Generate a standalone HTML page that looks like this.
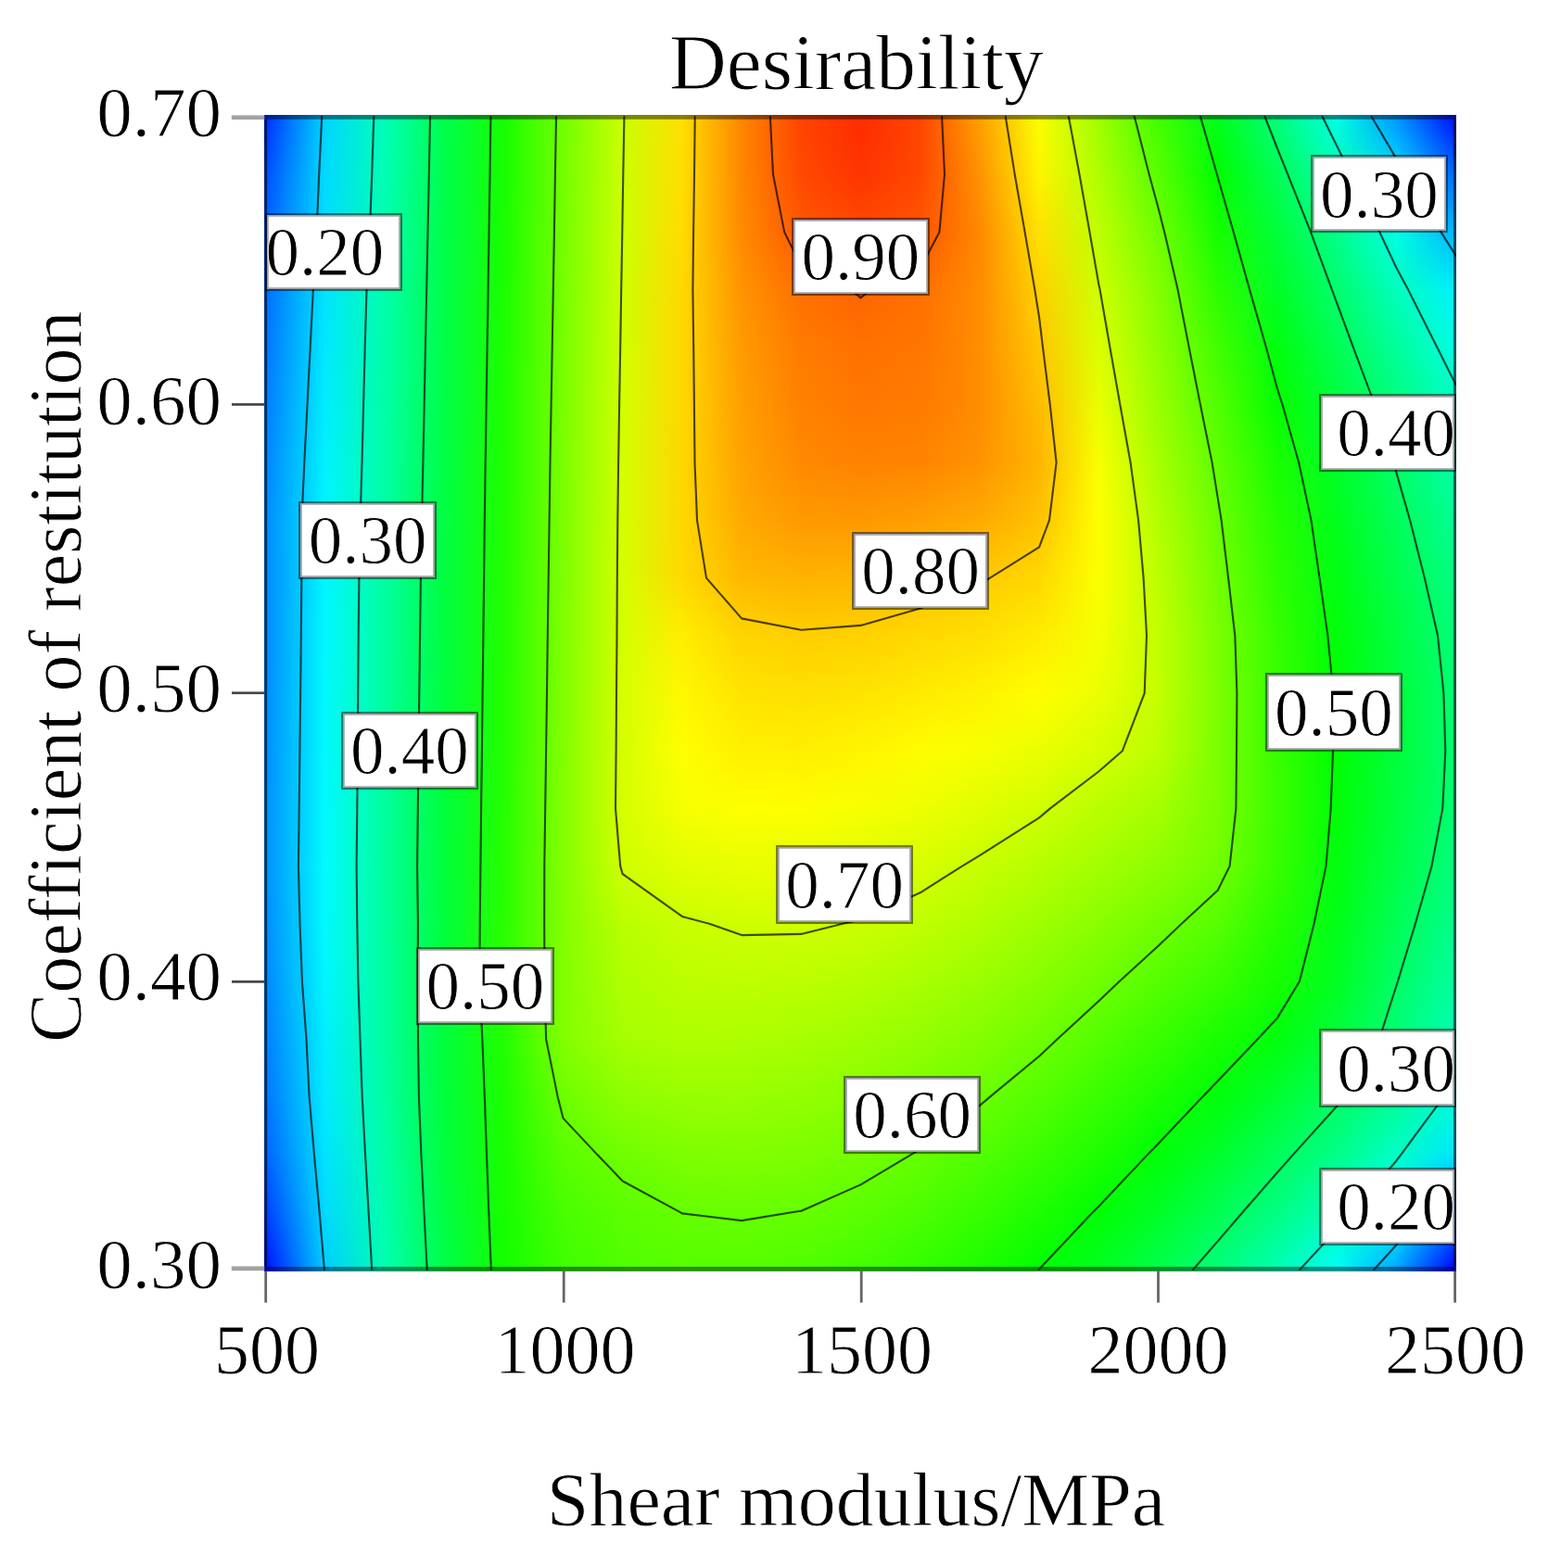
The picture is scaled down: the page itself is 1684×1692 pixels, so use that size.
<!DOCTYPE html><html><head><meta charset="utf-8"><style>
*{margin:0;padding:0}
html,body{width:1684px;height:1692px;background:#fff;overflow:hidden}
body{position:relative;font-family:"Liberation Serif","Times New Roman",serif;color:#000}
#f{position:absolute;left:285px;top:124px;width:1286px;height:1248px;overflow:hidden}
#f i{position:absolute;left:0;width:100%;display:block}
svg{position:absolute;left:0;top:0}
.lb{position:absolute;box-sizing:border-box;background:#fff;background-clip:padding-box;border:2.6px solid rgba(0,0,0,.5);box-shadow:inset 0 0 0 1.8px #a0a0a4}
.t{position:absolute;white-space:nowrap;line-height:1;-webkit-text-stroke:.85px #fff;paint-order:normal}
</style></head><body>
<div id="f"><i style="top:0px;height:2px;background:linear-gradient(90deg,#002fff 1.5px,#00d5ff,#00ffb7,#00ff4d,#15ff00,#71ff00,#caff00,#ffdf00,#ff8600,#ff4300,#ff2b00,#ff4500,#ffa000,#f9ff00,#9fff00,#40ff00,#00ff1a,#00ff7a,#00ffe6,#0096ff,#000cff 1285.5px)"></i><i style="top:2px;height:2px;background:linear-gradient(90deg,#002fff 1.5px,#00d5ff,#00ffb7,#00ff4d,#15ff00,#71ff00,#caff00,#ffdf00,#ff8600,#ff4300,#ff2b00,#ff4500,#ffa000,#f9ff00,#9fff00,#41ff00,#00ff1a,#00ff79,#00ffe5,#0097ff,#000eff 1285.5px)"></i><i style="top:4px;height:2px;background:linear-gradient(90deg,#0030ff 1.5px,#00d5ff,#00ffb7,#00ff4d,#15ff00,#71ff00,#caff00,#ffdf00,#ff8600,#ff4300,#ff2c00,#ff4500,#ff9f00,#f9fe00,#9fff00,#42ff00,#00ff19,#00ff78,#00ffe3,#009aff,#0011ff 1285.5px)"></i><i style="top:6px;height:2px;background:linear-gradient(90deg,#0031ff 1.5px,#00d5ff,#00ffb7,#00ff4d,#15ff00,#71ff00,#caff00,#ffdf00,#ff8600,#ff4400,#ff2c00,#ff4500,#ff9f00,#f9fe00,#a0ff00,#42ff00,#00ff18,#00ff77,#00ffe2,#009cff,#0014ff 1285.5px)"></i><i style="top:8px;height:2px;background:linear-gradient(90deg,#0032ff 1.5px,#00d6ff,#00ffb7,#00ff4d,#15ff00,#71ff00,#caff00,#ffdf00,#ff8600,#ff4400,#ff2c00,#ff4500,#ff9e00,#f9fe00,#a0ff00,#43ff00,#00ff17,#00ff76,#00ffe0,#009fff,#0017ff 1285.5px)"></i><i style="top:10px;height:2px;background:linear-gradient(90deg,#0033ff 1.5px,#00d6ff,#00ffb7,#00ff4d,#15ff00,#71ff00,#caff00,#ffdf00,#ff8600,#ff4400,#ff2d00,#ff4500,#ff9e00,#fafd00,#a1ff00,#44ff00,#00ff17,#00ff75,#00ffde,#00a1ff,#001aff 1285.5px)"></i><i style="top:12px;height:2px;background:linear-gradient(90deg,#0034ff 1.5px,#00d6ff,#00ffb7,#00ff4d,#15ff00,#71ff00,#caff00,#ffdf00,#ff8600,#ff4400,#ff2d00,#ff4500,#ff9d00,#fafd00,#a1ff00,#45ff00,#00ff16,#00ff73,#00ffdd,#00a3ff,#001cff 1285.5px)"></i><i style="top:14px;height:2px;background:linear-gradient(90deg,#0035ff 1.5px,#00d6ff,#00ffb7,#00ff4d,#16ff00,#71ff00,#caff00,#ffdf00,#ff8600,#ff4400,#ff2d00,#ff4500,#ff9d00,#fafd00,#a2ff00,#45ff00,#00ff15,#00ff72,#00ffdb,#00a6ff,#001fff 1285.5px)"></i><i style="top:16px;height:2px;background:linear-gradient(90deg,#0036ff 1.5px,#00d6ff,#00ffb7,#00ff4d,#16ff00,#71ff00,#caff00,#ffdf00,#ff8600,#ff4500,#ff2d00,#ff4500,#ff9d00,#fafc00,#a2ff00,#46ff00,#00ff14,#00ff71,#00ffd9,#00a8ff,#0022ff 1285.5px)"></i><i style="top:18px;height:2px;background:linear-gradient(90deg,#0037ff 1.5px,#00d6ff,#00ffb7,#00ff4d,#16ff00,#71ff00,#caff00,#ffdf00,#ff8600,#ff4500,#ff2e00,#ff4600,#ff9c00,#fafc00,#a3ff00,#47ff00,#00ff13,#00ff70,#00ffd8,#00aaff,#0025ff 1285.5px)"></i><i style="top:20px;height:2px;background:linear-gradient(90deg,#0038ff 1.5px,#00d7ff,#00ffb6,#00ff4c,#16ff00,#71ff00,#caff00,#ffdf00,#ff8600,#ff4500,#ff2e00,#ff4600,#ff9c00,#fbfc00,#a3ff00,#48ff00,#00ff13,#00ff6f,#00ffd6,#00adff,#0028ff 1285.5px)"></i><i style="top:22px;height:2px;background:linear-gradient(90deg,#003aff 1.5px,#00d7ff,#00ffb6,#00ff4c,#16ff00,#71ff00,#caff00,#ffdf00,#ff8600,#ff4500,#ff2e00,#ff4600,#ff9b00,#fbfb00,#a4ff00,#49ff00,#00ff12,#00ff6e,#00ffd4,#00afff,#002bff 1285.5px)"></i><i style="top:24px;height:2px;background:linear-gradient(90deg,#003bff 1.5px,#00d7ff,#00ffb6,#00ff4c,#16ff00,#71ff00,#caff00,#ffdf00,#ff8600,#ff4500,#ff2f00,#ff4600,#ff9b00,#fbfb00,#a5ff00,#49ff00,#00ff11,#00ff6c,#00ffd3,#00b2ff,#002eff 1285.5px)"></i><i style="top:26px;height:2px;background:linear-gradient(90deg,#003cff 1.5px,#00d7ff,#00ffb6,#00ff4c,#16ff00,#71ff00,#caff00,#ffdf00,#ff8600,#ff4500,#ff2f00,#ff4600,#ff9a00,#fbfb00,#a5ff00,#4aff00,#00ff10,#00ff6b,#00ffd1,#00b4ff,#0031ff 1285.5px)"></i><i style="top:28px;height:2px;background:linear-gradient(90deg,#003dff 1.5px,#00d7ff,#00ffb6,#00ff4c,#16ff00,#71ff00,#caff00,#ffdf00,#ff8600,#ff4600,#ff2f00,#ff4600,#ff9a00,#fbfa00,#a6ff00,#4bff00,#00ff0f,#00ff6a,#00ffd0,#00b6ff,#0034ff 1285.5px)"></i><i style="top:30px;height:2px;background:linear-gradient(90deg,#003eff 1.5px,#00d7ff,#00ffb6,#00ff4c,#16ff00,#71ff00,#caff00,#ffdf00,#ff8600,#ff4600,#ff3000,#ff4600,#ff9900,#fcfa00,#a6ff00,#4cff00,#00ff0f,#00ff69,#00ffce,#00b9ff,#0037ff 1285.5px)"></i><i style="top:32px;height:2px;background:linear-gradient(90deg,#003fff 1.5px,#00d7ff,#00ffb6,#00ff4c,#16ff00,#71ff00,#cbff00,#ffde00,#ff8600,#ff4600,#ff3000,#ff4600,#ff9900,#fcfa00,#a7ff00,#4dff00,#00ff0e,#00ff68,#00ffcc,#00bbff,#003aff 1285.5px)"></i><i style="top:34px;height:2px;background:linear-gradient(90deg,#0040ff 1.5px,#00d8ff,#00ffb6,#00ff4c,#16ff00,#72ff00,#cbff00,#ffde00,#ff8600,#ff4600,#ff3000,#ff4600,#ff9900,#fcf900,#a7ff00,#4dff00,#00ff0d,#00ff67,#00ffcb,#00beff,#003dff 1285.5px)"></i><i style="top:36px;height:2px;background:linear-gradient(90deg,#0041ff 1.5px,#00d8ff,#00ffb6,#00ff4c,#16ff00,#72ff00,#cbff00,#ffde00,#ff8600,#ff4600,#ff3000,#ff4600,#ff9800,#fcf900,#a8ff00,#4eff00,#00ff0c,#00ff65,#00ffc9,#00c0ff,#003fff 1285.5px)"></i><i style="top:38px;height:2px;background:linear-gradient(90deg,#0042ff 1.5px,#00d8ff,#00ffb6,#00ff4c,#16ff00,#72ff00,#cbff00,#ffde00,#ff8600,#ff4700,#ff3100,#ff4600,#ff9800,#fcf900,#a8ff00,#4fff00,#00ff0b,#00ff64,#00ffc7,#00c2ff,#0042ff 1285.5px)"></i><i style="top:40px;height:2px;background:linear-gradient(90deg,#0043ff 1.5px,#00d8ff,#00ffb5,#00ff4c,#16ff00,#72ff00,#cbff00,#ffde00,#ff8600,#ff4700,#ff3100,#ff4600,#ff9700,#fdf800,#a9ff00,#50ff00,#00ff0a,#00ff63,#00ffc6,#00c5ff,#0045ff 1285.5px)"></i><i style="top:42px;height:2px;background:linear-gradient(90deg,#0044ff 1.5px,#00d8ff,#00ffb5,#00ff4c,#16ff00,#72ff00,#cbff00,#ffde00,#ff8600,#ff4700,#ff3100,#ff4700,#ff9700,#fdf800,#a9ff00,#51ff00,#00ff0a,#00ff62,#00ffc4,#00c7ff,#0048ff 1285.5px)"></i><i style="top:44px;height:2px;background:linear-gradient(90deg,#0045ff 1.5px,#00d8ff,#00ffb5,#00ff4c,#16ff00,#72ff00,#cbff00,#ffde00,#ff8600,#ff4700,#ff3200,#ff4700,#ff9600,#fdf800,#aaff00,#51ff00,#00ff09,#00ff61,#00ffc2,#00c9ff,#004bff 1285.5px)"></i><i style="top:46px;height:2px;background:linear-gradient(90deg,#0046ff 1.5px,#00d9ff,#00ffb5,#00ff4c,#16ff00,#72ff00,#cbff00,#ffde00,#ff8600,#ff4700,#ff3200,#ff4700,#ff9600,#fdf700,#aaff00,#52ff00,#00ff08,#00ff60,#00ffc1,#00ccff,#004eff 1285.5px)"></i><i style="top:48px;height:2px;background:linear-gradient(90deg,#0047ff 1.5px,#00d9ff,#00ffb5,#00ff4c,#16ff00,#72ff00,#cbff00,#ffde00,#ff8600,#ff4800,#ff3200,#ff4700,#ff9500,#fdf700,#abff00,#53ff00,#00ff07,#00ff5e,#00ffbf,#00ceff,#0051ff 1285.5px)"></i><i style="top:50px;height:2px;background:linear-gradient(90deg,#0048ff 1.5px,#00d9ff,#00ffb5,#00ff4c,#16ff00,#72ff00,#cbff00,#ffde00,#ff8600,#ff4800,#ff3300,#ff4700,#ff9500,#fef700,#abff00,#54ff00,#00ff06,#00ff5d,#00ffbd,#00d1ff,#0054ff 1285.5px)"></i><i style="top:52px;height:2px;background:linear-gradient(90deg,#0049ff 1.5px,#00d9ff,#00ffb5,#00ff4c,#16ff00,#72ff00,#cbff00,#ffde00,#ff8600,#ff4800,#ff3300,#ff4700,#ff9500,#fef600,#acff00,#54ff00,#00ff06,#00ff5c,#00ffbc,#00d3ff,#0057ff 1285.5px)"></i><i style="top:54px;height:2px;background:linear-gradient(90deg,#004aff 1.5px,#00d9ff,#00ffb5,#00ff4c,#16ff00,#72ff00,#cbff00,#ffde00,#ff8600,#ff4800,#ff3300,#ff4700,#ff9400,#fef600,#acff00,#55ff00,#00ff05,#00ff5b,#00ffba,#00d5ff,#005aff 1285.5px)"></i><i style="top:56px;height:2px;background:linear-gradient(90deg,#004bff 1.5px,#00d9ff,#00ffb5,#00ff4b,#16ff00,#72ff00,#cbff00,#ffde00,#ff8600,#ff4800,#ff3300,#ff4700,#ff9400,#fef600,#adff00,#56ff00,#00ff04,#00ff5a,#00ffb8,#00d8ff,#005dff 1285.5px)"></i><i style="top:58px;height:2px;background:linear-gradient(90deg,#004cff 1.5px,#00daff,#00ffb4,#00ff4b,#17ff00,#72ff00,#cbff00,#ffde00,#ff8600,#ff4800,#ff3400,#ff4700,#ff9300,#fef500,#adff00,#57ff00,#00ff03,#00ff59,#00ffb7,#00daff,#0060ff 1285.5px)"></i><i style="top:60px;height:2px;background:linear-gradient(90deg,#004dff 1.5px,#00daff,#00ffb4,#00ff4b,#17ff00,#72ff00,#cbff00,#ffde00,#ff8600,#ff4900,#ff3400,#ff4700,#ff9300,#fff500,#aeff00,#58ff00,#00ff02,#00ff58,#00ffb5,#00ddff,#0063ff 1285.5px)"></i><i style="top:62px;height:2px;background:linear-gradient(90deg,#004eff 1.5px,#00daff,#00ffb4,#00ff4b,#17ff00,#72ff00,#cbff00,#ffde00,#ff8600,#ff4900,#ff3400,#ff4700,#ff9200,#fff500,#aeff00,#58ff00,#00ff02,#00ff56,#00ffb3,#00dfff,#0065ff 1285.5px)"></i><i style="top:64px;height:2px;background:linear-gradient(90deg,#004fff 1.5px,#00daff,#00ffb4,#00ff4b,#17ff00,#72ff00,#cbff00,#ffde00,#ff8600,#ff4900,#ff3500,#ff4800,#ff9200,#fff400,#afff00,#59ff00,#00ff01,#00ff55,#00ffb2,#00e1ff,#0068ff 1285.5px)"></i><i style="top:66px;height:2px;background:linear-gradient(90deg,#0050ff 1.5px,#00daff,#00ffb4,#00ff4b,#17ff00,#72ff00,#cbff00,#ffde00,#ff8700,#ff4a00,#ff3500,#ff4800,#ff9200,#fff400,#afff00,#5aff00,#01ff01,#00ff54,#00ffb1,#00e2fe,#006bff 1285.5px)"></i><i style="top:68px;height:2px;background:linear-gradient(90deg,#0050ff 1.5px,#00daff,#00ffb4,#00ff4b,#17ff00,#72ff00,#cbff00,#ffde00,#ff8700,#ff4a00,#ff3600,#ff4900,#ff9100,#fff300,#b0ff00,#5bff00,#02ff01,#00ff53,#00ffaf,#00e3fd,#006dff 1285.5px)"></i><i style="top:70px;height:2px;background:linear-gradient(90deg,#0051ff 1.5px,#00daff,#00ffb4,#00ff4b,#17ff00,#72ff00,#cbff00,#ffde00,#ff8700,#ff4b00,#ff3700,#ff4900,#ff9100,#fff200,#b0ff00,#5bff00,#02ff01,#00ff53,#00ffae,#00e4fc,#006fff 1285.5px)"></i><i style="top:72px;height:2px;background:linear-gradient(90deg,#0051ff 1.5px,#00dbff,#00ffb4,#00ff4b,#17ff00,#72ff00,#cbff00,#ffde00,#ff8700,#ff4b00,#ff3700,#ff4900,#ff9100,#fff200,#b1ff00,#5cff00,#03ff01,#00ff52,#00ffac,#00e5fb,#0072ff 1285.5px)"></i><i style="top:74px;height:2px;background:linear-gradient(90deg,#0052ff 1.5px,#00dbff,#00ffb4,#00ff4b,#17ff00,#72ff00,#cbff00,#ffdd00,#ff8700,#ff4c00,#ff3800,#ff4a00,#ff9000,#fff100,#b1ff00,#5dff00,#04ff01,#00ff51,#00ffab,#00e6fb,#0074ff 1285.5px)"></i><i style="top:76px;height:2px;background:linear-gradient(90deg,#0053ff 1.5px,#00dbff,#00ffb3,#00ff4b,#17ff00,#73ff00,#ccff00,#ffdd00,#ff8700,#ff4c00,#ff3900,#ff4a00,#ff9000,#fff100,#b2ff00,#5eff00,#04ff01,#00ff50,#00ffaa,#00e7fa,#0077ff 1285.5px)"></i><i style="top:78px;height:2px;background:linear-gradient(90deg,#0053ff 1.5px,#00dbff,#00ffb3,#00ff4b,#17ff00,#73ff00,#ccff00,#ffdd00,#ff8700,#ff4c00,#ff3900,#ff4b00,#ff9000,#fff000,#b2ff00,#5eff00,#05ff01,#00ff4f,#00ffa8,#00e8f9,#0079ff 1285.5px)"></i><i style="top:80px;height:2px;background:linear-gradient(90deg,#0054ff 1.5px,#00dbff,#00ffb3,#00ff4b,#17ff00,#73ff00,#ccff00,#ffdd00,#ff8700,#ff4d00,#ff3a00,#ff4b00,#ff9000,#ffef00,#b3ff00,#5fff00,#06ff01,#00ff4e,#00ffa7,#00e9f8,#007cff 1285.5px)"></i><i style="top:82px;height:2px;background:linear-gradient(90deg,#0055ff 1.5px,#00dbff,#00ffb3,#00ff4b,#17ff00,#73ff00,#ccff00,#ffdd00,#ff8800,#ff4d00,#ff3b00,#ff4c00,#ff8f00,#ffef00,#b3ff00,#60ff00,#06ff01,#00ff4d,#00ffa6,#00eaf8,#007eff 1285.5px)"></i><i style="top:84px;height:2px;background:linear-gradient(90deg,#0055ff 1.5px,#00dbff,#00ffb3,#00ff4b,#17ff00,#73ff00,#ccff00,#ffdd00,#ff8800,#ff4e00,#ff3b00,#ff4c00,#ff8f00,#ffee00,#b4ff00,#60ff00,#07ff01,#00ff4c,#00ffa4,#00ebf7,#0081ff 1285.5px)"></i><i style="top:86px;height:2px;background:linear-gradient(90deg,#0056ff 1.5px,#00dbff,#00ffb3,#00ff4b,#17ff00,#73ff00,#ccff00,#ffdd00,#ff8800,#ff4e00,#ff3c00,#ff4d00,#ff8f00,#ffed00,#b4ff00,#61ff00,#08ff01,#00ff4b,#00ffa3,#00ecf6,#0083ff 1285.5px)"></i><i style="top:88px;height:2px;background:linear-gradient(90deg,#0056ff 1.5px,#00dcff,#00ffb3,#00ff4b,#17ff00,#73ff00,#ccff00,#ffdd00,#ff8800,#ff4f00,#ff3d00,#ff4d00,#ff8e00,#ffed00,#b5ff00,#62ff00,#08ff01,#00ff4a,#00ffa2,#00edf5,#0085ff 1285.5px)"></i><i style="top:90px;height:2px;background:linear-gradient(90deg,#0057ff 1.5px,#00dcff,#00ffb2,#00ff4b,#17ff00,#73ff00,#ccff00,#ffdd00,#ff8800,#ff4f00,#ff3d00,#ff4e00,#ff8e00,#ffec00,#b5ff00,#63ff00,#09ff01,#00ff49,#00ffa0,#00eef4,#0088ff 1285.5px)"></i><i style="top:92px;height:2px;background:linear-gradient(90deg,#0058ff 1.5px,#00dcff,#00ffb2,#00ff4b,#17ff00,#73ff00,#ccff00,#ffdd00,#ff8800,#ff5000,#ff3e00,#ff4e00,#ff8e00,#ffec00,#b5ff00,#63ff00,#0aff01,#00ff49,#00ff9f,#00eff4,#008aff 1285.5px)"></i><i style="top:94px;height:2px;background:linear-gradient(90deg,#0058ff 1.5px,#00dcff,#00ffb2,#00ff4b,#17ff00,#73ff00,#ccff00,#ffdd00,#ff8800,#ff5000,#ff3f00,#ff4e00,#ff8d00,#ffeb00,#b6ff00,#64ff00,#0aff01,#00ff48,#00ff9e,#00f0f3,#008dff 1285.5px)"></i><i style="top:96px;height:2px;background:linear-gradient(90deg,#0059ff 1.5px,#00dcff,#00ffb2,#00ff4b,#17ff00,#73ff00,#ccff00,#ffdd00,#ff8800,#ff5100,#ff3f00,#ff4f00,#ff8d00,#ffea00,#b6ff00,#65ff00,#0bff01,#00ff47,#00ff9c,#00f1f2,#008fff 1285.5px)"></i><i style="top:98px;height:2px;background:linear-gradient(90deg,#005aff 1.5px,#00dcff,#00ffb2,#00ff4b,#17ff00,#73ff00,#ccff00,#ffdd00,#ff8800,#ff5100,#ff4000,#ff4f00,#ff8d00,#ffea00,#b7ff00,#66ff00,#0cff00,#00ff46,#00ff9b,#00f1f1,#0092ff 1285.5px)"></i><i style="top:100px;height:2px;background:linear-gradient(90deg,#005aff 1.5px,#00dcff,#00ffb2,#00ff4b,#18ff00,#73ff00,#ccff00,#ffdc00,#ff8900,#ff5200,#ff4100,#ff5000,#ff8d00,#ffe900,#b7ff00,#66ff00,#0cff00,#00ff45,#00ff9a,#00f2f0,#0094ff 1285.5px)"></i><i style="top:102px;height:2px;background:linear-gradient(90deg,#005bff 1.5px,#00dcff,#00ffb2,#00ff4a,#18ff00,#73ff00,#ccff00,#ffdc00,#ff8900,#ff5200,#ff4100,#ff5000,#ff8c00,#ffe900,#b8ff00,#67ff00,#0dff00,#00ff44,#00ff98,#00f3f0,#0096ff 1285.5px)"></i><i style="top:104px;height:2px;background:linear-gradient(90deg,#005bff 1.5px,#00dcff,#00ffb2,#00ff4a,#18ff00,#73ff00,#ccff00,#ffdc00,#ff8900,#ff5300,#ff4200,#ff5100,#ff8c00,#ffe800,#b8ff00,#68ff00,#0dff00,#00ff43,#00ff97,#00f4ef,#0099ff 1285.5px)"></i><i style="top:106px;height:2px;background:linear-gradient(90deg,#005cff 1.5px,#00ddff,#00ffb1,#00ff4a,#18ff00,#73ff00,#ccff00,#ffdc00,#ff8900,#ff5300,#ff4300,#ff5100,#ff8c00,#ffe700,#b9ff00,#68ff00,#0eff00,#00ff42,#00ff96,#00f5ee,#009bff 1285.5px)"></i><i style="top:108px;height:2px;background:linear-gradient(90deg,#005dff 1.5px,#00ddff,#00ffb1,#00ff4a,#18ff00,#73ff00,#ccff00,#ffdc00,#ff8900,#ff5400,#ff4300,#ff5200,#ff8b00,#ffe700,#b9ff00,#69ff00,#0fff00,#00ff41,#00ff94,#00f6ed,#009eff 1285.5px)"></i><i style="top:110px;height:2px;background:linear-gradient(90deg,#005dff 1.5px,#00ddff,#00ffb1,#00ff4a,#18ff00,#73ff00,#ccff00,#ffdc00,#ff8900,#ff5400,#ff4400,#ff5200,#ff8b00,#ffe600,#baff00,#6aff00,#0fff00,#00ff40,#00ff93,#00f7ec,#00a0ff 1285.5px)"></i><i style="top:112px;height:2px;background:linear-gradient(90deg,#005eff 1.5px,#00ddff,#00ffb1,#00ff4a,#18ff00,#73ff00,#ccff00,#ffdc00,#ff8900,#ff5500,#ff4500,#ff5200,#ff8b00,#ffe600,#baff00,#6bff00,#10ff00,#00ff3f,#00ff92,#00f8ec,#00a3ff 1285.5px)"></i><i style="top:114px;height:2px;background:linear-gradient(90deg,#005fff 1.5px,#00ddff,#00ffb1,#00ff4a,#18ff00,#73ff00,#ccff00,#ffdc00,#ff8900,#ff5500,#ff4500,#ff5300,#ff8a00,#ffe500,#bbff00,#6bff00,#11ff00,#00ff3f,#00ff90,#00f9eb,#00a5ff 1285.5px)"></i><i style="top:116px;height:2px;background:linear-gradient(90deg,#005fff 1.5px,#00ddff,#00ffb1,#00ff4a,#18ff00,#74ff00,#ccff00,#ffdc00,#ff8a00,#ff5600,#ff4600,#ff5300,#ff8a00,#ffe400,#bbff00,#6cff00,#11ff00,#00ff3e,#00ff8f,#00faea,#00a7ff 1285.5px)"></i><i style="top:118px;height:2px;background:linear-gradient(90deg,#0060ff 1.5px,#00ddff,#00ffb1,#00ff4a,#18ff00,#74ff00,#ccff00,#ffdc00,#ff8a00,#ff5600,#ff4700,#ff5400,#ff8a00,#ffe400,#bcff00,#6dff00,#12ff00,#00ff3d,#00ff8e,#00fbe9,#00aaff 1285.5px)"></i><i style="top:120px;height:2px;background:linear-gradient(90deg,#0060ff 1.5px,#00ddff,#00ffb0,#00ff4a,#18ff00,#74ff00,#ccff00,#ffdc00,#ff8a00,#ff5700,#ff4700,#ff5400,#ff8a00,#ffe300,#bcff00,#6eff00,#13ff00,#00ff3c,#00ff8c,#00fce8,#00acff 1285.5px)"></i><i style="top:122px;height:2px;background:linear-gradient(90deg,#0061ff 1.5px,#00deff,#00ffb0,#00ff4a,#18ff00,#74ff00,#cdff00,#ffdc00,#ff8a00,#ff5700,#ff4800,#ff5500,#ff8900,#ffe300,#bdff00,#6eff00,#13ff00,#00ff3b,#00ff8b,#00fde8,#00afff 1285.5px)"></i><i style="top:124px;height:2px;background:linear-gradient(90deg,#0062ff 1.5px,#00deff,#00ffb0,#00ff4a,#18ff00,#74ff00,#cdff00,#ffdc00,#ff8a00,#ff5800,#ff4900,#ff5500,#ff8900,#ffe200,#bdff00,#6fff00,#14ff00,#00ff3a,#00ff8a,#00fee7,#00b1ff 1285.5px)"></i><i style="top:126px;height:2px;background:linear-gradient(90deg,#0062ff 1.5px,#00deff,#00ffb0,#00ff4a,#18ff00,#74ff00,#cdff00,#ffdc00,#ff8a00,#ff5800,#ff4900,#ff5600,#ff8900,#ffe100,#beff00,#70ff00,#15ff00,#00ff39,#00ff89,#00ffe6,#00b3ff 1285.5px)"></i><i style="top:128px;height:2px;background:linear-gradient(90deg,#0063ff 1.5px,#00deff,#00ffb0,#00ff4a,#18ff00,#74ff00,#cdff00,#ffdb00,#ff8a00,#ff5900,#ff4a00,#ff5700,#ff8900,#ffe100,#beff00,#70ff00,#16ff00,#00ff38,#00ff88,#00ffe4,#00b5ff 1285.5px)"></i><i style="top:130px;height:2px;background:linear-gradient(90deg,#0063ff 1.5px,#00deff,#00ffb0,#00ff4a,#18ff00,#74ff00,#cdff00,#ffdb00,#ff8b00,#ff5a00,#ff4b00,#ff5700,#ff8900,#ffe000,#bfff00,#71ff00,#16ff00,#00ff38,#00ff87,#00ffe3,#00b7ff 1285.5px)"></i><i style="top:132px;height:2px;background:linear-gradient(90deg,#0063ff 1.5px,#00deff,#00ffb0,#00ff4a,#18ff00,#74ff00,#cdff00,#ffdb00,#ff8b00,#ff5a00,#ff4c00,#ff5800,#ff8900,#ffe000,#bfff00,#72ff00,#17ff00,#00ff37,#00ff86,#00ffe2,#00b9ff 1285.5px)"></i><i style="top:134px;height:2px;background:linear-gradient(90deg,#0064ff 1.5px,#00dfff,#00ffaf,#00ff4a,#18ff00,#74ff00,#cdff00,#ffdb00,#ff8b00,#ff5b00,#ff4d00,#ff5900,#ff8900,#ffdf00,#c0ff00,#72ff00,#18ff00,#00ff37,#00ff85,#00ffe0,#00bbff 1285.5px)"></i><i style="top:136px;height:2px;background:linear-gradient(90deg,#0064ff 1.5px,#00dfff,#00ffaf,#00ff4a,#18ff00,#74ff00,#cdff00,#ffdb00,#ff8c00,#ff5c00,#ff4e00,#ff5a00,#ff8900,#ffdf00,#c0ff00,#73ff00,#18ff00,#00ff36,#00ff84,#00ffdf,#00bdff 1285.5px)"></i><i style="top:138px;height:2px;background:linear-gradient(90deg,#0064ff 1.5px,#00dfff,#00ffaf,#00ff4a,#18ff00,#74ff00,#cdff00,#ffdb00,#ff8c00,#ff5d00,#ff4f00,#ff5b00,#ff8900,#ffde00,#c1ff00,#73ff00,#19ff00,#00ff35,#00ff83,#00ffde,#00bfff 1285.5px)"></i><i style="top:140px;height:2px;background:linear-gradient(90deg,#0065ff 1.5px,#00dfff,#00ffaf,#00ff4a,#19ff00,#74ff00,#cdff00,#ffdb00,#ff8c00,#ff5d00,#ff4f00,#ff5c00,#ff8a00,#ffde00,#c1ff00,#74ff00,#1aff00,#00ff35,#00ff82,#00ffdc,#00c1ff 1285.5px)"></i><i style="top:142px;height:2px;background:linear-gradient(90deg,#0065ff 1.5px,#00dfff,#00ffaf,#00ff4a,#19ff00,#74ff00,#cdff00,#ffdb00,#ff8c00,#ff5e00,#ff5000,#ff5c00,#ff8a00,#ffdd00,#c2ff00,#75ff00,#1bff00,#00ff34,#00ff81,#00ffdb,#00c3ff 1285.5px)"></i><i style="top:144px;height:2px;background:linear-gradient(90deg,#0065ff 1.5px,#00e0ff,#00ffae,#00ff4a,#19ff00,#74ff00,#cdff00,#ffdb00,#ff8d00,#ff5f00,#ff5100,#ff5d00,#ff8a00,#ffdd00,#c2ff00,#75ff00,#1bff00,#00ff33,#00ff80,#00ffda,#00c5ff 1285.5px)"></i><i style="top:146px;height:2px;background:linear-gradient(90deg,#0066ff 1.5px,#00e0ff,#00ffae,#00ff4a,#19ff00,#74ff00,#cdff00,#ffdb00,#ff8d00,#ff6000,#ff5200,#ff5e00,#ff8a00,#ffdc00,#c3ff00,#76ff00,#1cff00,#00ff33,#00ff7f,#00ffd8,#00c7ff 1285.5px)"></i><i style="top:148px;height:2px;background:linear-gradient(90deg,#0066ff 1.5px,#00e0ff,#00ffae,#00ff4a,#19ff00,#74ff00,#cdff00,#ffda00,#ff8d00,#ff6100,#ff5300,#ff5f00,#ff8a00,#ffdc00,#c3ff00,#77ff00,#1dff00,#00ff32,#00ff7e,#00ffd7,#00c9ff 1285.5px)"></i><i style="top:150px;height:2px;background:linear-gradient(90deg,#0067ff 1.5px,#00e0ff,#00ffae,#00ff4a,#19ff00,#74ff00,#cdff00,#ffda00,#ff8e00,#ff6100,#ff5400,#ff6000,#ff8a00,#ffdb00,#c4ff00,#77ff00,#1dff00,#00ff31,#00ff7d,#00ffd5,#00cbff 1285.5px)"></i><i style="top:152px;height:2px;background:linear-gradient(90deg,#0067ff 1.5px,#00e0ff,#00ffae,#00ff4a,#19ff00,#74ff00,#cdff00,#ffda00,#ff8e00,#ff6200,#ff5500,#ff6100,#ff8a00,#ffdb00,#c4ff00,#78ff00,#1eff00,#00ff31,#00ff7c,#00ffd4,#00cdff 1285.5px)"></i><i style="top:154px;height:2px;background:linear-gradient(90deg,#0067ff 1.5px,#00e1ff,#00ffad,#00ff4a,#19ff00,#74ff00,#cdff00,#ffda00,#ff8e00,#ff6300,#ff5500,#ff6100,#ff8a00,#ffda00,#c5ff00,#79ff00,#1fff00,#00ff30,#00ff7b,#00ffd3,#00cfff 1285.5px)"></i><i style="top:156px;height:2px;background:linear-gradient(90deg,#0068ff 1.5px,#00e1ff,#00ffad,#00ff4a,#19ff00,#75ff00,#cdff00,#ffda00,#ff8e00,#ff6400,#ff5600,#ff6200,#ff8a00,#ffd900,#c5ff00,#79ff00,#20ff00,#00ff2f,#00ff7a,#00ffd1,#00d1ff 1285.5px)"></i><i style="top:158px;height:2px;background:linear-gradient(90deg,#0068ff 1.5px,#00e1ff,#00ffad,#00ff4a,#19ff00,#75ff00,#cdff00,#ffda00,#ff8f00,#ff6400,#ff5700,#ff6300,#ff8b00,#ffd900,#c6ff00,#7aff00,#20ff00,#00ff2f,#00ff7a,#00ffd0,#00d3ff 1285.5px)"></i><i style="top:160px;height:2px;background:linear-gradient(90deg,#0068ff 1.5px,#00e1ff,#00ffad,#00ff4a,#19ff00,#75ff00,#cdff00,#ffda00,#ff8f00,#ff6500,#ff5800,#ff6400,#ff8b00,#ffd800,#c6ff00,#7aff00,#21ff00,#00ff2e,#00ff79,#00ffcf,#00d5ff 1285.5px)"></i><i style="top:162px;height:2px;background:linear-gradient(90deg,#0069ff 1.5px,#00e1ff,#00ffad,#00ff4a,#19ff00,#75ff00,#cdff00,#ffda00,#ff8f00,#ff6600,#ff5900,#ff6500,#ff8b00,#ffd800,#c7ff00,#7bff00,#22ff00,#00ff2d,#00ff78,#00ffcd,#00d7ff 1285.5px)"></i><i style="top:164px;height:2px;background:linear-gradient(90deg,#0069ff 1.5px,#00e2ff,#00ffad,#00ff4a,#19ff00,#75ff00,#ceff00,#ffda00,#ff8f00,#ff6700,#ff5a00,#ff6600,#ff8b00,#ffd700,#c7ff00,#7cff00,#22ff00,#00ff2d,#00ff77,#00ffcc,#00d9ff 1285.5px)"></i><i style="top:166px;height:2px;background:linear-gradient(90deg,#0069ff 1.5px,#00e2ff,#00ffac,#00ff4a,#19ff00,#75ff00,#ceff00,#ffda00,#ff9000,#ff6700,#ff5b00,#ff6600,#ff8b00,#ffd700,#c8ff00,#7cff00,#23ff00,#00ff2c,#00ff76,#00ffca,#00dbff 1285.5px)"></i><i style="top:168px;height:2px;background:linear-gradient(90deg,#006aff 1.5px,#00e2ff,#00ffac,#00ff4a,#19ff00,#75ff00,#ceff00,#ffd900,#ff9000,#ff6800,#ff5c00,#ff6700,#ff8b00,#ffd600,#c8ff00,#7dff00,#24ff00,#00ff2b,#00ff75,#00ffc9,#00ddff 1285.5px)"></i><i style="top:170px;height:2px;background:linear-gradient(90deg,#006aff 1.5px,#00e2ff,#00ffac,#00ff4a,#19ff00,#75ff00,#ceff00,#ffd900,#ff9000,#ff6900,#ff5c00,#ff6800,#ff8b00,#ffd600,#c9ff00,#7eff00,#25ff00,#00ff2b,#00ff74,#00ffc8,#00dfff 1285.5px)"></i><i style="top:172px;height:2px;background:linear-gradient(90deg,#006bff 1.5px,#00e2ff,#00ffac,#00ff4a,#19ff00,#75ff00,#ceff00,#ffd900,#ff9100,#ff6a00,#ff5d00,#ff6900,#ff8b00,#ffd500,#c9ff00,#7eff00,#25ff00,#00ff2a,#00ff73,#00ffc6,#00e1ff 1285.5px)"></i><i style="top:174px;height:2px;background:linear-gradient(90deg,#006bff 1.5px,#00e3ff,#00ffac,#00ff4a,#19ff00,#75ff00,#ceff00,#ffd900,#ff9100,#ff6a00,#ff5e00,#ff6a00,#ff8b00,#ffd500,#caff00,#7fff00,#26ff00,#00ff29,#00ff72,#00ffc5,#00e3ff 1285.5px)"></i><i style="top:176px;height:2px;background:linear-gradient(90deg,#006bff 1.5px,#00e3ff,#00ffab,#00ff4a,#1aff00,#75ff00,#ceff00,#ffd900,#ff9100,#ff6b00,#ff5f00,#ff6b00,#ff8c00,#ffd400,#cbff00,#7fff00,#27ff00,#00ff29,#00ff71,#00ffc4,#00e5ff 1285.5px)"></i><i style="top:178px;height:2px;background:linear-gradient(90deg,#006cff 1.5px,#00e3ff,#00ffab,#00ff4a,#1aff00,#75ff00,#ceff00,#ffd900,#ff9100,#ff6c00,#ff6000,#ff6b00,#ff8c00,#ffd400,#cbff00,#80ff00,#27ff00,#00ff28,#00ff70,#00ffc2,#00e7ff 1285.5px)"></i><i style="top:180px;height:2px;background:linear-gradient(90deg,#006cff 1.5px,#00e3ff,#00ffab,#00ff49,#1aff00,#75ff00,#ceff00,#ffd900,#ff9200,#ff6d00,#ff6100,#ff6c00,#ff8c00,#ffd300,#ccff00,#81ff00,#28ff00,#00ff28,#00ff6f,#00ffc1,#00e9ff 1285.5px)"></i><i style="top:182px;height:2px;background:linear-gradient(90deg,#006cff 1.5px,#00e3ff,#00ffab,#00ff49,#1aff00,#75ff00,#ceff00,#ffd900,#ff9200,#ff6e00,#ff6200,#ff6d00,#ff8c00,#ffd300,#ccff00,#81ff00,#29ff00,#00ff27,#00ff6e,#00ffc0,#00ebff 1285.5px)"></i><i style="top:184px;height:2px;background:linear-gradient(90deg,#006dff 1.5px,#00e4ff,#00ffab,#00ff49,#1aff00,#75ff00,#ceff00,#ffd900,#ff9200,#ff6e00,#ff6300,#ff6e00,#ff8c00,#ffd200,#cdff00,#82ff00,#2aff00,#00ff26,#00ff6d,#00ffbe,#00edff 1285.5px)"></i><i style="top:186px;height:2px;background:linear-gradient(90deg,#006dff 1.5px,#00e4ff,#00ffaa,#00ff49,#1aff00,#75ff00,#ceff00,#ffd900,#ff9300,#ff6f00,#ff6300,#ff6f00,#ff8c00,#ffd200,#cdff00,#83ff00,#2aff00,#00ff26,#00ff6c,#00ffbd,#00efff 1285.5px)"></i><i style="top:188px;height:2px;background:linear-gradient(90deg,#006dff 1.5px,#00e4ff,#00ffaa,#00ff49,#1aff00,#75ff00,#ceff00,#ffd900,#ff9300,#ff7000,#ff6400,#ff6f00,#ff8c00,#ffd100,#ceff00,#83ff00,#2bff00,#00ff25,#00ff6c,#00ffbb,#00f0ff 1285.5px)"></i><i style="top:190px;height:2px;background:linear-gradient(90deg,#006eff 1.5px,#00e4ff,#00ffaa,#00ff49,#1aff00,#75ff00,#ceff00,#ffd800,#ff9300,#ff7000,#ff6500,#ff7000,#ff8c00,#ffd100,#ceff00,#83ff00,#2cff00,#00ff24,#00ff6b,#00ffba,#00f1fe 1285.5px)"></i><i style="top:192px;height:2px;background:linear-gradient(90deg,#006eff 1.5px,#00e4ff,#00ffaa,#00ff49,#1aff00,#75ff00,#ceff00,#ffd800,#ff9300,#ff7100,#ff6500,#ff7000,#ff8c00,#ffd000,#ceff00,#84ff00,#2cff00,#00ff23,#00ff6a,#00ffb9,#00f1fd 1285.5px)"></i><i style="top:194px;height:2px;background:linear-gradient(90deg,#006eff 1.5px,#00e4ff,#00ffaa,#00ff49,#1aff00,#75ff00,#ceff00,#ffd800,#ff9400,#ff7100,#ff6500,#ff7000,#ff8c00,#ffd000,#cfff00,#84ff00,#2dff00,#00ff23,#00ff69,#00ffb8,#00f2fc 1285.5px)"></i><i style="top:196px;height:2px;background:linear-gradient(90deg,#006fff 1.5px,#00e5ff,#00ffaa,#00ff49,#1aff00,#75ff00,#ceff00,#ffd800,#ff9400,#ff7100,#ff6600,#ff7000,#ff8c00,#ffd000,#cfff00,#85ff00,#2eff00,#00ff22,#00ff68,#00ffb7,#00f2fb 1285.5px)"></i><i style="top:198px;height:2px;background:linear-gradient(90deg,#006fff 1.5px,#00e5ff,#00ffaa,#00ff49,#1aff00,#76ff00,#ceff00,#ffd800,#ff9400,#ff7200,#ff6600,#ff7100,#ff8c00,#ffcf00,#d0ff00,#85ff00,#2eff00,#00ff21,#00ff68,#00ffb6,#00f3fa 1285.5px)"></i><i style="top:200px;height:2px;background:linear-gradient(90deg,#006fff 1.5px,#00e5ff,#00ffaa,#00ff49,#1aff00,#76ff00,#ceff00,#ffd800,#ff9400,#ff7200,#ff6700,#ff7100,#ff8c00,#ffcf00,#d0ff00,#85ff00,#2fff00,#00ff21,#00ff67,#00ffb5,#00f3f9 1285.5px)"></i><i style="top:202px;height:2px;background:linear-gradient(90deg,#006fff 1.5px,#00e5ff,#00ffaa,#00ff49,#1aff00,#76ff00,#ceff00,#ffd800,#ff9500,#ff7200,#ff6700,#ff7100,#ff8c00,#ffcf00,#d0ff00,#86ff00,#30ff00,#00ff20,#00ff66,#00ffb4,#00f4f9 1285.5px)"></i><i style="top:204px;height:2px;background:linear-gradient(90deg,#0070ff 1.5px,#00e5ff,#00ffaa,#00ff49,#1aff00,#76ff00,#ceff00,#ffd800,#ff9500,#ff7300,#ff6800,#ff7100,#ff8d00,#ffce00,#d1ff00,#86ff00,#30ff00,#00ff1f,#00ff65,#00ffb3,#00f4f8 1285.5px)"></i><i style="top:206px;height:2px;background:linear-gradient(90deg,#0070ff 1.5px,#00e5ff,#00ffaa,#00ff49,#1aff00,#76ff00,#cfff00,#ffd800,#ff9500,#ff7300,#ff6800,#ff7100,#ff8d00,#ffce00,#d1ff00,#86ff00,#31ff00,#00ff1e,#00ff64,#00ffb1,#00f5f7 1285.5px)"></i><i style="top:208px;height:2px;background:linear-gradient(90deg,#0070ff 1.5px,#00e5ff,#00ffa9,#00ff49,#1aff00,#76ff00,#cfff00,#ffd800,#ff9500,#ff7300,#ff6800,#ff7200,#ff8d00,#ffce00,#d2ff00,#87ff00,#32ff00,#00ff1e,#00ff63,#00ffb0,#00f5f6 1285.5px)"></i><i style="top:210px;height:2px;background:linear-gradient(90deg,#0070ff 1.5px,#00e6ff,#00ffa9,#00ff49,#1aff00,#76ff00,#cfff00,#ffd800,#ff9600,#ff7400,#ff6900,#ff7200,#ff8d00,#ffcd00,#d2ff00,#87ff00,#33ff00,#00ff1d,#00ff63,#00ffaf,#00f6f5 1285.5px)"></i><i style="top:212px;height:2px;background:linear-gradient(90deg,#0071ff 1.5px,#00e6ff,#00ffa9,#00ff49,#1aff00,#76ff00,#cfff00,#ffd800,#ff9600,#ff7400,#ff6900,#ff7200,#ff8d00,#ffcd00,#d3ff00,#88ff00,#33ff00,#00ff1c,#00ff62,#00ffae,#00f6f4 1285.5px)"></i><i style="top:214px;height:2px;background:linear-gradient(90deg,#0071ff 1.5px,#00e6ff,#00ffa9,#00ff49,#1aff00,#76ff00,#cfff00,#ffd800,#ff9600,#ff7400,#ff6a00,#ff7200,#ff8d00,#ffcd00,#d3ff00,#88ff00,#34ff00,#00ff1c,#00ff61,#00ffad,#00f7f3 1285.5px)"></i><i style="top:216px;height:2px;background:linear-gradient(90deg,#0071ff 1.5px,#00e6ff,#00ffa9,#00ff49,#1bff00,#76ff00,#cfff00,#ffd800,#ff9600,#ff7500,#ff6a00,#ff7200,#ff8d00,#ffcc00,#d3ff00,#88ff00,#35ff00,#00ff1b,#00ff60,#00ffac,#00f7f2 1285.5px)"></i><i style="top:218px;height:2px;background:linear-gradient(90deg,#0071ff 1.5px,#00e6ff,#00ffa9,#00ff49,#1bff00,#76ff00,#cfff00,#ffd800,#ff9600,#ff7500,#ff6b00,#ff7300,#ff8d00,#ffcc00,#d4ff00,#89ff00,#35ff00,#00ff1a,#00ff5f,#00ffab,#00f7f2 1285.5px)"></i><i style="top:220px;height:2px;background:linear-gradient(90deg,#0072ff 1.5px,#00e6ff,#00ffa9,#00ff49,#1bff00,#76ff00,#cfff00,#ffd800,#ff9700,#ff7600,#ff6b00,#ff7300,#ff8d00,#ffcc00,#d4ff00,#89ff00,#36ff00,#00ff19,#00ff5f,#00ffaa,#00f8f1 1285.5px)"></i><i style="top:222px;height:2px;background:linear-gradient(90deg,#0072ff 1.5px,#00e7ff,#00ffa9,#00ff49,#1bff00,#76ff00,#cfff00,#ffd800,#ff9700,#ff7600,#ff6b00,#ff7300,#ff8d00,#ffcb00,#d5ff00,#89ff00,#37ff00,#00ff19,#00ff5e,#00ffa9,#00f8f0 1285.5px)"></i><i style="top:224px;height:2px;background:linear-gradient(90deg,#0072ff 1.5px,#00e7ff,#00ffa9,#00ff49,#1bff00,#76ff00,#cfff00,#ffd800,#ff9700,#ff7600,#ff6c00,#ff7300,#ff8d00,#ffcb00,#d5ff00,#8aff00,#37ff00,#00ff18,#00ff5d,#00ffa7,#00f9ef 1285.5px)"></i><i style="top:226px;height:2px;background:linear-gradient(90deg,#0072ff 1.5px,#00e7ff,#00ffa9,#00ff48,#1bff00,#76ff00,#cfff00,#ffd800,#ff9700,#ff7700,#ff6c00,#ff7400,#ff8d00,#ffcb00,#d5ff00,#8aff00,#38ff00,#00ff17,#00ff5c,#00ffa6,#00f9ee 1285.5px)"></i><i style="top:228px;height:2px;background:linear-gradient(90deg,#0073ff 1.5px,#00e7ff,#00ffa9,#00ff48,#1bff00,#76ff00,#cfff00,#ffd800,#ff9800,#ff7700,#ff6d00,#ff7400,#ff8d00,#ffca00,#d6ff00,#8bff00,#39ff00,#00ff17,#00ff5b,#00ffa5,#00faed 1285.5px)"></i><i style="top:230px;height:2px;background:linear-gradient(90deg,#0073ff 1.5px,#00e7ff,#00ffa9,#00ff48,#1bff00,#76ff00,#cfff00,#ffd800,#ff9800,#ff7700,#ff6d00,#ff7400,#ff8d00,#ffca00,#d6ff00,#8bff00,#39ff00,#00ff16,#00ff5a,#00ffa4,#00faec 1285.5px)"></i><i style="top:232px;height:2px;background:linear-gradient(90deg,#0073ff 1.5px,#00e7ff,#00ffa8,#00ff48,#1bff00,#76ff00,#cfff00,#ffd800,#ff9800,#ff7800,#ff6e00,#ff7400,#ff8d00,#ffc900,#d7ff00,#8bff00,#3aff00,#00ff15,#00ff5a,#00ffa3,#00fbeb 1285.5px)"></i><i style="top:234px;height:2px;background:linear-gradient(90deg,#0074ff 1.5px,#00e7ff,#00ffa8,#00ff48,#1bff00,#76ff00,#cfff00,#ffd800,#ff9800,#ff7800,#ff6e00,#ff7400,#ff8d00,#ffc900,#d7ff00,#8cff00,#3bff00,#00ff14,#00ff59,#00ffa2,#00fbea 1285.5px)"></i><i style="top:236px;height:2px;background:linear-gradient(90deg,#0074ff 1.5px,#00e8ff,#00ffa8,#00ff48,#1bff00,#76ff00,#cfff00,#ffd800,#ff9900,#ff7800,#ff6e00,#ff7500,#ff8d00,#ffc900,#d7ff00,#8cff00,#3bff00,#00ff14,#00ff58,#00ffa1,#00fcea 1285.5px)"></i><i style="top:238px;height:2px;background:linear-gradient(90deg,#0074ff 1.5px,#00e8ff,#00ffa8,#00ff48,#1bff00,#77ff00,#cfff00,#ffd800,#ff9900,#ff7900,#ff6f00,#ff7500,#ff8d00,#ffc800,#d8ff00,#8cff00,#3cff00,#00ff13,#00ff57,#00ffa0,#00fce9 1285.5px)"></i><i style="top:240px;height:2px;background:linear-gradient(90deg,#0074ff 1.5px,#00e8ff,#00ffa8,#00ff48,#1bff00,#77ff00,#cfff00,#ffd800,#ff9900,#ff7900,#ff6f00,#ff7500,#ff8d00,#ffc800,#d8ff00,#8dff00,#3dff00,#00ff12,#00ff56,#00ff9f,#00fde8 1285.5px)"></i><i style="top:242px;height:2px;background:linear-gradient(90deg,#0075ff 1.5px,#00e8ff,#00ffa8,#00ff48,#1bff00,#77ff00,#cfff00,#ffd800,#ff9900,#ff7a00,#ff7000,#ff7500,#ff8d00,#ffc800,#d9ff00,#8dff00,#3eff00,#00ff12,#00ff56,#00ff9d,#00fde7 1285.5px)"></i><i style="top:244px;height:2px;background:linear-gradient(90deg,#0075ff 1.5px,#00e8ff,#00ffa8,#00ff48,#1bff00,#77ff00,#cfff00,#ffd800,#ff9a00,#ff7a00,#ff7000,#ff7500,#ff8d00,#ffc700,#d9ff00,#8dff00,#3eff00,#00ff11,#00ff55,#00ff9c,#00fee6 1285.5px)"></i><i style="top:246px;height:2px;background:linear-gradient(90deg,#0075ff 1.5px,#00e8ff,#00ffa8,#00ff48,#1bff00,#77ff00,#cfff00,#ffd800,#ff9a00,#ff7a00,#ff7100,#ff7600,#ff8d00,#ffc700,#daff00,#8eff00,#3fff00,#00ff10,#00ff54,#00ff9b,#00fee5 1285.5px)"></i><i style="top:248px;height:2px;background:linear-gradient(90deg,#0075ff 1.5px,#00e9ff,#00ffa8,#00ff48,#1bff00,#77ff00,#cfff00,#ffd800,#ff9a00,#ff7b00,#ff7100,#ff7600,#ff8e00,#ffc700,#daff00,#8eff00,#40ff00,#00ff0f,#00ff53,#00ff9a,#00ffe4 1285.5px)"></i><i style="top:250px;height:2px;background:linear-gradient(90deg,#0076ff 1.5px,#00e9ff,#00ffa8,#00ff48,#1bff00,#77ff00,#d0ff00,#ffd800,#ff9a00,#ff7b00,#ff7100,#ff7600,#ff8e00,#ffc600,#daff00,#8fff00,#40ff00,#00ff0f,#00ff52,#00ff99,#00ffe3 1285.5px)"></i><i style="top:252px;height:2px;background:linear-gradient(90deg,#0076ff 1.5px,#00e9ff,#00ffa8,#00ff48,#1bff00,#77ff00,#d0ff00,#ffd800,#ff9a00,#ff7b00,#ff7200,#ff7600,#ff8e00,#ffc600,#dbff00,#8fff00,#41ff00,#00ff0e,#00ff52,#00ff98,#00ffe2 1285.5px)"></i><i style="top:254px;height:2px;background:linear-gradient(90deg,#0076ff 1.5px,#00e9ff,#00ffa8,#00ff48,#1bff00,#77ff00,#d0ff00,#ffd800,#ff9b00,#ff7b00,#ff7200,#ff7600,#ff8e00,#ffc600,#dbff00,#8fff00,#41ff00,#00ff0e,#00ff51,#00ff97,#00ffe1 1285.5px)"></i><i style="top:256px;height:2px;background:linear-gradient(90deg,#0076ff 1.5px,#00e9ff,#00ffa8,#00ff48,#1bff00,#77ff00,#d0ff00,#ffd800,#ff9b00,#ff7c00,#ff7200,#ff7600,#ff8d00,#ffc500,#dcff00,#90ff00,#42ff00,#01ff0d,#00ff50,#00ff96,#00ffe0 1285.5px)"></i><i style="top:258px;height:2px;background:linear-gradient(90deg,#0077ff 1.5px,#00e9ff,#00ffa8,#00ff48,#1bff00,#77ff00,#d0ff00,#ffd800,#ff9b00,#ff7c00,#ff7200,#ff7700,#ff8d00,#ffc500,#dcff00,#90ff00,#42ff00,#01ff0d,#00ff50,#00ff95,#00ffdf 1285.5px)"></i><i style="top:260px;height:2px;background:linear-gradient(90deg,#0077ff 1.5px,#00e9ff,#00ffa7,#00ff48,#1cff00,#77ff00,#d0ff00,#ffd800,#ff9b00,#ff7c00,#ff7200,#ff7700,#ff8d00,#ffc500,#ddff00,#90ff00,#43ff00,#01ff0c,#00ff4f,#00ff95,#00ffdd 1285.5px)"></i><i style="top:262px;height:2px;background:linear-gradient(90deg,#0077ff 1.5px,#00eaff,#00ffa7,#00ff47,#1cff00,#77ff00,#d0ff00,#ffd800,#ff9b00,#ff7c00,#ff7300,#ff7700,#ff8d00,#ffc400,#ddff00,#90ff00,#44ff00,#01ff0c,#00ff4e,#00ff94,#00ffdc 1285.5px)"></i><i style="top:264px;height:2px;background:linear-gradient(90deg,#0077ff 1.5px,#00eaff,#00ffa7,#00ff47,#1cff00,#77ff00,#d0ff00,#ffd800,#ff9b00,#ff7c00,#ff7300,#ff7700,#ff8d00,#ffc400,#deff00,#91ff00,#44ff00,#01ff0b,#00ff4d,#00ff93,#00ffdb 1285.5px)"></i><i style="top:266px;height:2px;background:linear-gradient(90deg,#0078ff 1.5px,#00eaff,#00ffa7,#00ff47,#1cff00,#77ff00,#d0ff00,#ffd800,#ff9b00,#ff7d00,#ff7300,#ff7700,#ff8d00,#ffc400,#deff00,#91ff00,#45ff00,#02ff0b,#00ff4d,#00ff92,#00ffda 1285.5px)"></i><i style="top:268px;height:2px;background:linear-gradient(90deg,#0078ff 1.5px,#00eaff,#00ffa7,#00ff47,#1cff00,#77ff00,#d0ff00,#ffd800,#ff9b00,#ff7d00,#ff7300,#ff7700,#ff8d00,#ffc300,#dfff00,#91ff00,#45ff00,#02ff0a,#00ff4c,#00ff91,#00ffd9 1285.5px)"></i><i style="top:270px;height:2px;background:linear-gradient(90deg,#0078ff 1.5px,#00eaff,#00ffa7,#00ff47,#1cff00,#77ff00,#d0ff00,#ffd800,#ff9c00,#ff7d00,#ff7300,#ff7700,#ff8d00,#ffc300,#dfff00,#92ff00,#46ff00,#02ff0a,#00ff4b,#00ff90,#00ffd8 1285.5px)"></i><i style="top:272px;height:2px;background:linear-gradient(90deg,#0079ff 1.5px,#00eaff,#00ffa7,#00ff47,#1cff00,#77ff00,#d0ff00,#ffd800,#ff9c00,#ff7d00,#ff7300,#ff7700,#ff8d00,#ffc300,#e0ff00,#92ff00,#46ff00,#02ff0a,#00ff4b,#00ff8f,#00ffd6 1285.5px)"></i><i style="top:274px;height:2px;background:linear-gradient(90deg,#0079ff 1.5px,#00eaff,#00ffa7,#00ff47,#1cff00,#77ff00,#d0ff00,#ffd800,#ff9c00,#ff7d00,#ff7400,#ff7800,#ff8d00,#ffc200,#e0ff00,#92ff00,#47ff00,#02ff09,#00ff4a,#00ff8e,#00ffd5 1285.5px)"></i><i style="top:276px;height:2px;background:linear-gradient(90deg,#0079ff 1.5px,#00ebff,#00ffa7,#00ff47,#1cff00,#78ff00,#d0ff00,#ffd800,#ff9c00,#ff7e00,#ff7400,#ff7800,#ff8d00,#ffc200,#e1ff00,#93ff00,#47ff00,#02ff09,#00ff49,#00ff8d,#00ffd4 1285.5px)"></i><i style="top:278px;height:2px;background:linear-gradient(90deg,#0079ff 1.5px,#00ebff,#00ffa7,#00ff47,#1cff00,#78ff00,#d0ff00,#ffd800,#ff9c00,#ff7e00,#ff7400,#ff7800,#ff8d00,#ffc200,#e1ff00,#93ff00,#48ff00,#03ff08,#00ff49,#00ff8c,#00ffd3 1285.5px)"></i><i style="top:280px;height:2px;background:linear-gradient(90deg,#007aff 1.5px,#00ebff,#00ffa7,#00ff47,#1cff00,#78ff00,#d0ff00,#ffd800,#ff9c00,#ff7e00,#ff7400,#ff7800,#ff8d00,#ffc100,#e1ff00,#93ff00,#48ff00,#03ff08,#00ff48,#00ff8c,#00ffd2 1285.5px)"></i><i style="top:282px;height:2px;background:linear-gradient(90deg,#007aff 1.5px,#00ebff,#00ffa7,#00ff47,#1cff00,#78ff00,#d0ff00,#ffd800,#ff9c00,#ff7e00,#ff7400,#ff7800,#ff8d00,#ffc100,#e2ff00,#94ff00,#49ff00,#03ff07,#00ff47,#00ff8b,#00ffd1 1285.5px)"></i><i style="top:284px;height:2px;background:linear-gradient(90deg,#007aff 1.5px,#00ebff,#00ffa7,#00ff47,#1cff00,#78ff00,#d0ff00,#ffd800,#ff9d00,#ff7e00,#ff7500,#ff7800,#ff8d00,#ffc100,#e2ff00,#94ff00,#4aff00,#03ff07,#00ff46,#00ff8a,#00ffd0 1285.5px)"></i><i style="top:286px;height:2px;background:linear-gradient(90deg,#007aff 1.5px,#00ebff,#00ffa7,#00ff47,#1cff00,#78ff00,#d0ff00,#ffd800,#ff9d00,#ff7f00,#ff7500,#ff7800,#ff8d00,#ffc000,#e3ff00,#94ff00,#4aff00,#03ff06,#00ff46,#00ff89,#00ffce 1285.5px)"></i><i style="top:288px;height:2px;background:linear-gradient(90deg,#007bff 1.5px,#00ecff,#00ffa7,#00ff47,#1cff00,#78ff00,#d0ff00,#ffd800,#ff9d00,#ff7f00,#ff7500,#ff7800,#ff8d00,#ffc000,#e3ff00,#95ff00,#4bff00,#04ff06,#00ff45,#00ff88,#00ffcd 1285.5px)"></i><i style="top:290px;height:2px;background:linear-gradient(90deg,#007bff 1.5px,#00ecff,#00ffa7,#00ff47,#1cff00,#78ff00,#d0ff00,#ffd800,#ff9d00,#ff7f00,#ff7500,#ff7900,#ff8d00,#ffbf00,#e4ff00,#95ff00,#4bff00,#04ff05,#00ff44,#00ff87,#00ffcc 1285.5px)"></i><i style="top:292px;height:2px;background:linear-gradient(90deg,#007bff 1.5px,#00ecff,#00ffa7,#00ff46,#1cff00,#78ff00,#d0ff00,#ffd800,#ff9d00,#ff7f00,#ff7500,#ff7900,#ff8d00,#ffbf00,#e4ff00,#95ff00,#4cff00,#04ff05,#00ff44,#00ff86,#00ffcb 1285.5px)"></i><i style="top:294px;height:2px;background:linear-gradient(90deg,#007bff 1.5px,#00ecff,#00ffa7,#00ff46,#1cff00,#78ff00,#d1ff00,#ffd800,#ff9d00,#ff7f00,#ff7500,#ff7900,#ff8d00,#ffbf00,#e5ff00,#96ff00,#4cff00,#04ff04,#00ff43,#00ff85,#00ffca 1285.5px)"></i><i style="top:296px;height:2px;background:linear-gradient(90deg,#007cff 1.5px,#00ecff,#00ffa7,#00ff46,#1cff00,#78ff00,#d1ff00,#ffd800,#ff9d00,#ff8000,#ff7600,#ff7900,#ff8d00,#ffbe00,#e5ff00,#96ff00,#4dff00,#04ff04,#00ff42,#00ff84,#00ffc9 1285.5px)"></i><i style="top:298px;height:2px;background:linear-gradient(90deg,#007cff 1.5px,#00ecff,#00ffa7,#00ff46,#1cff00,#78ff00,#d1ff00,#ffd800,#ff9d00,#ff8000,#ff7600,#ff7900,#ff8d00,#ffbe00,#e6ff00,#96ff00,#4dff00,#05ff03,#00ff42,#00ff84,#00ffc7 1285.5px)"></i><i style="top:300px;height:2px;background:linear-gradient(90deg,#007cff 1.5px,#00ecff,#00ffa6,#00ff46,#1cff00,#78ff00,#d1ff00,#ffd800,#ff9e00,#ff8000,#ff7600,#ff7900,#ff8d00,#ffbe00,#e6ff00,#96ff00,#4eff00,#05ff03,#00ff41,#00ff83,#00ffc6 1285.5px)"></i><i style="top:302px;height:2px;background:linear-gradient(90deg,#007cff 1.5px,#00edff,#00ffa6,#00ff46,#1cff00,#78ff00,#d1ff00,#ffd800,#ff9e00,#ff8000,#ff7600,#ff7900,#ff8d00,#ffbd00,#e7ff00,#97ff00,#4fff00,#05ff02,#00ff40,#00ff82,#00ffc5 1285.5px)"></i><i style="top:304px;height:2px;background:linear-gradient(90deg,#007dff 1.5px,#00edff,#00ffa6,#00ff46,#1cff00,#78ff00,#d1ff00,#ffd800,#ff9e00,#ff8000,#ff7600,#ff7900,#ff8d00,#ffbd00,#e7ff00,#97ff00,#4fff00,#05ff02,#00ff3f,#00ff81,#00ffc4 1285.5px)"></i><i style="top:306px;height:2px;background:linear-gradient(90deg,#007dff 1.5px,#00edff,#00ffa6,#00ff46,#1cff00,#78ff00,#d1ff00,#ffd800,#ff9e00,#ff8100,#ff7700,#ff7a00,#ff8d00,#ffbd00,#e8ff00,#97ff00,#50ff00,#05ff01,#00ff3f,#00ff80,#00ffc3 1285.5px)"></i><i style="top:308px;height:2px;background:linear-gradient(90deg,#007dff 1.5px,#00edff,#00ffa6,#00ff46,#1dff00,#78ff00,#d1ff00,#ffd800,#ff9e00,#ff8100,#ff7700,#ff7a00,#ff8d00,#ffbc00,#e8ff00,#98ff00,#50ff00,#06ff01,#00ff3e,#00ff7f,#00ffc2 1285.5px)"></i><i style="top:310px;height:2px;background:linear-gradient(90deg,#007dff 1.5px,#00edff,#00ffa6,#00ff46,#1dff00,#78ff00,#d1ff00,#ffd800,#ff9e00,#ff8100,#ff7700,#ff7a00,#ff8d00,#ffbc00,#e9ff00,#98ff00,#51ff00,#06ff00,#00ff3d,#00ff7e,#00ffc0 1285.5px)"></i><i style="top:312px;height:2px;background:linear-gradient(90deg,#007eff 1.5px,#00edff,#00ffa6,#00ff46,#1dff00,#78ff00,#d1ff00,#ffd800,#ff9e00,#ff8100,#ff7700,#ff7a00,#ff8d00,#ffbc00,#e9ff00,#98ff00,#51ff00,#06ff00,#00ff3d,#00ff7d,#00ffbf 1285.5px)"></i><i style="top:314px;height:2px;background:linear-gradient(90deg,#007eff 1.5px,#00edff,#00ffa6,#00ff46,#1dff00,#78ff00,#d1ff00,#ffd800,#ff9e00,#ff8100,#ff7800,#ff7a00,#ff8d00,#ffbb00,#eaff00,#99ff00,#52ff00,#06ff00,#00ff3c,#00ff7d,#00ffbe 1285.5px)"></i><i style="top:316px;height:2px;background:linear-gradient(90deg,#007eff 1.5px,#00eeff,#00ffa6,#00ff46,#1dff00,#79ff00,#d1ff00,#ffd800,#ff9f00,#ff8200,#ff7800,#ff7b00,#ff8d00,#ffbb00,#eaff00,#99ff00,#52ff00,#07ff00,#00ff3b,#00ff7c,#00ffbe 1285.5px)"></i><i style="top:318px;height:2px;background:linear-gradient(90deg,#007eff 1.5px,#00eeff,#00ffa6,#00ff46,#1dff00,#79ff00,#d1ff00,#ffd800,#ff9f00,#ff8200,#ff7800,#ff7b00,#ff8d00,#ffbb00,#ebff00,#9aff00,#53ff00,#08ff00,#00ff3b,#00ff7b,#00ffbd 1285.5px)"></i><i style="top:320px;height:2px;background:linear-gradient(90deg,#007fff 1.5px,#00eeff,#00ffa6,#00ff46,#1dff00,#79ff00,#d1ff00,#ffd800,#ff9f00,#ff8200,#ff7900,#ff7b00,#ff8e00,#ffbb00,#ebff00,#9aff00,#53ff00,#08ff00,#00ff3a,#00ff7b,#00ffbc 1285.5px)"></i><i style="top:322px;height:2px;background:linear-gradient(90deg,#007fff 1.5px,#00eeff,#00ffa6,#00ff45,#1dff00,#79ff00,#d1ff00,#ffd800,#ff9f00,#ff8300,#ff7900,#ff7c00,#ff8e00,#ffbb00,#ecff00,#9aff00,#54ff00,#09ff00,#00ff39,#00ff7a,#00ffbb 1285.5px)"></i><i style="top:324px;height:2px;background:linear-gradient(90deg,#007fff 1.5px,#00eeff,#00ffa6,#00ff45,#1dff00,#79ff00,#d1ff00,#ffd800,#ff9f00,#ff8300,#ff7900,#ff7c00,#ff8e00,#ffba00,#ecff00,#9bff00,#54ff00,#09ff00,#00ff39,#00ff79,#00ffba 1285.5px)"></i><i style="top:326px;height:2px;background:linear-gradient(90deg,#007fff 1.5px,#00eeff,#00ffa6,#00ff45,#1dff00,#79ff00,#d1ff00,#ffd800,#ff9f00,#ff8300,#ff7a00,#ff7d00,#ff8e00,#ffba00,#edff00,#9bff00,#54ff00,#0aff00,#00ff38,#00ff79,#00ffba 1285.5px)"></i><i style="top:328px;height:2px;background:linear-gradient(90deg,#0080ff 1.5px,#00eeff,#00ffa6,#00ff45,#1dff00,#79ff00,#d1ff00,#ffd700,#ff9f00,#ff8300,#ff7a00,#ff7d00,#ff8e00,#ffba00,#edff00,#9cff00,#55ff00,#0aff00,#00ff37,#00ff78,#00ffb9 1285.5px)"></i><i style="top:330px;height:2px;background:linear-gradient(90deg,#0080ff 1.5px,#00efff,#00ffa6,#00ff45,#1dff00,#79ff00,#d1ff00,#ffd700,#ff9f00,#ff8400,#ff7a00,#ff7d00,#ff8f00,#ffba00,#eeff00,#9cff00,#55ff00,#0bff00,#00ff37,#00ff77,#00ffb8 1285.5px)"></i><i style="top:332px;height:2px;background:linear-gradient(90deg,#0080ff 1.5px,#00efff,#00ffa6,#00ff45,#1dff00,#79ff00,#d1ff00,#ffd700,#ffa000,#ff8400,#ff7b00,#ff7e00,#ff8f00,#ffb900,#eeff00,#9cff00,#56ff00,#0bff00,#00ff36,#00ff77,#00ffb7 1285.5px)"></i><i style="top:334px;height:2px;background:linear-gradient(90deg,#0080ff 1.5px,#00efff,#00ffa6,#00ff45,#1dff00,#79ff00,#d1ff00,#ffd700,#ffa000,#ff8400,#ff7b00,#ff7e00,#ff8f00,#ffb900,#efff00,#9dff00,#56ff00,#0cff00,#00ff36,#00ff76,#00ffb6 1285.5px)"></i><i style="top:336px;height:2px;background:linear-gradient(90deg,#0081ff 1.5px,#00efff,#00ffa6,#00ff45,#1dff00,#79ff00,#d1ff00,#ffd700,#ffa000,#ff8400,#ff7c00,#ff7e00,#ff8f00,#ffb900,#efff00,#9dff00,#57ff00,#0dff00,#00ff35,#00ff75,#00ffb5 1285.5px)"></i><i style="top:338px;height:2px;background:linear-gradient(90deg,#0081ff 1.5px,#00efff,#00ffa6,#00ff45,#1dff00,#79ff00,#d2ff00,#ffd700,#ffa000,#ff8500,#ff7c00,#ff7f00,#ff8f00,#ffb900,#f0ff00,#9eff00,#57ff00,#0dff00,#00ff34,#00ff75,#00ffb5 1285.5px)"></i><i style="top:340px;height:2px;background:linear-gradient(90deg,#0081ff 1.5px,#00efff,#00ffa5,#00ff45,#1dff00,#79ff00,#d2ff00,#ffd700,#ffa000,#ff8500,#ff7c00,#ff7f00,#ff9000,#ffb900,#f0ff00,#9eff00,#58ff00,#0eff00,#00ff34,#00ff74,#00ffb4 1285.5px)"></i><i style="top:342px;height:2px;background:linear-gradient(90deg,#0081ff 1.5px,#00efff,#00ffa5,#00ff45,#1dff00,#79ff00,#d2ff00,#ffd700,#ffa000,#ff8500,#ff7d00,#ff8000,#ff9000,#ffb800,#f1ff00,#9eff00,#58ff00,#0eff00,#00ff33,#00ff73,#00ffb3 1285.5px)"></i><i style="top:344px;height:2px;background:linear-gradient(90deg,#0082ff 1.5px,#00f0ff,#00ffa5,#00ff45,#1dff00,#79ff00,#d2ff00,#ffd700,#ffa000,#ff8600,#ff7d00,#ff8000,#ff9000,#ffb800,#f1ff00,#9fff00,#58ff00,#0fff00,#00ff32,#00ff73,#00ffb2 1285.5px)"></i><i style="top:346px;height:2px;background:linear-gradient(90deg,#0082ff 1.5px,#00f0ff,#00ffa5,#00ff45,#1dff00,#79ff00,#d2ff00,#ffd700,#ffa000,#ff8600,#ff7d00,#ff8000,#ff9000,#ffb800,#f2ff00,#9fff00,#59ff00,#0fff00,#00ff32,#00ff72,#00ffb1 1285.5px)"></i><i style="top:348px;height:2px;background:linear-gradient(90deg,#0082ff 1.5px,#00f0ff,#00ffa5,#00ff45,#1dff00,#79ff00,#d2ff00,#ffd700,#ffa100,#ff8600,#ff7e00,#ff8100,#ff9000,#ffb800,#f2ff00,#a0ff00,#59ff00,#10ff00,#00ff31,#00ff71,#00ffb1 1285.5px)"></i><i style="top:350px;height:2px;background:linear-gradient(90deg,#0082ff 1.5px,#00f0ff,#00ffa5,#00ff45,#1dff00,#79ff00,#d2ff00,#ffd700,#ffa100,#ff8600,#ff7e00,#ff8100,#ff9100,#ffb700,#f3ff00,#a0ff00,#5aff00,#10ff00,#00ff30,#00ff71,#00ffb0 1285.5px)"></i><i style="top:352px;height:2px;background:linear-gradient(90deg,#0083ff 1.5px,#00f0ff,#00ffa5,#00ff44,#1dff00,#79ff00,#d2ff00,#ffd700,#ffa100,#ff8700,#ff7f00,#ff8100,#ff9100,#ffb700,#f3ff00,#a0ff00,#5aff00,#11ff00,#00ff30,#00ff70,#00ffaf 1285.5px)"></i><i style="top:354px;height:2px;background:linear-gradient(90deg,#0083ff 1.5px,#00f0ff,#00ffa5,#00ff44,#1dff00,#7aff00,#d2ff00,#ffd700,#ffa100,#ff8700,#ff7f00,#ff8200,#ff9100,#ffb700,#f4ff00,#a1ff00,#5bff00,#12ff00,#00ff2f,#00ff6f,#00ffae 1285.5px)"></i><i style="top:356px;height:2px;background:linear-gradient(90deg,#0083ff 1.5px,#00f0ff,#00ffa5,#00ff44,#1dff00,#7aff00,#d2ff00,#ffd700,#ffa100,#ff8700,#ff7f00,#ff8200,#ff9100,#ffb700,#f4ff00,#a1ff00,#5bff00,#12ff00,#00ff2f,#00ff6f,#00ffad 1285.5px)"></i><i style="top:358px;height:2px;background:linear-gradient(90deg,#0083ff 1.5px,#00f1ff,#00ffa5,#00ff44,#1eff00,#7aff00,#d2ff00,#ffd700,#ffa100,#ff8800,#ff8000,#ff8300,#ff9100,#ffb700,#f5ff00,#a2ff00,#5cff00,#13ff00,#00ff2e,#00ff6e,#00ffac 1285.5px)"></i><i style="top:360px;height:2px;background:linear-gradient(90deg,#0084ff 1.5px,#00f1ff,#00ffa5,#00ff44,#1eff00,#7aff00,#d2ff00,#ffd700,#ffa100,#ff8800,#ff8000,#ff8300,#ff9200,#ffb600,#f5ff00,#a2ff00,#5cff00,#13ff00,#00ff2d,#00ff6d,#00ffac 1285.5px)"></i><i style="top:362px;height:2px;background:linear-gradient(90deg,#0084ff 1.5px,#00f1ff,#00ffa5,#00ff44,#1eff00,#7aff00,#d2ff00,#ffd700,#ffa100,#ff8800,#ff8000,#ff8300,#ff9200,#ffb600,#f6ff00,#a2ff00,#5dff00,#14ff00,#00ff2d,#00ff6d,#00ffab 1285.5px)"></i><i style="top:364px;height:2px;background:linear-gradient(90deg,#0084ff 1.5px,#00f1ff,#00ffa5,#00ff44,#1eff00,#7aff00,#d2ff00,#ffd700,#ffa200,#ff8800,#ff8100,#ff8400,#ff9200,#ffb600,#f6ff00,#a3ff00,#5dff00,#14ff00,#00ff2c,#00ff6c,#00ffaa 1285.5px)"></i><i style="top:366px;height:2px;background:linear-gradient(90deg,#0084ff 1.5px,#00f1ff,#00ffa5,#00ff44,#1eff00,#7aff00,#d2ff00,#ffd700,#ffa200,#ff8900,#ff8100,#ff8400,#ff9200,#ffb600,#f7ff00,#a3ff00,#5dff00,#15ff00,#00ff2b,#00ff6b,#00ffa9 1285.5px)"></i><i style="top:368px;height:2px;background:linear-gradient(90deg,#0085ff 1.5px,#00f1ff,#00ffa5,#00ff44,#1eff00,#7aff00,#d2ff00,#ffd700,#ffa200,#ff8900,#ff8100,#ff8400,#ff9200,#ffb500,#f7ff00,#a4ff00,#5eff00,#15ff00,#00ff2b,#00ff6b,#00ffa8 1285.5px)"></i><i style="top:370px;height:2px;background:linear-gradient(90deg,#0085ff 1.5px,#00f1ff,#00ffa5,#00ff44,#1eff00,#7aff00,#d2ff00,#ffd700,#ffa200,#ff8900,#ff8200,#ff8500,#ff9300,#ffb500,#f8ff00,#a4ff00,#5eff00,#16ff00,#00ff2a,#00ff6a,#00ffa8 1285.5px)"></i><i style="top:372px;height:2px;background:linear-gradient(90deg,#0085ff 1.5px,#00f2ff,#00ffa5,#00ff44,#1eff00,#7aff00,#d2ff00,#ffd700,#ffa200,#ff8900,#ff8200,#ff8500,#ff9300,#ffb500,#f8ff00,#a5ff00,#5fff00,#17ff00,#00ff29,#00ff69,#00ffa7 1285.5px)"></i><i style="top:374px;height:2px;background:linear-gradient(90deg,#0085ff 1.5px,#00f2ff,#00ffa5,#00ff44,#1eff00,#7aff00,#d2ff00,#ffd700,#ffa200,#ff8a00,#ff8300,#ff8600,#ff9300,#ffb500,#f9ff00,#a5ff00,#5fff00,#17ff00,#00ff29,#00ff69,#00ffa6 1285.5px)"></i><i style="top:376px;height:2px;background:linear-gradient(90deg,#0086ff 1.5px,#00f2ff,#00ffa5,#00ff44,#1eff00,#7aff00,#d2ff00,#ffd700,#ffa200,#ff8a00,#ff8300,#ff8600,#ff9400,#ffb500,#f9ff00,#a5ff00,#60ff00,#18ff00,#00ff28,#00ff68,#00ffa5 1285.5px)"></i><i style="top:378px;height:2px;background:linear-gradient(90deg,#0086ff 1.5px,#00f2ff,#00ffa5,#00ff44,#1eff00,#7aff00,#d2ff00,#ffd700,#ffa300,#ff8b00,#ff8400,#ff8700,#ff9500,#ffb600,#f9ff00,#a6ff00,#60ff00,#18ff00,#00ff28,#00ff68,#00ffa5 1285.5px)"></i><i style="top:380px;height:2px;background:linear-gradient(90deg,#0086ff 1.5px,#00f2ff,#00ffa4,#00ff44,#1eff00,#7aff00,#d2ff00,#ffd700,#ffa300,#ff8b00,#ff8500,#ff8800,#ff9500,#ffb600,#f9ff00,#a6ff00,#60ff00,#18ff00,#00ff28,#00ff67,#00ffa4 1285.5px)"></i><i style="top:382px;height:2px;background:linear-gradient(90deg,#0086ff 1.5px,#00f2ff,#00ffa4,#00ff44,#1eff00,#7aff00,#d3ff00,#ffd700,#ffa300,#ff8c00,#ff8500,#ff8900,#ff9600,#ffb600,#f9ff00,#a7ff00,#61ff00,#19ff00,#00ff27,#00ff67,#00ffa3 1285.5px)"></i><i style="top:384px;height:2px;background:linear-gradient(90deg,#0086ff 1.5px,#00f2ff,#00ffa4,#00ff43,#1eff00,#7aff00,#d3ff00,#ffd700,#ffa300,#ff8c00,#ff8600,#ff8900,#ff9700,#ffb700,#faff00,#a7ff00,#61ff00,#19ff00,#00ff27,#00ff66,#00ffa3 1285.5px)"></i><i style="top:386px;height:2px;background:linear-gradient(90deg,#0086ff 1.5px,#00f3ff,#00ffa4,#00ff43,#1eff00,#7aff00,#d3ff00,#ffd700,#ffa400,#ff8d00,#ff8700,#ff8a00,#ff9700,#ffb700,#faff00,#a8ff00,#61ff00,#1aff00,#00ff26,#00ff66,#00ffa2 1285.5px)"></i><i style="top:388px;height:2px;background:linear-gradient(90deg,#0087ff 1.5px,#00f3ff,#00ffa4,#00ff43,#1eff00,#7aff00,#d3ff00,#ffd700,#ffa400,#ff8d00,#ff8700,#ff8b00,#ff9800,#ffb800,#faff00,#a8ff00,#62ff00,#1aff00,#00ff26,#00ff65,#00ffa2 1285.5px)"></i><i style="top:390px;height:2px;background:linear-gradient(90deg,#0087ff 1.5px,#00f3ff,#00ffa4,#00ff43,#1eff00,#7aff00,#d3ff00,#ffd700,#ffa400,#ff8e00,#ff8800,#ff8c00,#ff9900,#ffb800,#faff00,#a8ff00,#62ff00,#1bff00,#00ff25,#00ff65,#00ffa1 1285.5px)"></i><i style="top:392px;height:2px;background:linear-gradient(90deg,#0087ff 1.5px,#00f3ff,#00ffa4,#00ff43,#1eff00,#7bff00,#d3ff00,#ffd700,#ffa400,#ff8e00,#ff8900,#ff8d00,#ff9a00,#ffb800,#faff00,#a9ff00,#62ff00,#1bff00,#00ff25,#00ff64,#00ffa0 1285.5px)"></i><i style="top:394px;height:2px;background:linear-gradient(90deg,#0087ff 1.5px,#00f3ff,#00ffa4,#00ff43,#1eff00,#7bff00,#d3ff00,#ffd700,#ffa500,#ff8f00,#ff8a00,#ff8d00,#ff9a00,#ffb900,#fbff00,#a9ff00,#63ff00,#1cff00,#00ff25,#00ff64,#00ffa0 1285.5px)"></i><i style="top:396px;height:2px;background:linear-gradient(90deg,#0087ff 1.5px,#00f3ff,#00ffa4,#00ff43,#1eff00,#7bff00,#d3ff00,#ffd700,#ffa500,#ff8f00,#ff8a00,#ff8e00,#ff9b00,#ffb900,#fbff00,#aaff00,#63ff00,#1cff00,#00ff24,#00ff63,#00ff9f 1285.5px)"></i><i style="top:398px;height:2px;background:linear-gradient(90deg,#0087ff 1.5px,#00f3ff,#00ffa4,#00ff43,#1eff00,#7bff00,#d3ff00,#ffd700,#ffa500,#ff9000,#ff8b00,#ff8f00,#ff9c00,#ffba00,#fbff00,#aaff00,#64ff00,#1cff00,#00ff24,#00ff62,#00ff9f 1285.5px)"></i><i style="top:400px;height:2px;background:linear-gradient(90deg,#0088ff 1.5px,#00f4ff,#00ffa4,#00ff43,#1eff00,#7bff00,#d3ff00,#ffd700,#ffa500,#ff9000,#ff8c00,#ff9000,#ff9d00,#ffba00,#fbff00,#abff00,#64ff00,#1dff00,#00ff23,#00ff62,#00ff9e 1285.5px)"></i><i style="top:402px;height:2px;background:linear-gradient(90deg,#0088ff 1.5px,#00f4ff,#00ffa4,#00ff43,#1eff00,#7bff00,#d3ff00,#ffd700,#ffa600,#ff9100,#ff8c00,#ff9100,#ff9d00,#ffba00,#fbff00,#abff00,#64ff00,#1dff00,#00ff23,#00ff61,#00ff9d 1285.5px)"></i><i style="top:404px;height:2px;background:linear-gradient(90deg,#0088ff 1.5px,#00f4ff,#00ffa4,#00ff43,#1eff00,#7bff00,#d3ff00,#ffd700,#ffa600,#ff9100,#ff8d00,#ff9100,#ff9e00,#ffbb00,#fbff00,#acff00,#65ff00,#1eff00,#00ff22,#00ff61,#00ff9d 1285.5px)"></i><i style="top:406px;height:2px;background:linear-gradient(90deg,#0088ff 1.5px,#00f4ff,#00ffa4,#00ff43,#1eff00,#7bff00,#d3ff00,#ffd700,#ffa600,#ff9200,#ff8e00,#ff9200,#ff9f00,#ffbb00,#fcff00,#acff00,#65ff00,#1eff00,#00ff22,#00ff60,#00ff9c 1285.5px)"></i><i style="top:408px;height:2px;background:linear-gradient(90deg,#0088ff 1.5px,#00f4ff,#00ffa3,#00ff43,#1eff00,#7bff00,#d3ff00,#ffd700,#ffa600,#ff9200,#ff8e00,#ff9300,#ff9f00,#ffbc00,#fcff00,#acff00,#65ff00,#1fff00,#00ff22,#00ff60,#00ff9c 1285.5px)"></i><i style="top:410px;height:2px;background:linear-gradient(90deg,#0088ff 1.5px,#00f4ff,#00ffa3,#00ff43,#1eff00,#7bff00,#d3ff00,#ffd700,#ffa700,#ff9300,#ff8f00,#ff9400,#ffa000,#ffbc00,#fcff00,#adff00,#66ff00,#1fff00,#00ff21,#00ff5f,#00ff9b 1285.5px)"></i><i style="top:412px;height:2px;background:linear-gradient(90deg,#0089ff 1.5px,#00f4ff,#00ffa3,#00ff43,#1eff00,#7bff00,#d3ff00,#ffd700,#ffa700,#ff9300,#ff9000,#ff9500,#ffa100,#ffbd00,#fcff00,#adff00,#66ff00,#1fff00,#00ff21,#00ff5f,#00ff9a 1285.5px)"></i><i style="top:414px;height:2px;background:linear-gradient(90deg,#0089ff 1.5px,#00f5ff,#00ffa3,#00ff42,#1eff00,#7bff00,#d3ff00,#ffd700,#ffa700,#ff9400,#ff9000,#ff9500,#ffa200,#ffbd00,#fcff00,#aeff00,#66ff00,#20ff00,#00ff20,#00ff5e,#00ff9a 1285.5px)"></i><i style="top:416px;height:2px;background:linear-gradient(90deg,#0089ff 1.5px,#00f5ff,#00ffa3,#00ff42,#1eff00,#7bff00,#d3ff00,#ffd700,#ffa700,#ff9400,#ff9100,#ff9600,#ffa200,#ffbd00,#fdff00,#aeff00,#67ff00,#20ff00,#00ff20,#00ff5e,#00ff99 1285.5px)"></i><i style="top:418px;height:2px;background:linear-gradient(90deg,#0089ff 1.5px,#00f5ff,#00ffa3,#00ff42,#1fff00,#7bff00,#d3ff00,#ffd700,#ffa800,#ff9500,#ff9200,#ff9700,#ffa300,#ffbe00,#fdff00,#afff00,#67ff00,#21ff00,#00ff20,#00ff5d,#00ff99 1285.5px)"></i><i style="top:420px;height:2px;background:linear-gradient(90deg,#0089ff 1.5px,#00f5ff,#00ffa3,#00ff42,#1fff00,#7bff00,#d3ff00,#ffd700,#ffa800,#ff9600,#ff9300,#ff9800,#ffa400,#ffbe00,#fdff00,#afff00,#67ff00,#21ff00,#00ff1f,#00ff5d,#00ff98 1285.5px)"></i><i style="top:422px;height:2px;background:linear-gradient(90deg,#008aff 1.5px,#00f5ff,#00ffa3,#00ff42,#1fff00,#7bff00,#d3ff00,#ffd700,#ffa800,#ff9600,#ff9300,#ff9800,#ffa500,#ffbf00,#fdff00,#b0ff00,#68ff00,#22ff00,#00ff1f,#00ff5c,#00ff98 1285.5px)"></i><i style="top:424px;height:2px;background:linear-gradient(90deg,#008aff 1.5px,#00f5ff,#00ffa3,#00ff42,#1fff00,#7bff00,#d3ff00,#ffd700,#ffa800,#ff9700,#ff9400,#ff9900,#ffa500,#ffbf00,#fdff00,#b0ff00,#68ff00,#22ff00,#00ff1e,#00ff5c,#00ff97 1285.5px)"></i><i style="top:426px;height:2px;background:linear-gradient(90deg,#008aff 1.5px,#00f5ff,#00ffa3,#00ff42,#1fff00,#7bff00,#d3ff00,#ffd700,#ffa900,#ff9700,#ff9500,#ff9a00,#ffa600,#ffbf00,#feff00,#b0ff00,#68ff00,#22ff00,#00ff1e,#00ff5b,#00ff96 1285.5px)"></i><i style="top:428px;height:2px;background:linear-gradient(90deg,#008aff 1.5px,#00f5ff,#00ffa3,#00ff42,#1fff00,#7bff00,#d3ff00,#ffd700,#ffa900,#ff9800,#ff9500,#ff9b00,#ffa700,#ffc000,#feff00,#b1ff00,#69ff00,#23ff00,#00ff1d,#00ff5b,#00ff96 1285.5px)"></i><i style="top:430px;height:2px;background:linear-gradient(90deg,#008aff 1.5px,#00f6ff,#00ffa3,#00ff42,#1fff00,#7bff00,#d3ff00,#ffd700,#ffa900,#ff9800,#ff9600,#ff9c00,#ffa800,#ffc000,#feff00,#b1ff00,#69ff00,#23ff00,#00ff1d,#00ff5a,#00ff95 1285.5px)"></i><i style="top:432px;height:2px;background:linear-gradient(90deg,#008aff 1.5px,#00f6ff,#00ffa3,#00ff42,#1fff00,#7bff00,#d3ff00,#ffd700,#ffa900,#ff9900,#ff9700,#ff9c00,#ffa800,#ffc100,#feff00,#b2ff00,#69ff00,#24ff00,#00ff1d,#00ff5a,#00ff95 1285.5px)"></i><i style="top:434px;height:2px;background:linear-gradient(90deg,#008bff 1.5px,#00f6ff,#00ffa3,#00ff42,#1fff00,#7cff00,#d3ff00,#ffd700,#ffa900,#ff9900,#ff9700,#ff9d00,#ffa900,#ffc100,#feff00,#b2ff00,#6aff00,#24ff00,#00ff1c,#00ff59,#00ff94 1285.5px)"></i><i style="top:436px;height:2px;background:linear-gradient(90deg,#008bff 1.5px,#00f6ff,#00ffa2,#00ff42,#1fff00,#7cff00,#d3ff00,#ffd700,#ffaa00,#ff9a00,#ff9800,#ff9e00,#ffaa00,#ffc100,#feff00,#b3ff00,#6aff00,#25ff00,#00ff1c,#00ff59,#00ff93 1285.5px)"></i><i style="top:438px;height:2px;background:linear-gradient(90deg,#008bff 1.5px,#00f6ff,#00ffa2,#00ff42,#1fff00,#7cff00,#d3ff00,#ffd800,#ffaa00,#ff9a00,#ff9900,#ff9f00,#ffab00,#ffc200,#feff00,#b3ff00,#6aff00,#25ff00,#00ff1b,#00ff58,#00ff93 1285.5px)"></i><i style="top:440px;height:2px;background:linear-gradient(90deg,#008bff 1.5px,#00f6ff,#00ffa2,#00ff42,#1fff00,#7cff00,#d3ff00,#ffd800,#ffab00,#ff9b00,#ff9a00,#ffa000,#ffac00,#ffc300,#feff00,#b3ff00,#6bff00,#25ff00,#00ff1b,#00ff58,#00ff92 1285.5px)"></i><i style="top:442px;height:2px;background:linear-gradient(90deg,#008bff 1.5px,#00f6ff,#00ffa2,#00ff42,#1fff00,#7cff00,#d3ff00,#ffd800,#ffab00,#ff9c00,#ff9b00,#ffa100,#ffad00,#ffc400,#feff00,#b4ff00,#6bff00,#25ff00,#00ff1b,#00ff57,#00ff92 1285.5px)"></i><i style="top:444px;height:2px;background:linear-gradient(90deg,#008bff 1.5px,#00f6ff,#00ffa2,#00ff42,#1fff00,#7cff00,#d3ff00,#ffd800,#ffac00,#ff9d00,#ff9c00,#ffa200,#ffae00,#ffc400,#feff00,#b4ff00,#6bff00,#26ff00,#00ff1b,#00ff57,#00ff91 1285.5px)"></i><i style="top:446px;height:2px;background:linear-gradient(90deg,#008bff 1.5px,#00f6ff,#00ffa2,#00ff42,#1fff00,#7cff00,#d3ff00,#ffd800,#ffac00,#ff9d00,#ff9d00,#ffa300,#ffaf00,#ffc500,#feff00,#b4ff00,#6bff00,#26ff00,#00ff1a,#00ff56,#00ff91 1285.5px)"></i><i style="top:448px;height:2px;background:linear-gradient(90deg,#008bff 1.5px,#00f6ff,#00ffa2,#00ff42,#1fff00,#7cff00,#d3ff00,#ffd800,#ffac00,#ff9e00,#ff9e00,#ffa400,#ffb000,#ffc600,#feff00,#b5ff00,#6cff00,#26ff00,#00ff1a,#00ff56,#00ff90 1285.5px)"></i><i style="top:450px;height:2px;background:linear-gradient(90deg,#008bff 1.5px,#00f6ff,#00ffa2,#00ff42,#1fff00,#7cff00,#d4ff00,#ffd800,#ffad00,#ff9f00,#ff9f00,#ffa500,#ffb100,#ffc600,#feff00,#b5ff00,#6cff00,#27ff00,#00ff1a,#00ff56,#00ff90 1285.5px)"></i><i style="top:452px;height:2px;background:linear-gradient(90deg,#008bff 1.5px,#00f6ff,#00ffa2,#00ff41,#1fff00,#7cff00,#d4ff00,#ffd800,#ffad00,#ffa000,#ffa000,#ffa600,#ffb200,#ffc700,#feff00,#b5ff00,#6cff00,#27ff00,#00ff19,#00ff55,#00ff8f 1285.5px)"></i><i style="top:454px;height:2px;background:linear-gradient(90deg,#008bff 1.5px,#00f6ff,#00ffa2,#00ff41,#1fff00,#7cff00,#d4ff00,#ffd800,#ffae00,#ffa100,#ffa100,#ffa700,#ffb300,#ffc800,#feff00,#b6ff00,#6dff00,#27ff00,#00ff19,#00ff55,#00ff8f 1285.5px)"></i><i style="top:456px;height:2px;background:linear-gradient(90deg,#008bff 1.5px,#00f6ff,#00ffa2,#00ff41,#1fff00,#7cff00,#d4ff00,#ffd800,#ffae00,#ffa100,#ffa100,#ffa800,#ffb400,#ffc900,#feff00,#b6ff00,#6dff00,#27ff00,#00ff19,#00ff54,#00ff8e 1285.5px)"></i><i style="top:458px;height:2px;background:linear-gradient(90deg,#008bff 1.5px,#00f6ff,#00ffa2,#00ff41,#1fff00,#7cff00,#d4ff00,#ffd800,#ffaf00,#ffa200,#ffa200,#ffa900,#ffb500,#ffc900,#fdff00,#b6ff00,#6dff00,#28ff00,#00ff18,#00ff54,#00ff8e 1285.5px)"></i><i style="top:460px;height:2px;background:linear-gradient(90deg,#008bff 1.5px,#00f6ff,#00ffa1,#00ff41,#1fff00,#7cff00,#d4ff00,#ffd800,#ffaf00,#ffa300,#ffa300,#ffaa00,#ffb600,#ffca00,#fdff00,#b6ff00,#6dff00,#28ff00,#00ff18,#00ff54,#00ff8d 1285.5px)"></i><i style="top:462px;height:2px;background:linear-gradient(90deg,#008bff 1.5px,#00f6ff,#00ffa1,#00ff41,#1fff00,#7cff00,#d4ff00,#ffd800,#ffb000,#ffa400,#ffa400,#ffab00,#ffb700,#ffcb00,#fdff00,#b7ff00,#6eff00,#28ff00,#00ff18,#00ff53,#00ff8d 1285.5px)"></i><i style="top:464px;height:2px;background:linear-gradient(90deg,#008bff 1.5px,#00f6ff,#00ffa1,#00ff41,#1fff00,#7cff00,#d4ff00,#ffd800,#ffb000,#ffa400,#ffa500,#ffac00,#ffb800,#ffcc00,#fdff00,#b7ff00,#6eff00,#28ff00,#00ff18,#00ff53,#00ff8c 1285.5px)"></i><i style="top:466px;height:2px;background:linear-gradient(90deg,#008aff 1.5px,#00f6ff,#00ffa1,#00ff41,#1fff00,#7cff00,#d4ff00,#ffd800,#ffb100,#ffa500,#ffa600,#ffad00,#ffb900,#ffcc00,#fdff00,#b7ff00,#6eff00,#29ff00,#00ff17,#00ff52,#00ff8c 1285.5px)"></i><i style="top:468px;height:2px;background:linear-gradient(90deg,#008aff 1.5px,#00f7ff,#00ffa1,#00ff41,#1fff00,#7cff00,#d4ff00,#ffd900,#ffb100,#ffa600,#ffa700,#ffaf00,#ffba00,#ffcd00,#fdff00,#b8ff00,#6eff00,#29ff00,#00ff17,#00ff52,#00ff8b 1285.5px)"></i><i style="top:470px;height:2px;background:linear-gradient(90deg,#008aff 1.5px,#00f7ff,#00ffa1,#00ff41,#1fff00,#7cff00,#d4ff00,#ffd900,#ffb200,#ffa700,#ffa800,#ffb000,#ffbb00,#ffce00,#fdff00,#b8ff00,#6fff00,#29ff00,#00ff17,#00ff52,#00ff8b 1285.5px)"></i><i style="top:472px;height:2px;background:linear-gradient(90deg,#008aff 1.5px,#00f7ff,#00ffa1,#00ff41,#1fff00,#7cff00,#d4ff00,#ffd900,#ffb200,#ffa800,#ffa900,#ffb100,#ffbc00,#ffce00,#fdff00,#b8ff00,#6fff00,#29ff00,#00ff16,#00ff51,#00ff8a 1285.5px)"></i><i style="top:474px;height:2px;background:linear-gradient(90deg,#008aff 1.5px,#00f7ff,#00ffa1,#00ff41,#1fff00,#7cff00,#d4ff00,#ffd900,#ffb200,#ffa800,#ffaa00,#ffb200,#ffbd00,#ffcf00,#fdff00,#b9ff00,#6fff00,#2aff00,#00ff16,#00ff51,#00ff89 1285.5px)"></i><i style="top:476px;height:2px;background:linear-gradient(90deg,#008aff 1.5px,#00f7ff,#00ffa1,#00ff41,#1fff00,#7cff00,#d4ff00,#ffd900,#ffb300,#ffa900,#ffab00,#ffb300,#ffbe00,#ffd000,#fdff00,#b9ff00,#6fff00,#2aff00,#00ff16,#00ff50,#00ff89 1285.5px)"></i><i style="top:478px;height:2px;background:linear-gradient(90deg,#008aff 1.5px,#00f7ff,#00ffa1,#00ff41,#20ff00,#7cff00,#d4ff00,#ffd900,#ffb300,#ffaa00,#ffac00,#ffb400,#ffbf00,#ffd100,#fcff00,#b9ff00,#70ff00,#2aff00,#00ff15,#00ff50,#00ff88 1285.5px)"></i><i style="top:480px;height:2px;background:linear-gradient(90deg,#008aff 1.5px,#00f7ff,#00ffa1,#00ff41,#20ff00,#7cff00,#d4ff00,#ffd900,#ffb400,#ffab00,#ffad00,#ffb500,#ffc000,#ffd100,#fcff00,#b9ff00,#70ff00,#2aff00,#00ff15,#00ff4f,#00ff88 1285.5px)"></i><i style="top:482px;height:2px;background:linear-gradient(90deg,#008aff 1.5px,#00f7ff,#00ffa1,#00ff41,#20ff00,#7dff00,#d4ff00,#ffd900,#ffb400,#ffac00,#ffae00,#ffb600,#ffc100,#ffd200,#fcff00,#baff00,#70ff00,#2bff00,#00ff15,#00ff4f,#00ff87 1285.5px)"></i><i style="top:484px;height:2px;background:linear-gradient(90deg,#008aff 1.5px,#00f7ff,#00ffa0,#00ff41,#20ff00,#7dff00,#d4ff00,#ffd900,#ffb500,#ffac00,#ffaf00,#ffb700,#ffc200,#ffd300,#fcff00,#baff00,#70ff00,#2bff00,#00ff15,#00ff4f,#00ff87 1285.5px)"></i><i style="top:486px;height:2px;background:linear-gradient(90deg,#008aff 1.5px,#00f7ff,#00ffa0,#00ff41,#20ff00,#7dff00,#d4ff00,#ffd900,#ffb500,#ffad00,#ffb000,#ffb800,#ffc300,#ffd300,#fcff00,#baff00,#71ff00,#2bff00,#00ff14,#00ff4e,#00ff86 1285.5px)"></i><i style="top:488px;height:2px;background:linear-gradient(90deg,#008aff 1.5px,#00f7ff,#00ffa0,#00ff41,#20ff00,#7dff00,#d4ff00,#ffd900,#ffb600,#ffae00,#ffb100,#ffb900,#ffc400,#ffd400,#fcff00,#bbff00,#71ff00,#2bff00,#00ff14,#00ff4e,#00ff86 1285.5px)"></i><i style="top:490px;height:2px;background:linear-gradient(90deg,#008aff 1.5px,#00f7ff,#00ffa0,#00ff41,#20ff00,#7dff00,#d4ff00,#ffd900,#ffb600,#ffaf00,#ffb100,#ffba00,#ffc500,#ffd500,#fcff00,#bbff00,#71ff00,#2cff00,#00ff14,#00ff4d,#00ff85 1285.5px)"></i><i style="top:492px;height:2px;background:linear-gradient(90deg,#008aff 1.5px,#00f7ff,#00ffa0,#00ff41,#20ff00,#7dff00,#d4ff00,#ffd900,#ffb700,#ffaf00,#ffb200,#ffbb00,#ffc600,#ffd600,#fcff00,#bbff00,#71ff00,#2cff00,#00ff13,#00ff4d,#00ff85 1285.5px)"></i><i style="top:494px;height:2px;background:linear-gradient(90deg,#008aff 1.5px,#00f7ff,#00ffa0,#00ff41,#20ff00,#7dff00,#d4ff00,#ffd900,#ffb700,#ffb000,#ffb300,#ffbc00,#ffc700,#ffd600,#fcff00,#bcff00,#72ff00,#2cff00,#00ff13,#00ff4d,#00ff84 1285.5px)"></i><i style="top:496px;height:2px;background:linear-gradient(90deg,#008aff 1.5px,#00f7ff,#00ffa0,#00ff41,#20ff00,#7dff00,#d4ff00,#ffd900,#ffb800,#ffb100,#ffb400,#ffbd00,#ffc800,#ffd700,#fcff00,#bcff00,#72ff00,#2dff00,#00ff13,#00ff4c,#00ff84 1285.5px)"></i><i style="top:498px;height:2px;background:linear-gradient(90deg,#008aff 1.5px,#00f7ff,#00ffa0,#00ff41,#20ff00,#7dff00,#d4ff00,#ffd900,#ffb800,#ffb200,#ffb500,#ffbe00,#ffc900,#ffd800,#fbff00,#bcff00,#72ff00,#2dff00,#00ff12,#00ff4c,#00ff83 1285.5px)"></i><i style="top:500px;height:2px;background:linear-gradient(90deg,#008aff 1.5px,#00f7ff,#00ffa0,#00ff41,#20ff00,#7dff00,#d4ff00,#ffda00,#ffb900,#ffb300,#ffb600,#ffbf00,#ffca00,#ffd900,#fbff00,#bcff00,#72ff00,#2dff00,#00ff12,#00ff4b,#00ff83 1285.5px)"></i><i style="top:502px;height:2px;background:linear-gradient(90deg,#008aff 1.5px,#00f7ff,#00ffa0,#00ff41,#20ff00,#7dff00,#d4ff00,#ffdb00,#ffba00,#ffb400,#ffb700,#ffc000,#ffcb00,#ffd900,#fbff00,#bdff00,#73ff00,#2dff00,#00ff12,#00ff4b,#00ff82 1285.5px)"></i><i style="top:504px;height:2px;background:linear-gradient(90deg,#008aff 1.5px,#00f7ff,#00ffa0,#00ff40,#20ff00,#7dff00,#d4ff00,#ffdb00,#ffbb00,#ffb500,#ffb800,#ffc100,#ffcb00,#ffda00,#fbff00,#bdff00,#73ff00,#2eff00,#00ff12,#00ff4b,#00ff82 1285.5px)"></i><i style="top:506px;height:2px;background:linear-gradient(90deg,#008aff 1.5px,#00f7ff,#00ffa0,#00ff40,#20ff00,#7dff00,#d4ff00,#ffdc00,#ffbc00,#ffb500,#ffb900,#ffc100,#ffcc00,#ffda00,#fbff00,#bdff00,#73ff00,#2eff00,#00ff11,#00ff4a,#00ff82 1285.5px)"></i><i style="top:508px;height:2px;background:linear-gradient(90deg,#008aff 1.5px,#00f7ff,#00ffa0,#00ff40,#20ff00,#7dff00,#d4ff00,#ffdc00,#ffbc00,#ffb600,#ffba00,#ffc200,#ffcd00,#ffdb00,#faff00,#bdff00,#73ff00,#2eff00,#00ff11,#00ff4a,#00ff81 1285.5px)"></i><i style="top:510px;height:2px;background:linear-gradient(90deg,#008aff 1.5px,#00f7ff,#00ffa0,#00ff40,#20ff00,#7dff00,#d4ff00,#ffdd00,#ffbd00,#ffb700,#ffba00,#ffc300,#ffcd00,#ffdc00,#faff00,#bdff00,#74ff00,#2eff00,#00ff11,#00ff4a,#00ff81 1285.5px)"></i><i style="top:512px;height:2px;background:linear-gradient(90deg,#008aff 1.5px,#00f7ff,#00ffa0,#00ff40,#20ff00,#7dff00,#d4ff00,#ffde00,#ffbe00,#ffb800,#ffbb00,#ffc400,#ffce00,#ffdc00,#faff00,#beff00,#74ff00,#2eff00,#00ff10,#00ff49,#00ff80 1285.5px)"></i><i style="top:514px;height:2px;background:linear-gradient(90deg,#008aff 1.5px,#00f7ff,#00ffa0,#00ff40,#20ff00,#7dff00,#d4ff00,#ffde00,#ffbf00,#ffb900,#ffbc00,#ffc500,#ffcf00,#ffdd00,#faff00,#beff00,#74ff00,#2fff00,#00ff10,#00ff49,#00ff80 1285.5px)"></i><i style="top:516px;height:2px;background:linear-gradient(90deg,#008aff 1.5px,#00f7ff,#00ffa0,#00ff40,#20ff00,#7dff00,#d4ff00,#ffdf00,#ffc000,#ffba00,#ffbd00,#ffc600,#ffd000,#ffdd00,#faff00,#beff00,#75ff00,#2fff00,#00ff10,#00ff49,#00ff80 1285.5px)"></i><i style="top:518px;height:2px;background:linear-gradient(90deg,#008aff 1.5px,#00f7ff,#00ff9f,#00ff40,#20ff00,#7dff00,#d4ff00,#ffe000,#ffc100,#ffbb00,#ffbe00,#ffc600,#ffd000,#ffde00,#f9ff00,#beff00,#75ff00,#2fff00,#00ff10,#00ff48,#00ff7f 1285.5px)"></i><i style="top:520px;height:2px;background:linear-gradient(90deg,#008aff 1.5px,#00f7ff,#00ff9f,#00ff40,#20ff00,#7dff00,#d4ff00,#ffe000,#ffc200,#ffbc00,#ffbf00,#ffc700,#ffd100,#ffdf00,#f9ff00,#beff00,#75ff00,#2fff00,#00ff0f,#00ff48,#00ff7f 1285.5px)"></i><i style="top:522px;height:2px;background:linear-gradient(90deg,#008aff 1.5px,#00f7ff,#00ff9f,#00ff40,#20ff00,#7dff00,#d4ff00,#ffe100,#ffc300,#ffbd00,#ffc000,#ffc800,#ffd200,#ffdf00,#f9ff00,#beff00,#75ff00,#30ff00,#00ff0f,#00ff48,#00ff7e 1285.5px)"></i><i style="top:524px;height:2px;background:linear-gradient(90deg,#008aff 1.5px,#00f7ff,#00ff9f,#00ff40,#20ff00,#7dff00,#d4ff00,#ffe200,#ffc400,#ffbe00,#ffc100,#ffc900,#ffd200,#ffe000,#f9ff00,#bfff00,#76ff00,#30ff00,#00ff0f,#00ff47,#00ff7e 1285.5px)"></i><i style="top:526px;height:2px;background:linear-gradient(90deg,#008aff 1.5px,#00f7ff,#00ff9f,#00ff40,#20ff00,#7dff00,#d4ff00,#ffe200,#ffc500,#ffbf00,#ffc200,#ffca00,#ffd300,#ffe100,#f9ff00,#bfff00,#76ff00,#30ff00,#00ff0e,#00ff47,#00ff7d 1285.5px)"></i><i style="top:528px;height:2px;background:linear-gradient(90deg,#008aff 1.5px,#00f8ff,#00ff9f,#00ff40,#20ff00,#7eff00,#d4ff00,#ffe300,#ffc500,#ffc000,#ffc200,#ffcb00,#ffd400,#ffe100,#f8ff00,#bfff00,#76ff00,#30ff00,#00ff0e,#00ff46,#00ff7d 1285.5px)"></i><i style="top:530px;height:2px;background:linear-gradient(90deg,#008aff 1.5px,#00f8ff,#00ff9f,#00ff40,#20ff00,#7eff00,#d4ff00,#ffe300,#ffc600,#ffc100,#ffc300,#ffcb00,#ffd400,#ffe200,#f8ff00,#bfff00,#76ff00,#31ff00,#00ff0e,#00ff46,#00ff7d 1285.5px)"></i><i style="top:532px;height:2px;background:linear-gradient(90deg,#008aff 1.5px,#00f8ff,#00ff9f,#00ff40,#20ff00,#7eff00,#d4ff00,#ffe400,#ffc700,#ffc100,#ffc400,#ffcc00,#ffd500,#ffe200,#f8ff00,#bfff00,#77ff00,#31ff00,#00ff0d,#00ff46,#00ff7c 1285.5px)"></i><i style="top:534px;height:2px;background:linear-gradient(90deg,#008aff 1.5px,#00f8ff,#00ff9f,#00ff40,#20ff00,#7eff00,#d4ff00,#ffe500,#ffc800,#ffc200,#ffc500,#ffcd00,#ffd600,#ffe300,#f8ff00,#c0ff00,#77ff00,#31ff00,#00ff0d,#00ff45,#00ff7c 1285.5px)"></i><i style="top:536px;height:2px;background:linear-gradient(90deg,#008bff 1.5px,#00f8ff,#00ff9f,#00ff40,#21ff00,#7eff00,#d4ff00,#ffe500,#ffc900,#ffc300,#ffc600,#ffce00,#ffd600,#ffe400,#f8ff00,#c0ff00,#77ff00,#31ff00,#00ff0d,#00ff45,#00ff7b 1285.5px)"></i><i style="top:538px;height:2px;background:linear-gradient(90deg,#008bff 1.5px,#00f8ff,#00ff9f,#00ff40,#21ff00,#7eff00,#d4ff00,#ffe600,#ffca00,#ffc400,#ffc700,#ffcf00,#ffd700,#ffe400,#f7ff00,#c0ff00,#77ff00,#32ff00,#00ff0d,#00ff45,#00ff7b 1285.5px)"></i><i style="top:540px;height:2px;background:linear-gradient(90deg,#008bff 1.5px,#00f8ff,#00ff9f,#00ff40,#21ff00,#7eff00,#d4ff00,#ffe700,#ffcb00,#ffc500,#ffc800,#ffd000,#ffd800,#ffe500,#f7ff00,#c0ff00,#78ff00,#32ff00,#00ff0c,#00ff44,#00ff7b 1285.5px)"></i><i style="top:542px;height:2px;background:linear-gradient(90deg,#008bff 1.5px,#00f8ff,#00ff9f,#00ff40,#21ff00,#7eff00,#d4ff00,#ffe700,#ffcc00,#ffc600,#ffc900,#ffd000,#ffd900,#ffe600,#f7ff00,#c0ff00,#78ff00,#32ff00,#00ff0c,#00ff44,#00ff7a 1285.5px)"></i><i style="top:544px;height:2px;background:linear-gradient(90deg,#008bff 1.5px,#00f8ff,#00ff9f,#00ff40,#21ff00,#7eff00,#d4ff00,#ffe800,#ffcd00,#ffc700,#ffc900,#ffd100,#ffd900,#ffe600,#f7ff00,#c1ff00,#78ff00,#32ff00,#00ff0c,#00ff44,#00ff7a 1285.5px)"></i><i style="top:546px;height:2px;background:linear-gradient(90deg,#008bff 1.5px,#00f8ff,#00ff9f,#00ff40,#21ff00,#7eff00,#d4ff00,#ffe800,#ffce00,#ffc800,#ffca00,#ffd200,#ffda00,#ffe700,#f7ff00,#c1ff00,#78ff00,#33ff00,#00ff0b,#00ff43,#00ff79 1285.5px)"></i><i style="top:548px;height:2px;background:linear-gradient(90deg,#008bff 1.5px,#00f8ff,#00ff9f,#00ff40,#21ff00,#7eff00,#d4ff00,#ffe900,#ffcf00,#ffc900,#ffcb00,#ffd300,#ffdb00,#ffe700,#f6ff00,#c1ff00,#79ff00,#33ff00,#00ff0b,#00ff43,#00ff79 1285.5px)"></i><i style="top:550px;height:2px;background:linear-gradient(90deg,#008bff 1.5px,#00f8ff,#00ff9f,#00ff40,#21ff00,#7eff00,#d4ff00,#ffea00,#ffcf00,#ffca00,#ffcc00,#ffd400,#ffdb00,#ffe800,#f6ff00,#c1ff00,#79ff00,#33ff00,#00ff0b,#00ff43,#00ff79 1285.5px)"></i><i style="top:552px;height:2px;background:linear-gradient(90deg,#008bff 1.5px,#00f8ff,#00ff9f,#00ff40,#21ff00,#7eff00,#d4ff00,#ffea00,#ffd000,#ffcb00,#ffcd00,#ffd500,#ffdc00,#ffe900,#f6ff00,#c1ff00,#79ff00,#33ff00,#00ff0b,#00ff42,#00ff78 1285.5px)"></i><i style="top:554px;height:2px;background:linear-gradient(90deg,#008bff 1.5px,#00f8ff,#00ff9f,#00ff40,#21ff00,#7eff00,#d4ff00,#ffeb00,#ffd100,#ffcc00,#ffce00,#ffd500,#ffdd00,#ffe900,#f6ff00,#c1ff00,#79ff00,#34ff00,#00ff0a,#00ff42,#00ff78 1285.5px)"></i><i style="top:556px;height:2px;background:linear-gradient(90deg,#008bff 1.5px,#00f8ff,#00ff9f,#00ff40,#21ff00,#7eff00,#d4ff00,#ffec00,#ffd200,#ffcd00,#ffcf00,#ffd600,#ffdd00,#ffea00,#f6ff00,#c2ff00,#7aff00,#34ff00,#00ff0a,#00ff42,#00ff77 1285.5px)"></i><i style="top:558px;height:2px;background:linear-gradient(90deg,#008bff 1.5px,#00f8ff,#00ff9f,#00ff40,#21ff00,#7eff00,#d4ff00,#ffec00,#ffd300,#ffcd00,#ffd000,#ffd700,#ffde00,#ffeb00,#f5ff00,#c2ff00,#7aff00,#34ff00,#00ff0a,#00ff41,#00ff77 1285.5px)"></i><i style="top:560px;height:2px;background:linear-gradient(90deg,#008bff 1.5px,#00f8ff,#00ff9f,#00ff3f,#21ff00,#7eff00,#d4ff00,#ffed00,#ffd400,#ffce00,#ffd000,#ffd800,#ffdf00,#ffeb00,#f5ff00,#c2ff00,#7aff00,#34ff00,#00ff09,#00ff41,#00ff76 1285.5px)"></i><i style="top:562px;height:2px;background:linear-gradient(90deg,#008bff 1.5px,#00f8ff,#00ff9f,#00ff3f,#21ff00,#7eff00,#d4ff00,#ffed00,#ffd500,#ffcf00,#ffd100,#ffd900,#ffdf00,#ffec00,#f5ff00,#c2ff00,#7aff00,#34ff00,#00ff09,#00ff41,#00ff76 1285.5px)"></i><i style="top:564px;height:2px;background:linear-gradient(90deg,#008bff 1.5px,#00f8ff,#00ff9f,#00ff3f,#21ff00,#7eff00,#d4ff00,#ffee00,#ffd500,#ffd000,#ffd200,#ffd900,#ffe000,#ffec00,#f5ff00,#c2ff00,#7aff00,#35ff00,#00ff09,#00ff40,#00ff76 1285.5px)"></i><i style="top:566px;height:2px;background:linear-gradient(90deg,#008bff 1.5px,#00f8ff,#00ff9f,#00ff3f,#21ff00,#7eff00,#d4ff00,#ffee00,#ffd600,#ffd000,#ffd200,#ffda00,#ffe100,#ffed00,#f4ff00,#c2ff00,#7aff00,#35ff00,#00ff09,#00ff40,#00ff76 1285.5px)"></i><i style="top:568px;height:2px;background:linear-gradient(90deg,#008bff 1.5px,#00f8ff,#00ff9f,#00ff3f,#21ff00,#7eff00,#d4ff00,#ffee00,#ffd600,#ffd100,#ffd300,#ffda00,#ffe100,#ffee00,#f4ff00,#c2ff00,#7aff00,#35ff00,#00ff09,#00ff40,#00ff76 1285.5px)"></i><i style="top:570px;height:2px;background:linear-gradient(90deg,#008bff 1.5px,#00f8ff,#00ff9f,#00ff3f,#21ff00,#7eff00,#d4ff00,#ffef00,#ffd700,#ffd100,#ffd400,#ffdb00,#ffe200,#ffee00,#f4ff00,#c2ff00,#7bff00,#35ff00,#00ff08,#00ff40,#00ff75 1285.5px)"></i><i style="top:572px;height:2px;background:linear-gradient(90deg,#008bff 1.5px,#00f8ff,#00ff9f,#00ff3f,#21ff00,#7eff00,#d4ff00,#ffef00,#ffd700,#ffd200,#ffd400,#ffdb00,#ffe300,#ffef00,#f3ff00,#c2ff00,#7bff00,#35ff00,#00ff08,#00ff40,#00ff75 1285.5px)"></i><i style="top:574px;height:2px;background:linear-gradient(90deg,#008bff 1.5px,#00f8ff,#00ff9f,#00ff3f,#21ff00,#7fff00,#d4ff00,#ffef00,#ffd800,#ffd200,#ffd500,#ffdc00,#ffe300,#ffef00,#f3ff00,#c2ff00,#7bff00,#35ff00,#00ff08,#00ff40,#00ff75 1285.5px)"></i><i style="top:576px;height:2px;background:linear-gradient(90deg,#008bff 1.5px,#00f8ff,#00ff9f,#00ff3f,#21ff00,#7fff00,#d4ff00,#fff000,#ffd800,#ffd300,#ffd500,#ffdd00,#ffe400,#fff000,#f3ff00,#c2ff00,#7bff00,#35ff00,#00ff08,#00ff3f,#00ff75 1285.5px)"></i><i style="top:578px;height:2px;background:linear-gradient(90deg,#008bff 1.5px,#00f8ff,#00ff9e,#00ff3f,#21ff00,#7fff00,#d5ff00,#fff000,#ffd800,#ffd300,#ffd600,#ffdd00,#ffe400,#fff000,#f2ff00,#c2ff00,#7bff00,#35ff00,#00ff08,#00ff3f,#00ff75 1285.5px)"></i><i style="top:580px;height:2px;background:linear-gradient(90deg,#008bff 1.5px,#00f8ff,#00ff9e,#00ff3f,#21ff00,#7fff00,#d5ff00,#fff000,#ffd900,#ffd400,#ffd700,#ffde00,#ffe500,#fff100,#f2ff00,#c2ff00,#7bff00,#35ff00,#00ff08,#00ff3f,#00ff75 1285.5px)"></i><i style="top:582px;height:2px;background:linear-gradient(90deg,#008bff 1.5px,#00f8ff,#00ff9e,#00ff3f,#21ff00,#7fff00,#d5ff00,#fff100,#ffd900,#ffd500,#ffd700,#ffde00,#ffe600,#fff200,#f2ff00,#c2ff00,#7bff00,#36ff00,#00ff07,#00ff3f,#00ff74 1285.5px)"></i><i style="top:584px;height:2px;background:linear-gradient(90deg,#008bff 1.5px,#00f8ff,#00ff9e,#00ff3f,#21ff00,#7fff00,#d5ff00,#fff100,#ffda00,#ffd500,#ffd800,#ffdf00,#ffe600,#fff200,#f1ff00,#c2ff00,#7bff00,#36ff00,#00ff07,#00ff3f,#00ff74 1285.5px)"></i><i style="top:586px;height:2px;background:linear-gradient(90deg,#008bff 1.5px,#00f8ff,#00ff9e,#00ff3f,#21ff00,#7fff00,#d5ff00,#fff100,#ffda00,#ffd600,#ffd800,#ffdf00,#ffe700,#fff300,#f1ff00,#c2ff00,#7bff00,#36ff00,#00ff07,#00ff3f,#00ff74 1285.5px)"></i><i style="top:588px;height:2px;background:linear-gradient(90deg,#008cff 1.5px,#00f9ff,#00ff9e,#00ff3f,#21ff00,#7fff00,#d5ff00,#fff200,#ffdb00,#ffd600,#ffd900,#ffe000,#ffe700,#fff300,#f1ff00,#c2ff00,#7bff00,#36ff00,#00ff07,#00ff3e,#00ff74 1285.5px)"></i><i style="top:590px;height:2px;background:linear-gradient(90deg,#008cff 1.5px,#00f9ff,#00ff9e,#00ff3f,#21ff00,#7fff00,#d5ff00,#fff200,#ffdb00,#ffd700,#ffd900,#ffe100,#ffe800,#fff400,#f0ff00,#c2ff00,#7bff00,#36ff00,#00ff07,#00ff3e,#00ff74 1285.5px)"></i><i style="top:592px;height:2px;background:linear-gradient(90deg,#008cff 1.5px,#00f9ff,#00ff9e,#00ff3f,#21ff00,#7fff00,#d5ff00,#fff200,#ffdc00,#ffd700,#ffda00,#ffe100,#ffe900,#fff400,#f0ff00,#c2ff00,#7bff00,#36ff00,#00ff06,#00ff3e,#00ff74 1285.5px)"></i><i style="top:594px;height:2px;background:linear-gradient(90deg,#008cff 1.5px,#00f9ff,#00ff9e,#00ff3f,#21ff00,#7fff00,#d5ff00,#fff300,#ffdc00,#ffd800,#ffdb00,#ffe200,#ffe900,#fff500,#f0ff00,#c2ff00,#7bff00,#36ff00,#00ff06,#00ff3e,#00ff73 1285.5px)"></i><i style="top:596px;height:2px;background:linear-gradient(90deg,#008cff 1.5px,#00f9ff,#00ff9e,#00ff3f,#21ff00,#7fff00,#d5ff00,#fff300,#ffdd00,#ffd800,#ffdb00,#ffe200,#ffea00,#fff600,#efff00,#c2ff00,#7bff00,#36ff00,#00ff06,#00ff3e,#00ff73 1285.5px)"></i><i style="top:598px;height:2px;background:linear-gradient(90deg,#008cff 1.5px,#00f9ff,#00ff9e,#00ff3f,#21ff00,#7fff00,#d5ff00,#fff300,#ffdd00,#ffd900,#ffdc00,#ffe300,#ffea00,#fff600,#efff00,#c3ff00,#7bff00,#36ff00,#00ff06,#00ff3d,#00ff73 1285.5px)"></i><i style="top:600px;height:2px;background:linear-gradient(90deg,#008cff 1.5px,#00f9ff,#00ff9e,#00ff3e,#21ff00,#7fff00,#d5ff00,#fff400,#ffde00,#ffd900,#ffdc00,#ffe400,#ffeb00,#fff700,#efff00,#c3ff00,#7bff00,#37ff00,#00ff06,#00ff3d,#00ff73 1285.5px)"></i><i style="top:602px;height:2px;background:linear-gradient(90deg,#008cff 1.5px,#00f9ff,#00ff9e,#00ff3e,#22ff00,#7fff00,#d5ff00,#fff400,#ffde00,#ffda00,#ffdd00,#ffe400,#ffec00,#fff700,#eeff00,#c3ff00,#7bff00,#37ff00,#00ff05,#00ff3d,#00ff73 1285.5px)"></i><i style="top:604px;height:2px;background:linear-gradient(90deg,#008cff 1.5px,#00f9ff,#00ff9e,#00ff3e,#22ff00,#7fff00,#d5ff00,#fff400,#ffdf00,#ffdb00,#ffde00,#ffe500,#ffec00,#fff800,#eeff00,#c3ff00,#7bff00,#37ff00,#00ff05,#00ff3d,#00ff73 1285.5px)"></i><i style="top:606px;height:2px;background:linear-gradient(90deg,#008cff 1.5px,#00f9ff,#00ff9e,#00ff3e,#22ff00,#7fff00,#d5ff00,#fff500,#ffdf00,#ffdb00,#ffde00,#ffe500,#ffed00,#fff900,#eeff00,#c3ff00,#7cff00,#37ff00,#00ff05,#00ff3d,#00ff72 1285.5px)"></i><i style="top:608px;height:2px;background:linear-gradient(90deg,#008cff 1.5px,#00f9ff,#00ff9e,#00ff3e,#22ff00,#7fff00,#d5ff00,#fff500,#ffe000,#ffdc00,#ffdf00,#ffe600,#ffed00,#fff900,#edff00,#c3ff00,#7cff00,#37ff00,#00ff05,#00ff3d,#00ff72 1285.5px)"></i><i style="top:610px;height:2px;background:linear-gradient(90deg,#008cff 1.5px,#00f9ff,#00ff9e,#00ff3e,#22ff00,#7fff00,#d5ff00,#fff500,#ffe000,#ffdc00,#ffdf00,#ffe600,#ffee00,#fffa00,#edff00,#c3ff00,#7cff00,#37ff00,#00ff05,#00ff3c,#00ff72 1285.5px)"></i><i style="top:612px;height:2px;background:linear-gradient(90deg,#008cff 1.5px,#00f9ff,#00ff9e,#00ff3e,#22ff00,#7fff00,#d5ff00,#fff600,#ffe100,#ffdd00,#ffe000,#ffe700,#ffef00,#fffa00,#edff00,#c3ff00,#7cff00,#37ff00,#00ff05,#00ff3c,#00ff72 1285.5px)"></i><i style="top:614px;height:2px;background:linear-gradient(90deg,#008cff 1.5px,#00f9ff,#00ff9e,#00ff3e,#22ff00,#7fff00,#d5ff00,#fff600,#ffe100,#ffdd00,#ffe100,#ffe800,#ffef00,#fffb00,#ecff00,#c3ff00,#7cff00,#37ff00,#00ff04,#00ff3c,#00ff72 1285.5px)"></i><i style="top:616px;height:2px;background:linear-gradient(90deg,#008cff 1.5px,#00f9ff,#00ff9e,#00ff3e,#22ff00,#7fff00,#d5ff00,#fff700,#ffe200,#ffde00,#ffe100,#ffe800,#fff000,#fffb00,#ecff00,#c3ff00,#7cff00,#37ff00,#00ff04,#00ff3c,#00ff72 1285.5px)"></i><i style="top:618px;height:2px;background:linear-gradient(90deg,#008cff 1.5px,#00f9ff,#00ff9e,#00ff3e,#22ff00,#80ff00,#d5ff00,#fff700,#ffe200,#ffde00,#ffe200,#ffe900,#fff000,#fffc00,#ecff00,#c3ff00,#7cff00,#37ff00,#00ff04,#00ff3c,#00ff71 1285.5px)"></i><i style="top:620px;height:2px;background:linear-gradient(90deg,#008cff 1.5px,#00f9ff,#00ff9e,#00ff3e,#22ff00,#80ff00,#d5ff00,#fff700,#ffe300,#ffdf00,#ffe200,#ffe900,#fff100,#fffd00,#ebff00,#c3ff00,#7cff00,#38ff00,#00ff04,#00ff3c,#00ff71 1285.5px)"></i><i style="top:622px;height:2px;background:linear-gradient(90deg,#008cff 1.5px,#00f9ff,#00ff9e,#00ff3e,#22ff00,#80ff00,#d5ff00,#fff800,#ffe300,#ffdf00,#ffe300,#ffea00,#fff200,#fffd00,#ebff00,#c3ff00,#7cff00,#38ff00,#00ff04,#00ff3b,#00ff71 1285.5px)"></i><i style="top:624px;height:2px;background:linear-gradient(90deg,#008dff 1.5px,#00f9ff,#00ff9e,#00ff3e,#22ff00,#80ff00,#d5ff00,#fff800,#ffe400,#ffe000,#ffe400,#ffeb00,#fff200,#fffe00,#eaff00,#c3ff00,#7cff00,#38ff00,#00ff04,#00ff3b,#00ff71 1285.5px)"></i><i style="top:626px;height:2px;background:linear-gradient(90deg,#008dff 1.5px,#00f9ff,#00ff9e,#00ff3e,#22ff00,#80ff00,#d5ff00,#fff800,#ffe400,#ffe000,#ffe400,#ffeb00,#fff300,#fefe00,#eaff00,#c2ff00,#7cff00,#38ff00,#00ff04,#00ff3b,#00ff71 1285.5px)"></i><i style="top:628px;height:2px;background:linear-gradient(90deg,#008dff 1.5px,#00f9ff,#00ff9e,#00ff3e,#22ff00,#80ff00,#d5ff00,#fff800,#ffe400,#ffe100,#ffe500,#ffec00,#fef300,#fdfe00,#e9ff00,#c2ff00,#7cff00,#38ff00,#00ff04,#00ff3b,#00ff71 1285.5px)"></i><i style="top:630px;height:2px;background:linear-gradient(90deg,#008dff 1.5px,#00f9ff,#00ff9e,#00ff3e,#22ff00,#80ff00,#d5ff00,#fff900,#ffe500,#ffe100,#ffe500,#ffec00,#fef300,#fdfe00,#e8ff00,#c2ff00,#7cff00,#38ff00,#00ff04,#00ff3b,#00ff71 1285.5px)"></i><i style="top:632px;height:2px;background:linear-gradient(90deg,#008dff 1.5px,#00f9ff,#00ff9e,#00ff3e,#22ff00,#80ff00,#d5ff00,#fff900,#ffe500,#ffe200,#ffe600,#ffed00,#fef400,#fcfe00,#e8ff00,#c2ff00,#7cff00,#38ff00,#00ff04,#00ff3b,#00ff71 1285.5px)"></i><i style="top:634px;height:2px;background:linear-gradient(90deg,#008dff 1.5px,#00f9ff,#00ff9e,#00ff3e,#22ff00,#80ff00,#d5ff00,#fff900,#ffe600,#ffe200,#ffe600,#ffed00,#fef400,#fbfe00,#e7ff00,#c2ff00,#7cff00,#38ff00,#00ff04,#00ff3b,#00ff71 1285.5px)"></i><i style="top:636px;height:2px;background:linear-gradient(90deg,#008dff 1.5px,#00f9ff,#00ff9e,#00ff3e,#22ff00,#80ff00,#d5ff00,#fff900,#ffe600,#ffe300,#ffe700,#ffee00,#fdf500,#fbfe00,#e7ff00,#c1ff00,#7cff00,#38ff00,#00ff04,#00ff3b,#00ff71 1285.5px)"></i><i style="top:638px;height:2px;background:linear-gradient(90deg,#008dff 1.5px,#00f9ff,#00ff9e,#00ff3d,#22ff00,#80ff00,#d5ff00,#fff900,#ffe600,#ffe300,#ffe700,#ffef00,#fdf500,#fafe00,#e6ff00,#c1ff00,#7cff00,#38ff00,#00ff04,#00ff3b,#00ff71 1285.5px)"></i><i style="top:640px;height:2px;background:linear-gradient(90deg,#008dff 1.5px,#00f9ff,#00ff9e,#00ff3d,#22ff00,#80ff00,#d5ff00,#fffa00,#ffe700,#ffe400,#ffe800,#ffef00,#fdf600,#f9fe00,#e5ff00,#c1ff00,#7cff00,#38ff00,#00ff04,#00ff3b,#00ff70 1285.5px)"></i><i style="top:642px;height:2px;background:linear-gradient(90deg,#008dff 1.5px,#00f9ff,#00ff9e,#00ff3d,#22ff00,#80ff00,#d5ff00,#fffa00,#ffe700,#ffe400,#ffe800,#fff000,#fdf600,#f9fe00,#e5ff00,#c1ff00,#7cff00,#38ff00,#00ff04,#00ff3b,#00ff70 1285.5px)"></i><i style="top:644px;height:2px;background:linear-gradient(90deg,#008dff 1.5px,#00f9ff,#00ff9e,#00ff3d,#22ff00,#80ff00,#d5ff00,#fffa00,#ffe800,#ffe500,#ffe900,#fff000,#fcf600,#f8fe00,#e4ff00,#c1ff00,#7cff00,#38ff00,#00ff04,#00ff3b,#00ff70 1285.5px)"></i><i style="top:646px;height:2px;background:linear-gradient(90deg,#008dff 1.5px,#00f9ff,#00ff9e,#00ff3d,#22ff00,#80ff00,#d5ff00,#fffa00,#ffe800,#ffe500,#ffea00,#fff100,#fcf700,#f7fe00,#e3ff00,#c0ff00,#7cff00,#38ff00,#00ff04,#00ff3b,#00ff70 1285.5px)"></i><i style="top:648px;height:2px;background:linear-gradient(90deg,#008dff 1.5px,#00f9ff,#00ff9e,#00ff3d,#22ff00,#80ff00,#d5ff00,#fffb00,#ffe800,#ffe600,#ffea00,#fff200,#fcf700,#f7fe00,#e3ff00,#c0ff00,#7cff00,#38ff00,#00ff04,#00ff3b,#00ff70 1285.5px)"></i><i style="top:650px;height:2px;background:linear-gradient(90deg,#008dff 1.5px,#00f9ff,#00ff9e,#00ff3d,#22ff00,#80ff00,#d5ff00,#fffb00,#ffe900,#ffe600,#ffeb00,#fff200,#fcf800,#f6fe00,#e2ff00,#c0ff00,#7cff00,#38ff00,#00ff04,#00ff3b,#00ff70 1285.5px)"></i><i style="top:652px;height:2px;background:linear-gradient(90deg,#008dff 1.5px,#00f9ff,#00ff9e,#00ff3d,#22ff00,#80ff00,#d5ff00,#fffb00,#ffe900,#ffe700,#ffeb00,#fff300,#fbf800,#f5fe00,#e1ff00,#c0ff00,#7cff00,#38ff00,#00ff04,#00ff3b,#00ff70 1285.5px)"></i><i style="top:654px;height:2px;background:linear-gradient(90deg,#008eff 1.5px,#00f9ff,#00ff9e,#00ff3d,#22ff00,#80ff00,#d5ff00,#fffb00,#ffea00,#ffe700,#ffec00,#fff300,#fbf800,#f5fe00,#e1ff00,#bfff00,#7cff00,#38ff00,#00ff04,#00ff3b,#00ff70 1285.5px)"></i><i style="top:656px;height:2px;background:linear-gradient(90deg,#008eff 1.5px,#00f9ff,#00ff9e,#00ff3d,#22ff00,#80ff00,#d5ff00,#fffb00,#ffea00,#ffe800,#ffec00,#fff400,#fbf900,#f4fe00,#e0ff00,#bfff00,#7bff00,#38ff00,#00ff04,#00ff3b,#00ff70 1285.5px)"></i><i style="top:658px;height:2px;background:linear-gradient(90deg,#008eff 1.5px,#00f9ff,#00ff9e,#00ff3d,#22ff00,#80ff00,#d5ff00,#fffc00,#ffea00,#ffe800,#ffed00,#fff400,#fbf900,#f3fe00,#dfff00,#bfff00,#7bff00,#38ff00,#00ff04,#00ff3b,#00ff70 1285.5px)"></i><i style="top:660px;height:2px;background:linear-gradient(90deg,#008eff 1.5px,#00f9ff,#00ff9e,#00ff3d,#22ff00,#80ff00,#d5ff00,#fffc00,#ffeb00,#ffe900,#ffed00,#fff500,#fbfa00,#f3fe00,#dfff00,#bfff00,#7bff00,#38ff00,#00ff04,#00ff3b,#00ff70 1285.5px)"></i><i style="top:662px;height:2px;background:linear-gradient(90deg,#008eff 1.5px,#00f9ff,#00ff9e,#00ff3d,#22ff00,#81ff00,#d5ff00,#fffc00,#ffeb00,#ffe900,#ffee00,#fff600,#fafa00,#f2fe00,#deff00,#bfff00,#7bff00,#38ff00,#00ff04,#00ff3b,#00ff70 1285.5px)"></i><i style="top:664px;height:2px;background:linear-gradient(90deg,#008eff 1.5px,#00f9ff,#00ff9e,#00ff3d,#22ff00,#81ff00,#d5ff00,#fffc00,#ffeb00,#ffea00,#ffee00,#fff600,#fafb00,#f1fe00,#ddff00,#beff00,#7bff00,#38ff00,#00ff04,#00ff3b,#00ff70 1285.5px)"></i><i style="top:666px;height:2px;background:linear-gradient(90deg,#008eff 1.5px,#00f9ff,#00ff9e,#00ff3d,#22ff00,#81ff00,#d5ff00,#fffd00,#ffec00,#ffea00,#ffef00,#fff700,#fafb00,#f1ff00,#ddff00,#beff00,#7bff00,#38ff00,#00ff04,#00ff3b,#00ff70 1285.5px)"></i><i style="top:668px;height:2px;background:linear-gradient(90deg,#008eff 1.5px,#00f9ff,#00ff9e,#00ff3d,#22ff00,#81ff00,#d5ff00,#fffd00,#ffec00,#ffeb00,#ffef00,#fff700,#fafb00,#f0ff00,#dcff00,#beff00,#7bff00,#38ff00,#00ff04,#00ff3b,#00ff70 1285.5px)"></i><i style="top:670px;height:2px;background:linear-gradient(90deg,#008eff 1.5px,#00f9ff,#00ff9e,#00ff3d,#22ff00,#81ff00,#d5ff00,#fffd00,#ffed00,#ffeb00,#fff000,#fff800,#f9fc00,#efff00,#dbff00,#beff00,#7bff00,#38ff00,#00ff04,#00ff3b,#00ff70 1285.5px)"></i><i style="top:672px;height:2px;background:linear-gradient(90deg,#008eff 1.5px,#00f9ff,#00ff9e,#00ff3d,#22ff00,#81ff00,#d5ff00,#fffd00,#ffed00,#ffeb00,#fff100,#fff900,#f9fc00,#efff00,#dbff00,#beff00,#7bff00,#38ff00,#00ff04,#00ff3b,#00ff70 1285.5px)"></i><i style="top:674px;height:2px;background:linear-gradient(90deg,#008eff 1.5px,#00f9ff,#00ff9e,#00ff3d,#22ff00,#81ff00,#d5ff00,#fffd00,#ffed00,#ffec00,#fff100,#fff900,#f9fd00,#eeff00,#daff00,#bdff00,#7bff00,#38ff00,#00ff04,#00ff3b,#00ff70 1285.5px)"></i><i style="top:676px;height:2px;background:linear-gradient(90deg,#008eff 1.5px,#00f9ff,#00ff9e,#00ff3c,#23ff00,#81ff00,#d5ff00,#fffe00,#ffee00,#ffec00,#fff200,#fffa00,#f9fd00,#edff00,#d9ff00,#bdff00,#7bff00,#39ff00,#00ff04,#00ff3b,#00ff6f 1285.5px)"></i><i style="top:678px;height:2px;background:linear-gradient(90deg,#008eff 1.5px,#00f9ff,#00ff9e,#00ff3c,#23ff00,#81ff00,#d5ff00,#fffe00,#ffee00,#ffed00,#fff200,#fffa00,#f8fd00,#edff00,#d9ff00,#bdff00,#7bff00,#39ff00,#00ff04,#00ff3b,#00ff6f 1285.5px)"></i><i style="top:680px;height:2px;background:linear-gradient(90deg,#008eff 1.5px,#00f9ff,#00ff9d,#00ff3c,#23ff00,#81ff00,#d5ff00,#fffe00,#ffef00,#ffed00,#fff300,#fffb00,#f8fe00,#ecff00,#d8ff00,#bdff00,#7bff00,#39ff00,#00ff04,#00ff3b,#00ff6f 1285.5px)"></i><i style="top:682px;height:2px;background:linear-gradient(90deg,#008eff 1.5px,#00f9ff,#00ff9d,#00ff3c,#23ff00,#81ff00,#d5ff00,#fffe00,#ffef00,#ffee00,#fff300,#fffc00,#f8fe00,#ebff00,#d8ff00,#bcff00,#7bff00,#39ff00,#00ff04,#00ff3b,#00ff6f 1285.5px)"></i><i style="top:684px;height:2px;background:linear-gradient(90deg,#008fff 1.5px,#00f9ff,#00ff9d,#00ff3c,#23ff00,#81ff00,#d5ff00,#ffff00,#ffef00,#ffee00,#fff400,#fffc00,#f8ff00,#ebff00,#d7ff00,#bcff00,#7bff00,#39ff00,#00ff04,#00ff3b,#00ff6f 1285.5px)"></i><i style="top:686px;height:2px;background:linear-gradient(90deg,#008fff 1.5px,#00f9ff,#00ff9d,#00ff3c,#23ff00,#81ff00,#d5ff00,#ffff00,#fff000,#ffef00,#fff400,#fffc00,#f7ff00,#eaff00,#d6ff00,#bcff00,#7bff00,#39ff00,#00ff04,#00ff3b,#00ff6f 1285.5px)"></i><i style="top:688px;height:2px;background:linear-gradient(90deg,#008fff 1.5px,#00faff,#00ff9d,#00ff3c,#23ff00,#81ff00,#d5ff00,#ffff00,#fff000,#ffef00,#fff500,#fefd00,#f6ff00,#e9ff00,#d5ff00,#bbff00,#7bff00,#39ff00,#00ff04,#00ff3b,#00ff6f 1285.5px)"></i><i style="top:690px;height:2px;background:linear-gradient(90deg,#008fff 1.5px,#00faff,#00ff9d,#00ff3c,#23ff00,#81ff00,#d5ff00,#feff00,#fff100,#fff000,#fef500,#fefd00,#f6ff00,#e8ff00,#d4ff00,#baff00,#7bff00,#39ff00,#00ff04,#00ff3b,#00ff6f 1285.5px)"></i><i style="top:692px;height:2px;background:linear-gradient(90deg,#008fff 1.5px,#00faff,#00ff9d,#00ff3c,#23ff00,#81ff00,#d5ff00,#feff00,#fff100,#fff000,#fef500,#fdfd00,#f5ff00,#e7ff00,#d3ff00,#baff00,#7bff00,#39ff00,#00ff04,#00ff3b,#00ff6f 1285.5px)"></i><i style="top:694px;height:2px;background:linear-gradient(90deg,#008fff 1.5px,#00faff,#00ff9d,#00ff3c,#23ff00,#81ff00,#d5ff00,#feff00,#fff200,#fff100,#fef600,#fcfd00,#f4ff00,#e7ff00,#d2ff00,#b9ff00,#7bff00,#39ff00,#00ff04,#00ff3b,#00ff70 1285.5px)"></i><i style="top:696px;height:2px;background:linear-gradient(90deg,#008fff 1.5px,#00faff,#00ff9d,#00ff3c,#23ff00,#81ff00,#d5ff00,#fdff00,#fff200,#fff100,#fef600,#fcfd00,#f3ff00,#e6ff00,#d1ff00,#b8ff00,#7bff00,#39ff00,#00ff04,#00ff3b,#00ff70 1285.5px)"></i><i style="top:698px;height:2px;background:linear-gradient(90deg,#008fff 1.5px,#00faff,#00ff9d,#00ff3c,#23ff00,#81ff00,#d6ff00,#fdff00,#fff300,#fff200,#fdf600,#fbfd00,#f3ff00,#e5ff00,#d0ff00,#b7ff00,#7bff00,#39ff00,#00ff04,#00ff3b,#00ff70 1285.5px)"></i><i style="top:700px;height:2px;background:linear-gradient(90deg,#008fff 1.5px,#00faff,#00ff9d,#00ff3c,#23ff00,#81ff00,#d6ff00,#fdff00,#fff300,#fff300,#fdf700,#fbfd00,#f2ff00,#e4ff00,#d0ff00,#b6ff00,#7bff00,#39ff00,#00ff05,#00ff3b,#00ff70 1285.5px)"></i><i style="top:702px;height:2px;background:linear-gradient(90deg,#008fff 1.5px,#00faff,#00ff9d,#00ff3c,#23ff00,#81ff00,#d6ff00,#fcff00,#fff400,#fff300,#fdf700,#fafd00,#f1ff00,#e3ff00,#cfff00,#b6ff00,#7bff00,#39ff00,#00ff05,#00ff3b,#00ff70 1285.5px)"></i><i style="top:704px;height:2px;background:linear-gradient(90deg,#008fff 1.5px,#00faff,#00ff9d,#00ff3c,#23ff00,#82ff00,#d6ff00,#fcff00,#fff400,#fff400,#fdf700,#fafd00,#f0ff00,#e2ff00,#ceff00,#b5ff00,#7aff00,#39ff00,#00ff05,#00ff3b,#00ff70 1285.5px)"></i><i style="top:706px;height:2px;background:linear-gradient(90deg,#008fff 1.5px,#00faff,#00ff9d,#00ff3c,#23ff00,#82ff00,#d6ff00,#fcff00,#fff500,#fef400,#fcf800,#f9fd00,#f0ff00,#e2ff00,#cdff00,#b4ff00,#7aff00,#39ff00,#00ff05,#00ff3c,#00ff70 1285.5px)"></i><i style="top:708px;height:2px;background:linear-gradient(90deg,#008fff 1.5px,#00faff,#00ff9d,#00ff3c,#23ff00,#82ff00,#d6ff00,#fbff00,#fff500,#fef500,#fcf800,#f8fd00,#efff00,#e1ff00,#ccff00,#b3ff00,#7aff00,#39ff00,#00ff05,#00ff3c,#00ff70 1285.5px)"></i><i style="top:710px;height:2px;background:linear-gradient(90deg,#008fff 1.5px,#00faff,#00ff9d,#00ff3c,#23ff00,#82ff00,#d6ff00,#fbff00,#fff600,#fef500,#fcf800,#f8fd00,#eeff00,#e0ff00,#cbff00,#b3ff00,#7aff00,#3aff00,#00ff05,#00ff3c,#00ff70 1285.5px)"></i><i style="top:712px;height:2px;background:linear-gradient(90deg,#008fff 1.5px,#00faff,#00ff9d,#00ff3c,#23ff00,#82ff00,#d6ff00,#fbff00,#fff600,#fef600,#fcf900,#f7fe00,#edff00,#dfff00,#caff00,#b2ff00,#7aff00,#3aff00,#00ff05,#00ff3c,#00ff70 1285.5px)"></i><i style="top:714px;height:2px;background:linear-gradient(90deg,#008fff 1.5px,#00faff,#00ff9d,#00ff3c,#23ff00,#82ff00,#d6ff00,#faff00,#fff700,#fef600,#fbf900,#f7fe00,#edff00,#deff00,#c9ff00,#b1ff00,#7aff00,#3aff00,#00ff05,#00ff3c,#00ff70 1285.5px)"></i><i style="top:716px;height:2px;background:linear-gradient(90deg,#008fff 1.5px,#00faff,#00ff9d,#00ff3c,#23ff00,#82ff00,#d6ff00,#faff00,#fff700,#fef700,#fbf900,#f6fe00,#ecff00,#ddff00,#c8ff00,#b0ff00,#7aff00,#3aff00,#00ff05,#00ff3c,#00ff70 1285.5px)"></i><i style="top:718px;height:2px;background:linear-gradient(90deg,#008fff 1.5px,#00faff,#00ff9d,#00ff3c,#23ff00,#82ff00,#d6ff00,#faff00,#fff800,#fef700,#fbfa00,#f6fe00,#ebff00,#ddff00,#c7ff00,#b0ff00,#7aff00,#3aff00,#00ff05,#00ff3c,#00ff70 1285.5px)"></i><i style="top:720px;height:2px;background:linear-gradient(90deg,#008fff 1.5px,#00faff,#00ff9d,#00ff3c,#23ff00,#82ff00,#d6ff00,#f9ff00,#fff800,#fef800,#fbfa00,#f5fe00,#eaff00,#dcff00,#c6ff00,#afff00,#7aff00,#3aff00,#00ff05,#00ff3c,#00ff70 1285.5px)"></i><i style="top:722px;height:2px;background:linear-gradient(90deg,#0090ff 1.5px,#00faff,#00ff9d,#00ff3c,#23ff00,#82ff00,#d6ff00,#f9ff00,#fff900,#fef800,#fafb00,#f4fe00,#eaff00,#dbff00,#c5ff00,#aeff00,#7aff00,#3aff00,#00ff05,#00ff3c,#00ff71 1285.5px)"></i><i style="top:724px;height:2px;background:linear-gradient(90deg,#0090ff 1.5px,#00faff,#00ff9d,#00ff3b,#23ff00,#82ff00,#d6ff00,#f9ff00,#fff900,#fef900,#fafb00,#f4fe00,#e9ff00,#daff00,#c4ff00,#adff00,#7aff00,#3aff00,#00ff06,#00ff3c,#00ff71 1285.5px)"></i><i style="top:726px;height:2px;background:linear-gradient(90deg,#0090ff 1.5px,#00faff,#00ff9d,#00ff3b,#23ff00,#82ff00,#d6ff00,#f8ff00,#fffa00,#fef900,#fafb00,#f3fe00,#e8ff00,#d9ff00,#c3ff00,#adff00,#7aff00,#3aff00,#00ff06,#00ff3c,#00ff71 1285.5px)"></i><i style="top:728px;height:2px;background:linear-gradient(90deg,#0090ff 1.5px,#00faff,#00ff9d,#00ff3b,#23ff00,#82ff00,#d6ff00,#f8ff00,#fffa00,#fefa00,#fafc00,#f3fe00,#e7ff00,#d8ff00,#c2ff00,#acff00,#7aff00,#3aff00,#00ff06,#00ff3d,#00ff71 1285.5px)"></i><i style="top:730px;height:2px;background:linear-gradient(90deg,#0090ff 1.5px,#00faff,#00ff9d,#00ff3b,#23ff00,#82ff00,#d6ff00,#f8ff00,#fffb00,#fefa00,#f9fc00,#f2fe00,#e7ff00,#d8ff00,#c1ff00,#abff00,#7aff00,#3aff00,#00ff06,#00ff3d,#00ff71 1285.5px)"></i><i style="top:732px;height:2px;background:linear-gradient(90deg,#0090ff 1.5px,#00faff,#00ff9d,#00ff3b,#23ff00,#82ff00,#d6ff00,#f7ff00,#fefb00,#fefb00,#f9fc00,#f1fe00,#e6ff00,#d7ff00,#c1ff00,#aaff00,#7aff00,#3aff00,#00ff06,#00ff3d,#00ff71 1285.5px)"></i><i style="top:734px;height:2px;background:linear-gradient(90deg,#0090ff 1.5px,#00faff,#00ff9d,#00ff3b,#23ff00,#82ff00,#d6ff00,#f7ff00,#fefc00,#fefb00,#f9fd00,#f1fe00,#e5ff00,#d6ff00,#c0ff00,#aaff00,#7aff00,#3aff00,#00ff06,#00ff3d,#00ff71 1285.5px)"></i><i style="top:736px;height:2px;background:linear-gradient(90deg,#0090ff 1.5px,#00faff,#00ff9d,#00ff3b,#23ff00,#82ff00,#d6ff00,#f7ff00,#fefc00,#fefc00,#f8fd00,#f0ff00,#e4ff00,#d5ff00,#bfff00,#a9ff00,#79ff00,#3aff00,#00ff06,#00ff3d,#00ff71 1285.5px)"></i><i style="top:738px;height:2px;background:linear-gradient(90deg,#0090ff 1.5px,#00faff,#00ff9d,#00ff3b,#23ff00,#82ff00,#d6ff00,#f7ff00,#fefd00,#fefd00,#f8fd00,#f0ff00,#e4ff00,#d4ff00,#beff00,#a8ff00,#79ff00,#3aff00,#00ff06,#00ff3d,#00ff71 1285.5px)"></i><i style="top:740px;height:2px;background:linear-gradient(90deg,#0090ff 1.5px,#00faff,#00ff9d,#00ff3b,#24ff00,#82ff00,#d6ff00,#f6ff00,#fefd00,#fefd00,#f8fe00,#efff00,#e3ff00,#d3ff00,#bdff00,#a7ff00,#79ff00,#3bff00,#00ff06,#00ff3d,#00ff71 1285.5px)"></i><i style="top:742px;height:2px;background:linear-gradient(90deg,#0090ff 1.5px,#00faff,#00ff9d,#00ff3b,#24ff00,#82ff00,#d6ff00,#f6ff00,#fefe00,#fefe00,#f8fe00,#efff00,#e2ff00,#d2ff00,#bcff00,#a7ff00,#79ff00,#3bff00,#00ff06,#00ff3d,#00ff71 1285.5px)"></i><i style="top:744px;height:2px;background:linear-gradient(90deg,#0090ff 1.5px,#00faff,#00ff9c,#00ff3b,#24ff00,#82ff00,#d6ff00,#f6ff00,#fefe00,#fdfe00,#f7fe00,#eeff00,#e1ff00,#d2ff00,#bbff00,#a6ff00,#79ff00,#3bff00,#00ff06,#00ff3d,#00ff71 1285.5px)"></i><i style="top:746px;height:2px;background:linear-gradient(90deg,#0090ff 1.5px,#00faff,#00ff9c,#00ff3b,#24ff00,#82ff00,#d6ff00,#f5ff00,#feff00,#fdff00,#f7ff00,#edff00,#e0ff00,#d1ff00,#baff00,#a5ff00,#79ff00,#3bff00,#00ff06,#00ff3d,#00ff71 1285.5px)"></i><i style="top:748px;height:2px;background:linear-gradient(90deg,#0090ff 1.5px,#00faff,#00ff9c,#00ff3b,#24ff00,#83ff00,#d6ff00,#f5ff00,#feff00,#fdff00,#f7ff00,#edff00,#e0ff00,#d0ff00,#b9ff00,#a4ff00,#79ff00,#3bff00,#00ff07,#00ff3e,#00ff72 1285.5px)"></i><i style="top:750px;height:2px;background:linear-gradient(90deg,#0090ff 1.5px,#00faff,#00ff9c,#00ff3b,#24ff00,#83ff00,#d6ff00,#f4ff00,#fdff00,#fcff00,#f6ff00,#ecff00,#dfff00,#cfff00,#b8ff00,#a4ff00,#79ff00,#3bff00,#00ff07,#00ff3e,#00ff72 1285.5px)"></i><i style="top:752px;height:2px;background:linear-gradient(90deg,#0090ff 1.5px,#00faff,#00ff9c,#00ff3b,#24ff00,#83ff00,#d6ff00,#f4ff00,#fdff00,#fcff00,#f5ff00,#ebff00,#deff00,#ceff00,#b8ff00,#a3ff00,#79ff00,#3bff00,#00ff07,#00ff3e,#00ff72 1285.5px)"></i><i style="top:754px;height:2px;background:linear-gradient(90deg,#0090ff 1.5px,#00fbff,#00ff9c,#00ff3b,#24ff00,#83ff00,#d5ff00,#f3ff00,#fcff00,#fbff00,#f5ff00,#ebff00,#ddff00,#cdff00,#b7ff00,#a2ff00,#78ff00,#3aff00,#00ff07,#00ff3e,#00ff73 1285.5px)"></i><i style="top:756px;height:2px;background:linear-gradient(90deg,#0090ff 1.5px,#00fbff,#00ff9c,#00ff3b,#24ff00,#83ff00,#d5ff00,#f2ff00,#fbff00,#faff00,#f4ff00,#eaff00,#ddff00,#cdff00,#b6ff00,#a1ff00,#78ff00,#3aff00,#00ff07,#00ff3f,#00ff73 1285.5px)"></i><i style="top:758px;height:2px;background:linear-gradient(90deg,#0090ff 1.5px,#00fbff,#00ff9c,#00ff3b,#24ff00,#83ff00,#d5ff00,#f2ff00,#faff00,#faff00,#f3ff00,#e9ff00,#dcff00,#ccff00,#b5ff00,#a1ff00,#78ff00,#3aff00,#00ff07,#00ff3f,#00ff73 1285.5px)"></i><i style="top:760px;height:2px;background:linear-gradient(90deg,#0090ff 1.5px,#00fbff,#00ff9c,#00ff3b,#24ff00,#83ff00,#d5ff00,#f1ff00,#faff00,#f9ff00,#f3ff00,#e9ff00,#dbff00,#cbff00,#b5ff00,#a0ff00,#78ff00,#3aff00,#00ff08,#00ff3f,#00ff74 1285.5px)"></i><i style="top:762px;height:2px;background:linear-gradient(90deg,#0090ff 1.5px,#00fbff,#00ff9c,#00ff3b,#24ff00,#83ff00,#d4ff00,#f0ff00,#f9ff00,#f8ff00,#f2ff00,#e8ff00,#daff00,#caff00,#b4ff00,#9fff00,#77ff00,#3aff00,#00ff08,#00ff3f,#00ff74 1285.5px)"></i><i style="top:764px;height:2px;background:linear-gradient(90deg,#0090ff 1.5px,#00fbff,#00ff9c,#00ff3b,#24ff00,#83ff00,#d4ff00,#f0ff00,#f8ff00,#f8ff00,#f1ff00,#e7ff00,#d9ff00,#c9ff00,#b3ff00,#9fff00,#77ff00,#3aff00,#00ff08,#00ff40,#00ff74 1285.5px)"></i><i style="top:766px;height:2px;background:linear-gradient(90deg,#0091ff 1.5px,#00fbff,#00ff9c,#00ff3b,#24ff00,#83ff00,#d4ff00,#efff00,#f8ff00,#f7ff00,#f1ff00,#e6ff00,#d9ff00,#c8ff00,#b2ff00,#9eff00,#77ff00,#3aff00,#00ff08,#00ff40,#00ff75 1285.5px)"></i><i style="top:768px;height:2px;background:linear-gradient(90deg,#0091ff 1.5px,#00fbff,#00ff9c,#00ff3b,#24ff00,#83ff00,#d4ff00,#eeff00,#f7ff00,#f6ff00,#f0ff00,#e6ff00,#d8ff00,#c8ff00,#b2ff00,#9dff00,#77ff00,#3aff00,#00ff08,#00ff40,#00ff75 1285.5px)"></i><i style="top:770px;height:2px;background:linear-gradient(90deg,#0091ff 1.5px,#00fbff,#00ff9c,#00ff3b,#24ff00,#83ff00,#d3ff00,#eeff00,#f6ff00,#f5ff00,#efff00,#e5ff00,#d7ff00,#c7ff00,#b1ff00,#9cff00,#76ff00,#39ff00,#00ff09,#00ff41,#00ff75 1285.5px)"></i><i style="top:772px;height:2px;background:linear-gradient(90deg,#0091ff 1.5px,#00fbff,#00ff9c,#00ff3b,#24ff00,#83ff00,#d3ff00,#edff00,#f5ff00,#f5ff00,#eeff00,#e4ff00,#d6ff00,#c6ff00,#b0ff00,#9cff00,#76ff00,#39ff00,#00ff09,#00ff41,#00ff76 1285.5px)"></i><i style="top:774px;height:2px;background:linear-gradient(90deg,#0091ff 1.5px,#00fbff,#00ff9c,#00ff3b,#24ff00,#83ff00,#d3ff00,#ecff00,#f5ff00,#f4ff00,#eeff00,#e4ff00,#d5ff00,#c5ff00,#afff00,#9bff00,#76ff00,#39ff00,#00ff09,#00ff41,#00ff76 1285.5px)"></i><i style="top:776px;height:2px;background:linear-gradient(90deg,#0091ff 1.5px,#00fbff,#00ff9c,#00ff3b,#24ff00,#83ff00,#d3ff00,#ecff00,#f4ff00,#f3ff00,#edff00,#e3ff00,#d5ff00,#c4ff00,#afff00,#9aff00,#76ff00,#39ff00,#00ff09,#00ff41,#00ff76 1285.5px)"></i><i style="top:778px;height:2px;background:linear-gradient(90deg,#0091ff 1.5px,#00fbff,#00ff9c,#00ff3b,#24ff00,#83ff00,#d3ff00,#ebff00,#f3ff00,#f3ff00,#ecff00,#e2ff00,#d4ff00,#c3ff00,#aeff00,#9aff00,#75ff00,#39ff00,#00ff09,#00ff42,#00ff77 1285.5px)"></i><i style="top:780px;height:2px;background:linear-gradient(90deg,#0091ff 1.5px,#00fbff,#00ff9c,#00ff3b,#24ff00,#83ff00,#d2ff00,#eaff00,#f3ff00,#f2ff00,#ecff00,#e1ff00,#d3ff00,#c3ff00,#adff00,#99ff00,#75ff00,#39ff00,#00ff09,#00ff42,#00ff77 1285.5px)"></i><i style="top:782px;height:2px;background:linear-gradient(90deg,#0091ff 1.5px,#00fbff,#00ff9c,#00ff3b,#24ff00,#83ff00,#d2ff00,#eaff00,#f2ff00,#f1ff00,#ebff00,#e1ff00,#d2ff00,#c2ff00,#adff00,#98ff00,#75ff00,#39ff00,#00ff0a,#00ff42,#00ff77 1285.5px)"></i><i style="top:784px;height:2px;background:linear-gradient(90deg,#0091ff 1.5px,#00fbff,#00ff9c,#00ff3a,#24ff00,#83ff00,#d2ff00,#e9ff00,#f1ff00,#f0ff00,#eaff00,#e0ff00,#d2ff00,#c1ff00,#acff00,#97ff00,#75ff00,#39ff00,#00ff0a,#00ff42,#00ff78 1285.5px)"></i><i style="top:786px;height:2px;background:linear-gradient(90deg,#0091ff 1.5px,#00fbff,#00ff9c,#00ff3a,#24ff00,#83ff00,#d2ff00,#e8ff00,#f0ff00,#f0ff00,#eaff00,#dfff00,#d1ff00,#c0ff00,#abff00,#97ff00,#75ff00,#38ff00,#00ff0a,#00ff43,#00ff78 1285.5px)"></i><i style="top:788px;height:2px;background:linear-gradient(90deg,#0091ff 1.5px,#00fbff,#00ff9c,#00ff3a,#24ff00,#83ff00,#d1ff00,#e8ff00,#f0ff00,#efff00,#e9ff00,#deff00,#d0ff00,#bfff00,#aaff00,#96ff00,#74ff00,#38ff00,#00ff0a,#00ff43,#00ff78 1285.5px)"></i><i style="top:790px;height:2px;background:linear-gradient(90deg,#0091ff 1.5px,#00fbff,#00ff9c,#00ff3a,#25ff00,#83ff00,#d1ff00,#e7ff00,#efff00,#eeff00,#e8ff00,#deff00,#cfff00,#beff00,#aaff00,#95ff00,#74ff00,#38ff00,#00ff0a,#00ff43,#00ff79 1285.5px)"></i><i style="top:792px;height:2px;background:linear-gradient(90deg,#0091ff 1.5px,#00fbff,#00ff9c,#00ff3a,#25ff00,#83ff00,#d1ff00,#e6ff00,#eeff00,#eeff00,#e8ff00,#ddff00,#ceff00,#beff00,#a9ff00,#95ff00,#74ff00,#38ff00,#00ff0b,#00ff44,#00ff79 1285.5px)"></i><i style="top:794px;height:2px;background:linear-gradient(90deg,#0091ff 1.5px,#00fbff,#00ff9c,#00ff3a,#25ff00,#83ff00,#d1ff00,#e6ff00,#edff00,#edff00,#e7ff00,#dcff00,#ceff00,#bdff00,#a8ff00,#94ff00,#74ff00,#38ff00,#00ff0b,#00ff44,#00ff79 1285.5px)"></i><i style="top:796px;height:2px;background:linear-gradient(90deg,#0091ff 1.5px,#00fbff,#00ff9c,#00ff3a,#25ff00,#84ff00,#d1ff00,#e5ff00,#edff00,#ecff00,#e6ff00,#dcff00,#cdff00,#bcff00,#a7ff00,#93ff00,#73ff00,#38ff00,#00ff0b,#00ff44,#00ff7a 1285.5px)"></i><i style="top:798px;height:2px;background:linear-gradient(90deg,#0091ff 1.5px,#00fbff,#00ff9c,#00ff3a,#25ff00,#84ff00,#d0ff00,#e4ff00,#ecff00,#ebff00,#e5ff00,#dbff00,#ccff00,#bbff00,#a7ff00,#92ff00,#73ff00,#38ff00,#00ff0b,#00ff44,#00ff7a 1285.5px)"></i><i style="top:800px;height:2px;background:linear-gradient(90deg,#0091ff 1.5px,#00fbff,#00ff9c,#00ff3a,#25ff00,#84ff00,#d0ff00,#e4ff00,#ebff00,#ebff00,#e5ff00,#daff00,#cbff00,#baff00,#a6ff00,#92ff00,#73ff00,#38ff00,#00ff0b,#00ff45,#00ff7a 1285.5px)"></i><i style="top:802px;height:2px;background:linear-gradient(90deg,#0091ff 1.5px,#00fcff,#00ff9b,#00ff3a,#25ff00,#84ff00,#d0ff00,#e3ff00,#ebff00,#eaff00,#e4ff00,#d9ff00,#caff00,#b9ff00,#a5ff00,#91ff00,#73ff00,#38ff00,#00ff0c,#00ff45,#00ff7a 1285.5px)"></i><i style="top:804px;height:2px;background:linear-gradient(90deg,#0091ff 1.5px,#00fcff,#00ff9b,#00ff3a,#25ff00,#84ff00,#d0ff00,#e2ff00,#eaff00,#e9ff00,#e3ff00,#d9ff00,#caff00,#b9ff00,#a4ff00,#90ff00,#72ff00,#37ff00,#00ff0c,#00ff45,#00ff7b 1285.5px)"></i><i style="top:806px;height:2px;background:linear-gradient(90deg,#0091ff 1.5px,#00fcff,#00ff9b,#00ff3a,#25ff00,#84ff00,#cfff00,#e2ff00,#e9ff00,#e9ff00,#e3ff00,#d8ff00,#c9ff00,#b8ff00,#a4ff00,#90ff00,#72ff00,#37ff00,#00ff0c,#00ff46,#00ff7b 1285.5px)"></i><i style="top:808px;height:2px;background:linear-gradient(90deg,#0091ff 1.5px,#00fcff,#00ff9b,#00ff3a,#25ff00,#84ff00,#cfff00,#e1ff00,#e8ff00,#e8ff00,#e2ff00,#d7ff00,#c8ff00,#b7ff00,#a3ff00,#8fff00,#72ff00,#37ff00,#00ff0c,#00ff46,#00ff7b 1285.5px)"></i><i style="top:810px;height:2px;background:linear-gradient(90deg,#0091ff 1.5px,#00fcff,#00ff9b,#00ff3a,#25ff00,#84ff00,#cfff00,#e0ff00,#e8ff00,#e7ff00,#e1ff00,#d7ff00,#c7ff00,#b6ff00,#a2ff00,#8eff00,#72ff00,#37ff00,#00ff0c,#00ff46,#00ff7c 1285.5px)"></i><i style="top:812px;height:2px;background:linear-gradient(90deg,#0091ff 1.5px,#00fcff,#00ff9b,#00ff3a,#25ff00,#84ff00,#ceff00,#e0ff00,#e7ff00,#e6ff00,#e1ff00,#d6ff00,#c7ff00,#b5ff00,#a1ff00,#8dff00,#71ff00,#36ff00,#00ff0d,#00ff47,#00ff7c 1285.5px)"></i><i style="top:814px;height:2px;background:linear-gradient(90deg,#0091ff 1.5px,#00fcff,#00ff9b,#00ff3a,#25ff00,#84ff00,#cdff00,#dfff00,#e6ff00,#e6ff00,#e0ff00,#d5ff00,#c6ff00,#b4ff00,#a1ff00,#8cff00,#70ff00,#36ff00,#00ff0d,#00ff47,#00ff7d 1285.5px)"></i><i style="top:816px;height:2px;background:linear-gradient(90deg,#0091ff 1.5px,#00fbff,#00ff9b,#00ff3a,#25ff00,#84ff00,#cdff00,#deff00,#e5ff00,#e5ff00,#dfff00,#d4ff00,#c5ff00,#b4ff00,#a0ff00,#8bff00,#6fff00,#35ff00,#00ff0d,#00ff47,#00ff7d 1285.5px)"></i><i style="top:818px;height:2px;background:linear-gradient(90deg,#0091ff 1.5px,#00fbff,#00ff9b,#00ff3a,#25ff00,#84ff00,#ccff00,#ddff00,#e5ff00,#e4ff00,#deff00,#d4ff00,#c4ff00,#b3ff00,#9fff00,#8aff00,#6eff00,#35ff00,#00ff0e,#00ff48,#00ff7e 1285.5px)"></i><i style="top:820px;height:2px;background:linear-gradient(90deg,#0091ff 1.5px,#00fbff,#00ff9b,#00ff3a,#25ff00,#84ff00,#cbff00,#ddff00,#e4ff00,#e3ff00,#deff00,#d3ff00,#c4ff00,#b2ff00,#9eff00,#89ff00,#6dff00,#34ff00,#00ff0e,#00ff48,#00ff7e 1285.5px)"></i><i style="top:822px;height:2px;background:linear-gradient(90deg,#0091ff 1.5px,#00fbff,#00ff9c,#00ff3a,#25ff00,#84ff00,#cbff00,#dcff00,#e3ff00,#e3ff00,#ddff00,#d2ff00,#c3ff00,#b1ff00,#9dff00,#88ff00,#6cff00,#34ff00,#00ff0e,#00ff49,#00ff7f 1285.5px)"></i><i style="top:824px;height:2px;background:linear-gradient(90deg,#0090ff 1.5px,#00fbff,#00ff9c,#00ff3a,#26ff00,#84ff00,#caff00,#dbff00,#e2ff00,#e2ff00,#dcff00,#d1ff00,#c2ff00,#b1ff00,#9cff00,#87ff00,#6bff00,#33ff00,#00ff0f,#00ff49,#00ff7f 1285.5px)"></i><i style="top:826px;height:2px;background:linear-gradient(90deg,#0090ff 1.5px,#00fbff,#00ff9c,#00ff3b,#26ff00,#84ff00,#c9ff00,#daff00,#e1ff00,#e1ff00,#dbff00,#d1ff00,#c1ff00,#b0ff00,#9cff00,#86ff00,#6aff00,#33ff00,#00ff0f,#00ff4a,#00ff80 1285.5px)"></i><i style="top:828px;height:2px;background:linear-gradient(90deg,#0090ff 1.5px,#00fbff,#00ff9c,#00ff3b,#26ff00,#84ff00,#c9ff00,#daff00,#e1ff00,#e0ff00,#dbff00,#d0ff00,#c1ff00,#afff00,#9bff00,#85ff00,#6aff00,#32ff00,#00ff10,#00ff4a,#00ff80 1285.5px)"></i><i style="top:830px;height:2px;background:linear-gradient(90deg,#0090ff 1.5px,#00fbff,#00ff9c,#00ff3b,#26ff00,#83ff00,#c8ff00,#d9ff00,#e0ff00,#e0ff00,#daff00,#cfff00,#c0ff00,#aeff00,#9aff00,#85ff00,#69ff00,#32ff00,#00ff10,#00ff4b,#00ff81 1285.5px)"></i><i style="top:832px;height:2px;background:linear-gradient(90deg,#0090ff 1.5px,#00fbff,#00ff9c,#00ff3b,#26ff00,#83ff00,#c7ff00,#d8ff00,#dfff00,#dfff00,#d9ff00,#ceff00,#bfff00,#aeff00,#99ff00,#84ff00,#68ff00,#31ff00,#00ff10,#00ff4b,#00ff81 1285.5px)"></i><i style="top:834px;height:2px;background:linear-gradient(90deg,#0090ff 1.5px,#00fbff,#00ff9c,#00ff3b,#26ff00,#83ff00,#c7ff00,#d7ff00,#deff00,#deff00,#d8ff00,#ceff00,#beff00,#adff00,#98ff00,#83ff00,#67ff00,#31ff00,#00ff11,#00ff4c,#00ff82 1285.5px)"></i><i style="top:836px;height:2px;background:linear-gradient(90deg,#0090ff 1.5px,#00fbff,#00ff9c,#00ff3b,#26ff00,#83ff00,#c6ff00,#d7ff00,#deff00,#ddff00,#d8ff00,#cdff00,#beff00,#acff00,#97ff00,#82ff00,#66ff00,#30ff00,#00ff11,#00ff4c,#00ff82 1285.5px)"></i><i style="top:838px;height:2px;background:linear-gradient(90deg,#0090ff 1.5px,#00fbff,#00ff9c,#00ff3b,#26ff00,#83ff00,#c5ff00,#d6ff00,#ddff00,#ddff00,#d7ff00,#ccff00,#bdff00,#abff00,#97ff00,#81ff00,#65ff00,#2fff00,#00ff11,#00ff4d,#00ff83 1285.5px)"></i><i style="top:840px;height:2px;background:linear-gradient(90deg,#008fff 1.5px,#00fbff,#00ff9c,#00ff3b,#26ff00,#83ff00,#c4ff00,#d5ff00,#dcff00,#dcff00,#d6ff00,#cbff00,#bcff00,#aaff00,#96ff00,#80ff00,#64ff00,#2fff00,#00ff12,#00ff4d,#00ff83 1285.5px)"></i><i style="top:842px;height:2px;background:linear-gradient(90deg,#008fff 1.5px,#00fbff,#00ff9c,#00ff3b,#26ff00,#83ff00,#c4ff00,#d4ff00,#dbff00,#dbff00,#d5ff00,#cbff00,#bbff00,#aaff00,#95ff00,#7fff00,#63ff00,#2eff00,#00ff12,#00ff4e,#00ff84 1285.5px)"></i><i style="top:844px;height:2px;background:linear-gradient(90deg,#008fff 1.5px,#00fbff,#00ff9c,#00ff3b,#26ff00,#83ff00,#c3ff00,#d4ff00,#daff00,#daff00,#d5ff00,#caff00,#bbff00,#a9ff00,#94ff00,#7eff00,#62ff00,#2eff00,#00ff13,#00ff4e,#00ff84 1285.5px)"></i><i style="top:846px;height:2px;background:linear-gradient(90deg,#008fff 1.5px,#00fbff,#00ff9c,#00ff3b,#26ff00,#83ff00,#c2ff00,#d3ff00,#daff00,#d9ff00,#d4ff00,#c9ff00,#baff00,#a8ff00,#93ff00,#7dff00,#61ff00,#2dff00,#00ff13,#00ff4e,#00ff85 1285.5px)"></i><i style="top:848px;height:2px;background:linear-gradient(90deg,#008fff 1.5px,#00fbff,#00ff9c,#00ff3b,#27ff00,#83ff00,#c2ff00,#d2ff00,#d9ff00,#d9ff00,#d3ff00,#c8ff00,#b9ff00,#a7ff00,#93ff00,#7cff00,#61ff00,#2dff00,#00ff13,#00ff4f,#00ff85 1285.5px)"></i><i style="top:850px;height:2px;background:linear-gradient(90deg,#008fff 1.5px,#00fbff,#00ff9c,#00ff3b,#27ff00,#83ff00,#c1ff00,#d1ff00,#d8ff00,#d8ff00,#d2ff00,#c8ff00,#b9ff00,#a7ff00,#92ff00,#7bff00,#60ff00,#2cff00,#00ff14,#00ff4f,#00ff86 1285.5px)"></i><i style="top:852px;height:2px;background:linear-gradient(90deg,#008fff 1.5px,#00fbff,#00ff9c,#00ff3b,#27ff00,#83ff00,#c0ff00,#d1ff00,#d7ff00,#d7ff00,#d2ff00,#c7ff00,#b8ff00,#a6ff00,#91ff00,#7aff00,#5fff00,#2cff00,#00ff14,#00ff50,#00ff86 1285.5px)"></i><i style="top:854px;height:2px;background:linear-gradient(90deg,#008eff 1.5px,#00faff,#00ff9c,#00ff3b,#27ff00,#83ff00,#c0ff00,#d0ff00,#d7ff00,#d6ff00,#d1ff00,#c6ff00,#b7ff00,#a5ff00,#90ff00,#79ff00,#5eff00,#2bff00,#00ff14,#00ff50,#00ff87 1285.5px)"></i><i style="top:856px;height:2px;background:linear-gradient(90deg,#008eff 1.5px,#00faff,#00ff9c,#00ff3b,#27ff00,#83ff00,#bfff00,#cfff00,#d6ff00,#d6ff00,#d0ff00,#c5ff00,#b6ff00,#a4ff00,#8fff00,#78ff00,#5dff00,#2bff00,#00ff15,#00ff51,#00ff87 1285.5px)"></i><i style="top:858px;height:2px;background:linear-gradient(90deg,#008eff 1.5px,#00faff,#00ff9c,#00ff3b,#27ff00,#83ff00,#beff00,#ceff00,#d5ff00,#d5ff00,#d0ff00,#c5ff00,#b6ff00,#a3ff00,#8eff00,#77ff00,#5cff00,#2aff00,#00ff15,#00ff51,#00ff88 1285.5px)"></i><i style="top:860px;height:2px;background:linear-gradient(90deg,#008eff 1.5px,#00faff,#00ff9c,#00ff3b,#27ff00,#83ff00,#beff00,#cdff00,#d4ff00,#d4ff00,#cfff00,#c4ff00,#b5ff00,#a3ff00,#8eff00,#76ff00,#5bff00,#29ff00,#00ff15,#00ff52,#00ff88 1285.5px)"></i><i style="top:862px;height:2px;background:linear-gradient(90deg,#008eff 1.5px,#00faff,#00ff9c,#00ff3b,#27ff00,#83ff00,#bdff00,#cdff00,#d3ff00,#d3ff00,#ceff00,#c3ff00,#b4ff00,#a2ff00,#8dff00,#75ff00,#5aff00,#29ff00,#00ff16,#00ff52,#00ff89 1285.5px)"></i><i style="top:864px;height:2px;background:linear-gradient(90deg,#008eff 1.5px,#00faff,#00ff9c,#00ff3b,#27ff00,#83ff00,#bcff00,#ccff00,#d3ff00,#d3ff00,#cdff00,#c2ff00,#b3ff00,#a1ff00,#8cff00,#74ff00,#59ff00,#28ff00,#00ff16,#00ff53,#00ff89 1285.5px)"></i><i style="top:866px;height:2px;background:linear-gradient(90deg,#008eff 1.5px,#00faff,#00ff9c,#00ff3c,#27ff00,#83ff00,#bcff00,#cbff00,#d2ff00,#d2ff00,#cdff00,#c2ff00,#b3ff00,#a0ff00,#8bff00,#73ff00,#58ff00,#28ff00,#00ff17,#00ff53,#00ff8a 1285.5px)"></i><i style="top:868px;height:2px;background:linear-gradient(90deg,#008eff 1.5px,#00faff,#00ff9c,#00ff3c,#27ff00,#83ff00,#bbff00,#caff00,#d1ff00,#d1ff00,#ccff00,#c1ff00,#b2ff00,#a0ff00,#8aff00,#72ff00,#58ff00,#27ff00,#00ff17,#00ff54,#00ff8a 1285.5px)"></i><i style="top:870px;height:2px;background:linear-gradient(90deg,#008dff 1.5px,#00faff,#00ff9c,#00ff3c,#27ff00,#83ff00,#baff00,#caff00,#d0ff00,#d0ff00,#cbff00,#c0ff00,#b1ff00,#9fff00,#8aff00,#71ff00,#57ff00,#27ff00,#00ff17,#00ff54,#00ff8b 1285.5px)"></i><i style="top:872px;height:2px;background:linear-gradient(90deg,#008dff 1.5px,#00faff,#00ff9c,#00ff3c,#28ff00,#83ff00,#b9ff00,#c9ff00,#d0ff00,#d0ff00,#caff00,#bfff00,#b0ff00,#9eff00,#89ff00,#70ff00,#56ff00,#26ff00,#00ff18,#00ff54,#00ff8b 1285.5px)"></i><i style="top:874px;height:2px;background:linear-gradient(90deg,#008dff 1.5px,#00faff,#00ff9c,#00ff3c,#28ff00,#83ff00,#b9ff00,#c9ff00,#cfff00,#cfff00,#caff00,#bfff00,#b0ff00,#9dff00,#88ff00,#70ff00,#55ff00,#26ff00,#00ff18,#00ff55,#00ff8c 1285.5px)"></i><i style="top:876px;height:2px;background:linear-gradient(90deg,#008dff 1.5px,#00faff,#00ff9c,#00ff3c,#28ff00,#83ff00,#b9ff00,#c8ff00,#ceff00,#ceff00,#c9ff00,#beff00,#afff00,#9dff00,#87ff00,#6fff00,#54ff00,#25ff00,#00ff18,#00ff56,#00ff8c 1285.5px)"></i><i style="top:878px;height:2px;background:linear-gradient(90deg,#008dff 1.5px,#00faff,#00ff9c,#00ff3c,#28ff00,#83ff00,#b8ff00,#c8ff00,#ceff00,#ceff00,#c8ff00,#bdff00,#aeff00,#9cff00,#86ff00,#6eff00,#53ff00,#25ff00,#00ff19,#00ff56,#00ff8d 1285.5px)"></i><i style="top:880px;height:2px;background:linear-gradient(90deg,#008dff 1.5px,#00faff,#00ff9c,#00ff3c,#28ff00,#83ff00,#b8ff00,#c7ff00,#cdff00,#cdff00,#c8ff00,#bcff00,#adff00,#9bff00,#85ff00,#6dff00,#52ff00,#24ff00,#00ff19,#00ff57,#00ff8e 1285.5px)"></i><i style="top:882px;height:2px;background:linear-gradient(90deg,#008cff 1.5px,#00f9ff,#00ff9c,#00ff3b,#28ff00,#83ff00,#b8ff00,#c7ff00,#cdff00,#ccff00,#c7ff00,#bcff00,#adff00,#9aff00,#85ff00,#6cff00,#51ff00,#23ff00,#00ff1a,#00ff57,#00ff8e 1285.5px)"></i><i style="top:884px;height:2px;background:linear-gradient(90deg,#008cff 1.5px,#00f9ff,#00ff9c,#00ff3b,#28ff00,#83ff00,#b7ff00,#c6ff00,#ccff00,#ccff00,#c6ff00,#bbff00,#acff00,#99ff00,#84ff00,#6bff00,#50ff00,#23ff00,#00ff1a,#00ff58,#00ff8f 1285.5px)"></i><i style="top:886px;height:2px;background:linear-gradient(90deg,#008cff 1.5px,#00f9ff,#00ff9c,#00ff3b,#28ff00,#83ff00,#b7ff00,#c6ff00,#cbff00,#cbff00,#c5ff00,#baff00,#abff00,#99ff00,#83ff00,#6aff00,#4fff00,#22ff00,#00ff1a,#00ff58,#00ff8f 1285.5px)"></i><i style="top:888px;height:2px;background:linear-gradient(90deg,#008cff 1.5px,#00f9ff,#00ff9c,#00ff3b,#28ff00,#83ff00,#b7ff00,#c6ff00,#cbff00,#caff00,#c5ff00,#baff00,#abff00,#98ff00,#82ff00,#69ff00,#4eff00,#22ff00,#00ff1b,#00ff59,#00ff90 1285.5px)"></i><i style="top:890px;height:2px;background:linear-gradient(90deg,#008cff 1.5px,#00f9ff,#00ff9c,#00ff3b,#28ff00,#83ff00,#b6ff00,#c5ff00,#caff00,#caff00,#c4ff00,#b9ff00,#aaff00,#97ff00,#81ff00,#68ff00,#4eff00,#21ff00,#00ff1b,#00ff59,#00ff91 1285.5px)"></i><i style="top:892px;height:2px;background:linear-gradient(90deg,#008cff 1.5px,#00f9ff,#00ff9c,#00ff3b,#28ff00,#83ff00,#b6ff00,#c5ff00,#caff00,#c9ff00,#c3ff00,#b8ff00,#a9ff00,#96ff00,#80ff00,#68ff00,#4dff00,#21ff00,#00ff1b,#00ff5a,#00ff91 1285.5px)"></i><i style="top:894px;height:2px;background:linear-gradient(90deg,#008bff 1.5px,#00f9ff,#00ff9c,#00ff3b,#28ff00,#83ff00,#b6ff00,#c4ff00,#c9ff00,#c8ff00,#c3ff00,#b7ff00,#a8ff00,#96ff00,#80ff00,#67ff00,#4cff00,#20ff00,#00ff1c,#00ff5a,#00ff92 1285.5px)"></i><i style="top:896px;height:2px;background:linear-gradient(90deg,#008bff 1.5px,#00f9ff,#00ff9c,#00ff3b,#28ff00,#83ff00,#b5ff00,#c4ff00,#c8ff00,#c8ff00,#c2ff00,#b7ff00,#a8ff00,#95ff00,#7fff00,#66ff00,#4bff00,#20ff00,#00ff1c,#00ff5b,#00ff92 1285.5px)"></i><i style="top:898px;height:2px;background:linear-gradient(90deg,#008bff 1.5px,#00f9ff,#00ff9c,#00ff3b,#28ff00,#83ff00,#b5ff00,#c4ff00,#c8ff00,#c7ff00,#c1ff00,#b6ff00,#a7ff00,#94ff00,#7eff00,#65ff00,#4aff00,#1fff00,#00ff1c,#00ff5b,#00ff93 1285.5px)"></i><i style="top:900px;height:2px;background:linear-gradient(90deg,#008bff 1.5px,#00f8ff,#00ff9c,#00ff3b,#28ff00,#82ff00,#b5ff00,#c3ff00,#c7ff00,#c6ff00,#c0ff00,#b5ff00,#a6ff00,#93ff00,#7dff00,#64ff00,#49ff00,#1eff00,#00ff1d,#00ff5c,#00ff94 1285.5px)"></i><i style="top:902px;height:2px;background:linear-gradient(90deg,#008bff 1.5px,#00f8ff,#00ff9c,#00ff3b,#28ff00,#82ff00,#b4ff00,#c3ff00,#c7ff00,#c6ff00,#c0ff00,#b5ff00,#a5ff00,#93ff00,#7cff00,#63ff00,#48ff00,#1eff00,#00ff1d,#00ff5c,#00ff94 1285.5px)"></i><i style="top:904px;height:2px;background:linear-gradient(90deg,#008bff 1.5px,#00f8ff,#00ff9c,#00ff3b,#28ff00,#82ff00,#b4ff00,#c2ff00,#c6ff00,#c5ff00,#bfff00,#b4ff00,#a5ff00,#92ff00,#7bff00,#62ff00,#47ff00,#1dff00,#00ff1e,#00ff5d,#00ff95 1285.5px)"></i><i style="top:906px;height:2px;background:linear-gradient(90deg,#008aff 1.5px,#00f8ff,#00ff9c,#00ff3b,#28ff00,#82ff00,#b4ff00,#c2ff00,#c6ff00,#c4ff00,#beff00,#b3ff00,#a4ff00,#91ff00,#7bff00,#61ff00,#46ff00,#1dff00,#00ff1e,#00ff5d,#00ff95 1285.5px)"></i><i style="top:908px;height:2px;background:linear-gradient(90deg,#008aff 1.5px,#00f8ff,#00ff9c,#00ff3b,#28ff00,#82ff00,#b3ff00,#c2ff00,#c5ff00,#c4ff00,#beff00,#b2ff00,#a3ff00,#90ff00,#7aff00,#61ff00,#45ff00,#1cff00,#00ff1e,#00ff5e,#00ff96 1285.5px)"></i><i style="top:910px;height:2px;background:linear-gradient(90deg,#008aff 1.5px,#00f8ff,#00ff9d,#00ff3b,#28ff00,#82ff00,#b3ff00,#c1ff00,#c4ff00,#c3ff00,#bdff00,#b2ff00,#a2ff00,#8fff00,#79ff00,#60ff00,#44ff00,#1cff00,#00ff1f,#00ff5e,#00ff96 1285.5px)"></i><i style="top:912px;height:2px;background:linear-gradient(90deg,#008aff 1.5px,#00f8ff,#00ff9d,#00ff3b,#28ff00,#82ff00,#b3ff00,#c1ff00,#c4ff00,#c2ff00,#bcff00,#b1ff00,#a2ff00,#8fff00,#78ff00,#5fff00,#44ff00,#1bff00,#00ff1f,#00ff5f,#00ff97 1285.5px)"></i><i style="top:914px;height:2px;background:linear-gradient(90deg,#008aff 1.5px,#00f8ff,#00ff9d,#00ff3b,#28ff00,#82ff00,#b2ff00,#c0ff00,#c3ff00,#c2ff00,#bcff00,#b0ff00,#a1ff00,#8eff00,#77ff00,#5eff00,#43ff00,#1bff00,#00ff1f,#00ff5f,#00ff98 1285.5px)"></i><i style="top:916px;height:2px;background:linear-gradient(90deg,#008aff 1.5px,#00f8ff,#00ff9d,#00ff3b,#28ff00,#82ff00,#b2ff00,#c0ff00,#c3ff00,#c1ff00,#bbff00,#b0ff00,#a0ff00,#8dff00,#76ff00,#5dff00,#42ff00,#1aff00,#00ff20,#00ff60,#00ff98 1285.5px)"></i><i style="top:918px;height:2px;background:linear-gradient(90deg,#0089ff 1.5px,#00f8ff,#00ff9d,#00ff3b,#28ff00,#82ff00,#b2ff00,#bfff00,#c2ff00,#c0ff00,#baff00,#afff00,#a0ff00,#8cff00,#76ff00,#5cff00,#41ff00,#19ff00,#00ff20,#00ff60,#00ff99 1285.5px)"></i><i style="top:920px;height:2px;background:linear-gradient(90deg,#0089ff 1.5px,#00f7ff,#00ff9d,#00ff3b,#28ff00,#82ff00,#b1ff00,#bfff00,#c1ff00,#c0ff00,#b9ff00,#aeff00,#9fff00,#8cff00,#75ff00,#5bff00,#40ff00,#19ff00,#00ff21,#00ff61,#00ff99 1285.5px)"></i><i style="top:922px;height:2px;background:linear-gradient(90deg,#0089ff 1.5px,#00f7ff,#00ff9d,#00ff3b,#28ff00,#82ff00,#b1ff00,#bfff00,#c1ff00,#bfff00,#b9ff00,#adff00,#9eff00,#8bff00,#74ff00,#5aff00,#3fff00,#18ff00,#00ff21,#00ff61,#00ff9a 1285.5px)"></i><i style="top:924px;height:2px;background:linear-gradient(90deg,#0089ff 1.5px,#00f7ff,#00ff9d,#00ff3b,#28ff00,#82ff00,#b1ff00,#beff00,#c0ff00,#beff00,#b8ff00,#adff00,#9dff00,#8aff00,#73ff00,#5aff00,#3eff00,#18ff00,#00ff21,#00ff62,#00ff9b 1285.5px)"></i><i style="top:926px;height:2px;background:linear-gradient(90deg,#0089ff 1.5px,#00f7ff,#00ff9d,#00ff3b,#28ff00,#82ff00,#b0ff00,#beff00,#c0ff00,#beff00,#b7ff00,#acff00,#9dff00,#89ff00,#72ff00,#59ff00,#3dff00,#17ff00,#00ff22,#00ff62,#00ff9b 1285.5px)"></i><i style="top:928px;height:2px;background:linear-gradient(90deg,#0089ff 1.5px,#00f7ff,#00ff9d,#00ff3b,#28ff00,#82ff00,#b0ff00,#bdff00,#bfff00,#bdff00,#b7ff00,#abff00,#9cff00,#89ff00,#71ff00,#58ff00,#3cff00,#17ff00,#00ff22,#00ff63,#00ff9c 1285.5px)"></i><i style="top:930px;height:2px;background:linear-gradient(90deg,#0088ff 1.5px,#00f7ff,#00ff9d,#00ff3b,#28ff00,#82ff00,#b0ff00,#bdff00,#bfff00,#bcff00,#b6ff00,#abff00,#9bff00,#88ff00,#71ff00,#57ff00,#3bff00,#16ff00,#00ff22,#00ff64,#00ff9c 1285.5px)"></i><i style="top:932px;height:2px;background:linear-gradient(90deg,#0088ff 1.5px,#00f7ff,#00ff9d,#00ff3b,#28ff00,#82ff00,#afff00,#bdff00,#beff00,#bcff00,#b5ff00,#aaff00,#9aff00,#87ff00,#70ff00,#56ff00,#3aff00,#15ff00,#00ff23,#00ff64,#00ff9d 1285.5px)"></i><i style="top:934px;height:2px;background:linear-gradient(90deg,#0088ff 1.5px,#00f7ff,#00ff9d,#00ff3b,#28ff00,#82ff00,#afff00,#bcff00,#bdff00,#bbff00,#b4ff00,#a9ff00,#9aff00,#86ff00,#6fff00,#55ff00,#3aff00,#15ff00,#00ff23,#00ff65,#00ff9e 1285.5px)"></i><i style="top:936px;height:2px;background:linear-gradient(90deg,#0088ff 1.5px,#00f6ff,#00ff9d,#00ff3b,#28ff00,#82ff00,#afff00,#bcff00,#bdff00,#baff00,#b4ff00,#a8ff00,#99ff00,#85ff00,#6eff00,#54ff00,#39ff00,#14ff00,#00ff24,#00ff65,#00ff9e 1285.5px)"></i><i style="top:938px;height:2px;background:linear-gradient(90deg,#0088ff 1.5px,#00f6ff,#00ff9d,#00ff3b,#28ff00,#82ff00,#aeff00,#bbff00,#bcff00,#baff00,#b3ff00,#a8ff00,#98ff00,#85ff00,#6dff00,#53ff00,#37ff00,#14ff01,#00ff25,#00ff66,#00ff9f 1285.5px)"></i><i style="top:940px;height:2px;background:linear-gradient(90deg,#0087ff 1.5px,#00f6ff,#00ff9d,#00ff3b,#27ff00,#82ff00,#aeff00,#bbff00,#bcff00,#b9ff00,#b2ff00,#a7ff00,#97ff00,#84ff00,#6cff00,#52ff00,#36ff00,#13ff01,#00ff26,#00ff66,#00ffa0 1285.5px)"></i><i style="top:942px;height:2px;background:linear-gradient(90deg,#0087ff 1.5px,#00f6ff,#00ff9d,#00ff3b,#27ff00,#82ff00,#aeff00,#baff00,#bbff00,#b9ff00,#b2ff00,#a6ff00,#97ff00,#83ff00,#6cff00,#51ff00,#35ff00,#12ff02,#00ff26,#00ff67,#00ffa1 1285.5px)"></i><i style="top:944px;height:2px;background:linear-gradient(90deg,#0087ff 1.5px,#00f5ff,#00ff9d,#00ff3b,#27ff00,#82ff00,#adff00,#baff00,#bbff00,#b8ff00,#b1ff00,#a6ff00,#96ff00,#82ff00,#6bff00,#51ff00,#34ff00,#12ff02,#00ff27,#00ff67,#00ffa1 1285.5px)"></i><i style="top:946px;height:2px;background:linear-gradient(90deg,#0086ff 1.5px,#00f5ff,#00ff9d,#00ff3b,#27ff00,#82ff00,#adff00,#b9ff00,#baff00,#b7ff00,#b0ff00,#a5ff00,#95ff00,#82ff00,#6aff00,#50ff00,#33ff00,#11ff02,#00ff28,#00ff68,#00ffa2 1285.5px)"></i><i style="top:948px;height:2px;background:linear-gradient(90deg,#0086ff 1.5px,#00f5ff,#00ff9d,#00ff3b,#26ff00,#82ff00,#adff00,#b9ff00,#baff00,#b7ff00,#b0ff00,#a4ff00,#94ff00,#81ff00,#69ff00,#4fff00,#32ff00,#10ff03,#00ff29,#00ff69,#00ffa3 1285.5px)"></i><i style="top:950px;height:2px;background:linear-gradient(90deg,#0086ff 1.5px,#00f5ff,#00ff9d,#00ff3b,#26ff00,#82ff00,#acff00,#b9ff00,#b9ff00,#b6ff00,#afff00,#a3ff00,#94ff00,#80ff00,#68ff00,#4eff00,#31ff00,#10ff03,#00ff2a,#00ff69,#00ffa3 1285.5px)"></i><i style="top:952px;height:2px;background:linear-gradient(90deg,#0086ff 1.5px,#00f5ff,#00ff9d,#00ff3b,#26ff00,#82ff00,#acff00,#b8ff00,#b9ff00,#b5ff00,#aeff00,#a3ff00,#93ff00,#7fff00,#67ff00,#4dff00,#30ff00,#0fff03,#00ff2a,#00ff6a,#00ffa4 1285.5px)"></i><i style="top:954px;height:2px;background:linear-gradient(90deg,#0085ff 1.5px,#00f4ff,#00ff9d,#00ff3b,#26ff00,#82ff00,#acff00,#b8ff00,#b8ff00,#b5ff00,#aeff00,#a2ff00,#92ff00,#7eff00,#67ff00,#4cff00,#2fff00,#0eff04,#00ff2b,#00ff6a,#00ffa5 1285.5px)"></i><i style="top:956px;height:2px;background:linear-gradient(90deg,#0085ff 1.5px,#00f4ff,#00ff9d,#00ff3b,#25ff00,#82ff00,#abff00,#b7ff00,#b8ff00,#b4ff00,#adff00,#a1ff00,#91ff00,#7eff00,#66ff00,#4bff00,#2eff00,#0eff04,#00ff2c,#00ff6b,#00ffa6 1285.5px)"></i><i style="top:958px;height:2px;background:linear-gradient(90deg,#0085ff 1.5px,#00f4ff,#00ff9d,#00ff3b,#25ff00,#82ff00,#abff00,#b7ff00,#b7ff00,#b4ff00,#acff00,#a0ff00,#91ff00,#7dff00,#65ff00,#4aff00,#2dff00,#0dff05,#00ff2d,#00ff6b,#00ffa6 1285.5px)"></i><i style="top:960px;height:2px;background:linear-gradient(90deg,#0084ff 1.5px,#00f4ff,#00ff9d,#00ff3b,#25ff00,#82ff00,#abff00,#b6ff00,#b6ff00,#b3ff00,#acff00,#a0ff00,#90ff00,#7cff00,#64ff00,#49ff00,#2cff00,#0cff05,#00ff2e,#00ff6c,#00ffa7 1285.5px)"></i><i style="top:962px;height:2px;background:linear-gradient(90deg,#0084ff 1.5px,#00f3ff,#00ff9d,#00ff3b,#25ff00,#82ff00,#aaff00,#b6ff00,#b6ff00,#b2ff00,#abff00,#9fff00,#8fff00,#7bff00,#63ff00,#48ff00,#2bff00,#0bff05,#00ff2f,#00ff6d,#00ffa8 1285.5px)"></i><i style="top:964px;height:2px;background:linear-gradient(90deg,#0084ff 1.5px,#00f3ff,#00ff9d,#00ff3b,#25ff00,#82ff00,#aaff00,#b5ff00,#b5ff00,#b2ff00,#aaff00,#9eff00,#8eff00,#7aff00,#62ff00,#47ff00,#2aff00,#0bff06,#00ff2f,#00ff6d,#00ffa8 1285.5px)"></i><i style="top:966px;height:2px;background:linear-gradient(90deg,#0084ff 1.5px,#00f3ff,#00ff9d,#00ff3b,#24ff00,#82ff00,#aaff00,#b5ff00,#b5ff00,#b1ff00,#aaff00,#9eff00,#8eff00,#7aff00,#61ff00,#46ff00,#28ff00,#0aff06,#00ff30,#00ff6e,#00ffa9 1285.5px)"></i><i style="top:968px;height:2px;background:linear-gradient(90deg,#0083ff 1.5px,#00f3ff,#00ff9d,#00ff3b,#24ff00,#82ff00,#a9ff00,#b4ff00,#b4ff00,#b0ff00,#a9ff00,#9dff00,#8dff00,#79ff00,#61ff00,#46ff00,#27ff00,#09ff07,#00ff31,#00ff6e,#00ffaa 1285.5px)"></i><i style="top:970px;height:2px;background:linear-gradient(90deg,#0083ff 1.5px,#00f2ff,#00ff9d,#00ff3b,#24ff00,#82ff00,#a9ff00,#b4ff00,#b4ff00,#b0ff00,#a8ff00,#9cff00,#8cff00,#78ff00,#60ff00,#45ff00,#26ff00,#09ff07,#00ff32,#00ff6f,#00ffab 1285.5px)"></i><i style="top:972px;height:2px;background:linear-gradient(90deg,#0083ff 1.5px,#00f2ff,#00ff9d,#00ff3b,#24ff00,#82ff00,#a9ff00,#b4ff00,#b3ff00,#afff00,#a7ff00,#9bff00,#8bff00,#77ff00,#5fff00,#44ff00,#25ff00,#08ff07,#00ff33,#00ff70,#00ffab 1285.5px)"></i><i style="top:974px;height:2px;background:linear-gradient(90deg,#0083ff 1.5px,#00f2ff,#00ff9d,#00ff3b,#23ff00,#82ff00,#a8ff00,#b3ff00,#b3ff00,#afff00,#a7ff00,#9bff00,#8bff00,#76ff00,#5eff00,#43ff00,#24ff00,#07ff08,#00ff33,#00ff70,#00ffac 1285.5px)"></i><i style="top:976px;height:2px;background:linear-gradient(90deg,#0082ff 1.5px,#00f2ff,#00ff9d,#00ff3b,#23ff00,#82ff00,#a8ff00,#b3ff00,#b2ff00,#aeff00,#a6ff00,#9aff00,#8aff00,#76ff00,#5dff00,#42ff00,#23ff00,#07ff08,#00ff34,#00ff71,#00ffad 1285.5px)"></i><i style="top:978px;height:2px;background:linear-gradient(90deg,#0082ff 1.5px,#00f1ff,#00ff9d,#00ff3b,#23ff00,#82ff00,#a8ff00,#b2ff00,#b2ff00,#adff00,#a5ff00,#99ff00,#89ff00,#75ff00,#5cff00,#41ff00,#22ff00,#06ff08,#00ff35,#00ff71,#00ffad 1285.5px)"></i><i style="top:980px;height:2px;background:linear-gradient(90deg,#0082ff 1.5px,#00f1ff,#00ff9d,#00ff3b,#23ff00,#82ff00,#a7ff00,#b2ff00,#b1ff00,#adff00,#a5ff00,#99ff00,#89ff00,#74ff00,#5cff00,#40ff00,#21ff00,#05ff09,#00ff36,#00ff72,#00ffae 1285.5px)"></i><i style="top:982px;height:2px;background:linear-gradient(90deg,#0081ff 1.5px,#00f1ff,#00ff9d,#00ff3b,#22ff00,#82ff00,#a7ff00,#b1ff00,#b1ff00,#acff00,#a4ff00,#98ff00,#88ff00,#73ff00,#5bff00,#3fff00,#20ff00,#05ff09,#00ff37,#00ff72,#00ffaf 1285.5px)"></i><i style="top:984px;height:2px;background:linear-gradient(90deg,#0081ff 1.5px,#00f1ff,#00ff9d,#00ff3b,#22ff00,#82ff00,#a7ff00,#b1ff00,#b0ff00,#acff00,#a3ff00,#97ff00,#87ff00,#72ff00,#5aff00,#3eff00,#1fff00,#04ff0a,#00ff37,#00ff73,#00ffb0 1285.5px)"></i><i style="top:986px;height:2px;background:linear-gradient(90deg,#0081ff 1.5px,#00f0ff,#00ff9d,#00ff3b,#22ff00,#82ff00,#a6ff00,#b0ff00,#b0ff00,#abff00,#a3ff00,#96ff00,#86ff00,#72ff00,#59ff00,#3dff00,#1eff00,#03ff0a,#00ff38,#00ff74,#00ffb0 1285.5px)"></i><i style="top:988px;height:2px;background:linear-gradient(90deg,#0081ff 1.5px,#00f0ff,#00ff9d,#00ff3b,#22ff00,#82ff00,#a6ff00,#b0ff00,#afff00,#aaff00,#a2ff00,#96ff00,#86ff00,#71ff00,#58ff00,#3cff00,#1dff00,#03ff0a,#00ff39,#00ff74,#00ffb1 1285.5px)"></i><i style="top:990px;height:2px;background:linear-gradient(90deg,#0080ff 1.5px,#00f0ff,#00ff9d,#00ff3b,#22ff00,#82ff00,#a6ff00,#afff00,#afff00,#aaff00,#a1ff00,#95ff00,#85ff00,#70ff00,#57ff00,#3bff00,#1cff00,#02ff0b,#00ff3a,#00ff75,#00ffb2 1285.5px)"></i><i style="top:992px;height:2px;background:linear-gradient(90deg,#0080ff 1.5px,#00f0ff,#00ff9d,#00ff3b,#21ff00,#82ff00,#a5ff00,#afff00,#aeff00,#a9ff00,#a1ff00,#94ff00,#84ff00,#6fff00,#56ff00,#3aff00,#1bff00,#01ff0b,#00ff3b,#00ff75,#00ffb2 1285.5px)"></i><i style="top:994px;height:2px;background:linear-gradient(90deg,#0080ff 1.5px,#00f0ff,#00ff9d,#00ff3b,#21ff00,#82ff00,#a5ff00,#afff00,#adff00,#a8ff00,#a0ff00,#94ff00,#83ff00,#6fff00,#56ff00,#3aff00,#1aff00,#01ff0c,#00ff3c,#00ff76,#00ffb3 1285.5px)"></i><i style="top:996px;height:2px;background:linear-gradient(90deg,#007fff 1.5px,#00efff,#00ff9d,#00ff3b,#21ff00,#82ff00,#a5ff00,#aeff00,#adff00,#a8ff00,#9fff00,#93ff00,#83ff00,#6eff00,#55ff00,#39ff00,#18ff00,#00ff0c,#00ff3c,#00ff76,#00ffb4 1285.5px)"></i><i style="top:998px;height:2px;background:linear-gradient(90deg,#007fff 1.5px,#00efff,#00ff9d,#00ff3b,#21ff00,#81ff00,#a4ff00,#adff00,#acff00,#a7ff00,#9fff00,#92ff00,#82ff00,#6dff00,#54ff00,#38ff00,#18ff00,#00ff0d,#00ff3d,#00ff77,#00ffb5 1285.5px)"></i><i style="top:1000px;height:2px;background:linear-gradient(90deg,#007fff 1.5px,#00efff,#00ff9e,#00ff3b,#21ff00,#81ff00,#a3ff00,#adff00,#acff00,#a6ff00,#9eff00,#91ff00,#81ff00,#6cff00,#53ff00,#37ff00,#17ff01,#00ff0e,#00ff3f,#00ff78,#00ffb6 1285.5px)"></i><i style="top:1002px;height:2px;background:linear-gradient(90deg,#007fff 1.5px,#00efff,#00ff9e,#00ff3b,#20ff00,#80ff00,#a3ff00,#acff00,#abff00,#a6ff00,#9dff00,#91ff00,#80ff00,#6bff00,#52ff00,#36ff00,#16ff01,#00ff0f,#00ff40,#00ff79,#00ffb8 1285.5px)"></i><i style="top:1004px;height:2px;background:linear-gradient(90deg,#007eff 1.5px,#00efff,#00ff9e,#00ff3b,#20ff00,#7fff00,#a2ff00,#abff00,#aaff00,#a5ff00,#9cff00,#90ff00,#7fff00,#6aff00,#51ff00,#35ff00,#15ff01,#00ff11,#00ff41,#00ff7a,#00ffb9 1285.5px)"></i><i style="top:1006px;height:2px;background:linear-gradient(90deg,#007eff 1.5px,#00efff,#00ff9e,#00ff3b,#20ff00,#7fff00,#a1ff00,#aaff00,#aaff00,#a4ff00,#9cff00,#8fff00,#7fff00,#6aff00,#50ff00,#34ff00,#15ff01,#00ff12,#00ff42,#00ff7b,#00ffba 1285.5px)"></i><i style="top:1008px;height:2px;background:linear-gradient(90deg,#007eff 1.5px,#00eeff,#00ff9e,#00ff3b,#20ff00,#7eff00,#a0ff00,#aaff00,#a9ff00,#a4ff00,#9bff00,#8eff00,#7eff00,#69ff00,#50ff00,#33ff00,#14ff02,#00ff13,#00ff43,#00ff7c,#00ffbb 1285.5px)"></i><i style="top:1010px;height:2px;background:linear-gradient(90deg,#007dff 1.5px,#00eeff,#00ff9e,#00ff3b,#20ff00,#7dff00,#9fff00,#a9ff00,#a8ff00,#a3ff00,#9aff00,#8eff00,#7dff00,#68ff00,#4fff00,#32ff00,#13ff02,#00ff14,#00ff44,#00ff7d,#00ffbc 1285.5px)"></i><i style="top:1012px;height:2px;background:linear-gradient(90deg,#007dff 1.5px,#00eeff,#00ff9e,#00ff3b,#20ff00,#7dff00,#9fff00,#a8ff00,#a8ff00,#a2ff00,#9aff00,#8dff00,#7cff00,#67ff00,#4eff00,#31ff00,#12ff02,#00ff15,#00ff45,#00ff7e,#00ffbe 1285.5px)"></i><i style="top:1014px;height:2px;background:linear-gradient(90deg,#007dff 1.5px,#00eeff,#00ff9e,#00ff3b,#1fff00,#7cff00,#9eff00,#a8ff00,#a7ff00,#a2ff00,#99ff00,#8cff00,#7bff00,#66ff00,#4dff00,#30ff00,#11ff03,#00ff16,#00ff46,#00ff7f,#00ffbf 1285.5px)"></i><i style="top:1016px;height:2px;background:linear-gradient(90deg,#007cff 1.5px,#00eeff,#00ff9f,#00ff3b,#1fff00,#7bff00,#9dff00,#a7ff00,#a6ff00,#a1ff00,#98ff00,#8bff00,#7bff00,#65ff00,#4cff00,#2fff00,#11ff03,#00ff18,#00ff47,#00ff80,#00ffc0 1285.5px)"></i><i style="top:1018px;height:2px;background:linear-gradient(90deg,#007cff 1.5px,#00eeff,#00ff9f,#00ff3b,#1fff00,#7bff00,#9cff00,#a6ff00,#a6ff00,#a0ff00,#98ff00,#8bff00,#7aff00,#65ff00,#4bff00,#2eff00,#10ff03,#00ff19,#00ff49,#00ff81,#00ffc1 1285.5px)"></i><i style="top:1020px;height:2px;background:linear-gradient(90deg,#007cff 1.5px,#00eeff,#00ff9f,#00ff3b,#1fff00,#7aff00,#9cff00,#a5ff00,#a5ff00,#a0ff00,#97ff00,#8aff00,#79ff00,#64ff00,#4aff00,#2dff00,#0fff03,#00ff1a,#00ff4a,#00ff82,#00ffc2 1285.5px)"></i><i style="top:1022px;height:2px;background:linear-gradient(90deg,#007cff 1.5px,#00eeff,#00ff9f,#00ff3b,#1fff00,#79ff00,#9bff00,#a5ff00,#a4ff00,#9fff00,#96ff00,#89ff00,#78ff00,#63ff00,#49ff00,#2cff00,#0eff04,#00ff1b,#00ff4b,#00ff83,#00ffc4 1285.5px)"></i><i style="top:1024px;height:2px;background:linear-gradient(90deg,#007bff 1.5px,#00edff,#00ff9f,#00ff3b,#1eff00,#79ff00,#9aff00,#a4ff00,#a4ff00,#9eff00,#95ff00,#88ff00,#77ff00,#62ff00,#49ff00,#2bff00,#0dff04,#00ff1c,#00ff4c,#00ff84,#00ffc5 1285.5px)"></i><i style="top:1026px;height:2px;background:linear-gradient(90deg,#007bff 1.5px,#00edff,#00ff9f,#00ff3b,#1eff00,#78ff00,#99ff00,#a3ff00,#a3ff00,#9eff00,#95ff00,#88ff00,#77ff00,#61ff00,#48ff00,#2aff00,#0dff04,#00ff1e,#00ff4d,#00ff85,#00ffc6 1285.5px)"></i><i style="top:1028px;height:2px;background:linear-gradient(90deg,#007bff 1.5px,#00edff,#00ff9f,#00ff3b,#1eff00,#77ff00,#99ff00,#a3ff00,#a2ff00,#9dff00,#94ff00,#87ff00,#76ff00,#60ff00,#47ff00,#29ff00,#0cff05,#00ff1f,#00ff4e,#00ff86,#00ffc7 1285.5px)"></i><i style="top:1030px;height:2px;background:linear-gradient(90deg,#007aff 1.5px,#00edff,#00ff9f,#00ff3b,#1eff00,#77ff00,#98ff00,#a2ff00,#a2ff00,#9cff00,#93ff00,#86ff00,#75ff00,#60ff00,#46ff00,#28ff00,#0bff05,#00ff20,#00ff4f,#00ff87,#00ffc8 1285.5px)"></i><i style="top:1032px;height:2px;background:linear-gradient(90deg,#007aff 1.5px,#00edff,#00ff9f,#00ff3b,#1eff00,#76ff00,#97ff00,#a1ff00,#a1ff00,#9cff00,#93ff00,#85ff00,#74ff00,#5fff00,#45ff00,#27ff00,#0aff05,#00ff21,#00ff50,#00ff88,#00ffca 1285.5px)"></i><i style="top:1034px;height:2px;background:linear-gradient(90deg,#007aff 1.5px,#00edff,#00ffa0,#00ff3b,#1eff00,#75ff00,#96ff00,#a0ff00,#a0ff00,#9bff00,#92ff00,#85ff00,#74ff00,#5eff00,#44ff00,#26ff00,#0aff06,#00ff22,#00ff52,#00ff89,#00ffcb 1285.5px)"></i><i style="top:1036px;height:2px;background:linear-gradient(90deg,#0079ff 1.5px,#00edff,#00ffa0,#00ff3b,#1dff00,#75ff00,#96ff00,#a0ff00,#a0ff00,#9aff00,#91ff00,#84ff00,#73ff00,#5dff00,#43ff00,#25ff00,#09ff06,#00ff23,#00ff53,#00ff8a,#00ffcc 1285.5px)"></i><i style="top:1038px;height:2px;background:linear-gradient(90deg,#0079ff 1.5px,#00ecff,#00ffa0,#00ff3b,#1dff00,#74ff00,#95ff00,#9fff00,#9fff00,#9aff00,#91ff00,#83ff00,#72ff00,#5cff00,#42ff00,#24ff00,#08ff06,#00ff25,#00ff54,#00ff8b,#00ffcd 1285.5px)"></i><i style="top:1040px;height:2px;background:linear-gradient(90deg,#0079ff 1.5px,#00ecff,#00ffa0,#00ff3b,#1dff00,#74ff00,#94ff00,#9eff00,#9eff00,#99ff00,#90ff00,#83ff00,#71ff00,#5cff00,#42ff00,#24ff00,#07ff06,#00ff26,#00ff55,#00ff8c,#00ffcf 1285.5px)"></i><i style="top:1042px;height:2px;background:linear-gradient(90deg,#0079ff 1.5px,#00ecff,#00ffa0,#00ff3b,#1dff00,#73ff00,#93ff00,#9eff00,#9eff00,#98ff00,#8fff00,#82ff00,#70ff00,#5bff00,#41ff00,#23ff00,#06ff07,#00ff27,#00ff56,#00ff8d,#00ffd0 1285.5px)"></i><i style="top:1044px;height:2px;background:linear-gradient(90deg,#0078ff 1.5px,#00ecff,#00ffa0,#00ff3b,#1dff00,#72ff00,#92ff00,#9dff00,#9dff00,#98ff00,#8eff00,#81ff00,#70ff00,#5aff00,#40ff00,#22ff00,#06ff07,#00ff28,#00ff57,#00ff8e,#00ffd1 1285.5px)"></i><i style="top:1046px;height:2px;background:linear-gradient(90deg,#0078ff 1.5px,#00ecff,#00ffa0,#00ff3b,#1dff00,#72ff00,#92ff00,#9cff00,#9cff00,#97ff00,#8eff00,#80ff00,#6fff00,#59ff00,#3fff00,#21ff00,#05ff07,#00ff29,#00ff58,#00ff8f,#00ffd2 1285.5px)"></i><i style="top:1048px;height:2px;background:linear-gradient(90deg,#0078ff 1.5px,#00ecff,#00ffa0,#00ff3b,#1cff00,#71ff00,#91ff00,#9bff00,#9cff00,#96ff00,#8dff00,#80ff00,#6eff00,#58ff00,#3eff00,#20ff00,#04ff08,#00ff2a,#00ff59,#00ff90,#00ffd3 1285.5px)"></i><i style="top:1050px;height:2px;background:linear-gradient(90deg,#0077ff 1.5px,#00ecff,#00ffa1,#00ff3b,#1cff00,#70ff00,#90ff00,#9bff00,#9bff00,#96ff00,#8cff00,#7fff00,#6dff00,#57ff00,#3dff00,#1fff00,#03ff08,#00ff2c,#00ff5a,#00ff91,#00ffd5 1285.5px)"></i><i style="top:1052px;height:2px;background:linear-gradient(90deg,#0077ff 1.5px,#00ecff,#00ffa1,#00ff3b,#1cff00,#70ff00,#8fff00,#9aff00,#9aff00,#95ff00,#8cff00,#7eff00,#6cff00,#57ff00,#3cff00,#1eff00,#03ff08,#00ff2d,#00ff5c,#00ff92,#00ffd6 1285.5px)"></i><i style="top:1054px;height:2px;background:linear-gradient(90deg,#0077ff 1.5px,#00ebff,#00ffa1,#00ff3b,#1cff00,#6fff00,#8fff00,#99ff00,#9aff00,#94ff00,#8bff00,#7dff00,#6cff00,#56ff00,#3bff00,#1dff00,#02ff08,#00ff2e,#00ff5d,#00ff93,#00ffd7 1285.5px)"></i><i style="top:1056px;height:2px;background:linear-gradient(90deg,#0076ff 1.5px,#00ebff,#00ffa1,#00ff3b,#1cff00,#6eff00,#8eff00,#98ff00,#99ff00,#94ff00,#8aff00,#7dff00,#6bff00,#55ff00,#3bff00,#1cff00,#01ff09,#00ff2f,#00ff5e,#00ff94,#00ffd8 1285.5px)"></i><i style="top:1058px;height:2px;background:linear-gradient(90deg,#0076ff 1.5px,#00ebff,#00ffa1,#00ff3b,#1cff00,#6eff00,#8dff00,#98ff00,#98ff00,#93ff00,#89ff00,#7cff00,#6aff00,#54ff00,#3aff00,#1bff00,#00ff09,#00ff30,#00ff5f,#00ff95,#00ffd9 1285.5px)"></i><i style="top:1060px;height:2px;background:linear-gradient(90deg,#0076ff 1.5px,#00ebff,#00ffa1,#00ff3b,#1cff00,#6dff00,#8cff00,#97ff00,#98ff00,#92ff00,#89ff00,#7bff00,#69ff00,#53ff00,#39ff00,#1aff00,#00ff0a,#00ff32,#00ff60,#00ff97,#00fedb 1285.5px)"></i><i style="top:1062px;height:2px;background:linear-gradient(90deg,#0075ff 1.5px,#00ebff,#00ffa1,#00ff3b,#1bff00,#6cff00,#8bff00,#96ff00,#97ff00,#92ff00,#88ff00,#7aff00,#68ff00,#52ff00,#38ff00,#19ff00,#00ff0b,#00ff33,#00ff62,#00ff98,#00fddc 1285.5px)"></i><i style="top:1064px;height:2px;background:linear-gradient(90deg,#0074ff 1.5px,#00eaff,#00ffa2,#00ff3b,#1bff00,#6cff00,#8aff00,#95ff00,#96ff00,#91ff00,#87ff00,#7aff00,#68ff00,#52ff00,#37ff00,#18ff01,#00ff0c,#00ff34,#00ff63,#00ff9a,#00fddd 1285.5px)"></i><i style="top:1066px;height:2px;background:linear-gradient(90deg,#0074ff 1.5px,#00eaff,#00ffa2,#00ff3b,#1bff00,#6bff00,#89ff00,#94ff00,#95ff00,#90ff00,#87ff00,#79ff00,#67ff00,#51ff00,#36ff00,#17ff01,#00ff0d,#00ff36,#00ff64,#00ff9b,#00fcde 1285.5px)"></i><i style="top:1068px;height:2px;background:linear-gradient(90deg,#0073ff 1.5px,#00eaff,#00ffa2,#00ff3b,#1bff00,#6aff00,#88ff00,#93ff00,#95ff00,#90ff00,#86ff00,#78ff00,#66ff00,#50ff00,#35ff00,#17ff01,#00ff0e,#00ff37,#00ff66,#00ff9d,#00fbdf 1285.5px)"></i><i style="top:1070px;height:2px;background:linear-gradient(90deg,#0072ff 1.5px,#00eaff,#00ffa2,#00ff3b,#1bff00,#6aff00,#87ff00,#93ff00,#94ff00,#8fff00,#85ff00,#77ff00,#65ff00,#4fff00,#34ff00,#16ff01,#00ff10,#00ff38,#00ff67,#00ff9f,#00fae1 1285.5px)"></i><i style="top:1072px;height:2px;background:linear-gradient(90deg,#0072ff 1.5px,#00eaff,#00ffa2,#00ff3b,#1bff00,#69ff00,#87ff00,#92ff00,#93ff00,#8eff00,#84ff00,#76ff00,#64ff00,#4eff00,#33ff00,#15ff01,#00ff11,#00ff39,#00ff68,#00ffa0,#00f9e2 1285.5px)"></i><i style="top:1074px;height:2px;background:linear-gradient(90deg,#0071ff 1.5px,#00e9ff,#00ffa2,#00ff3b,#1bff00,#68ff00,#86ff00,#91ff00,#92ff00,#8dff00,#84ff00,#76ff00,#64ff00,#4dff00,#32ff00,#14ff02,#00ff12,#00ff3b,#00ff6a,#00ffa2,#00f8e3 1285.5px)"></i><i style="top:1076px;height:2px;background:linear-gradient(90deg,#0071ff 1.5px,#00e9ff,#00ffa3,#00ff3c,#1bff00,#68ff00,#85ff00,#90ff00,#91ff00,#8dff00,#83ff00,#75ff00,#63ff00,#4cff00,#31ff00,#13ff02,#00ff13,#00ff3c,#00ff6b,#00ffa3,#00f8e4 1285.5px)"></i><i style="top:1078px;height:2px;background:linear-gradient(90deg,#0070ff 1.5px,#00e9ff,#00ffa3,#00ff3c,#1bff00,#67ff00,#84ff00,#8fff00,#91ff00,#8cff00,#82ff00,#74ff00,#62ff00,#4cff00,#30ff00,#12ff02,#00ff14,#00ff3d,#00ff6c,#00ffa5,#00f7e5 1285.5px)"></i><i style="top:1080px;height:2px;background:linear-gradient(90deg,#006fff 1.5px,#00e9ff,#00ffa3,#00ff3c,#1bff00,#67ff00,#83ff00,#8eff00,#90ff00,#8bff00,#81ff00,#73ff00,#61ff00,#4bff00,#2fff00,#11ff02,#00ff15,#00ff3f,#00ff6e,#00ffa6,#00f6e7 1285.5px)"></i><i style="top:1082px;height:2px;background:linear-gradient(90deg,#006fff 1.5px,#00e8ff,#00ffa3,#00ff3c,#1bff00,#66ff00,#82ff00,#8dff00,#8fff00,#8aff00,#81ff00,#73ff00,#60ff00,#4aff00,#2eff00,#11ff02,#00ff16,#00ff40,#00ff6f,#00ffa8,#00f5e8 1285.5px)"></i><i style="top:1084px;height:2px;background:linear-gradient(90deg,#006eff 1.5px,#00e8ff,#00ffa3,#00ff3c,#1aff00,#65ff00,#81ff00,#8cff00,#8eff00,#8aff00,#80ff00,#72ff00,#60ff00,#49ff00,#2eff00,#10ff02,#00ff17,#00ff41,#00ff70,#00ffa9,#00f4e9 1285.5px)"></i><i style="top:1086px;height:2px;background:linear-gradient(90deg,#006eff 1.5px,#00e8ff,#00ffa3,#00ff3c,#1aff00,#65ff00,#80ff00,#8cff00,#8eff00,#89ff00,#7fff00,#71ff00,#5fff00,#48ff00,#2dff00,#0fff03,#00ff19,#00ff43,#00ff72,#00ffab,#00f3ea 1285.5px)"></i><i style="top:1088px;height:2px;background:linear-gradient(90deg,#006dff 1.5px,#00e8ff,#00ffa4,#00ff3c,#1aff00,#64ff00,#7fff00,#8bff00,#8dff00,#88ff00,#7eff00,#70ff00,#5eff00,#47ff00,#2cff00,#0eff03,#00ff1a,#00ff44,#00ff73,#00ffac,#00f3eb 1285.5px)"></i><i style="top:1090px;height:2px;background:linear-gradient(90deg,#006cff 1.5px,#00e7ff,#00ffa4,#00ff3c,#1aff00,#63ff00,#7eff00,#8aff00,#8cff00,#88ff00,#7eff00,#70ff00,#5dff00,#46ff00,#2bff00,#0dff03,#00ff1b,#00ff45,#00ff74,#00ffae,#00f2ed 1285.5px)"></i><i style="top:1092px;height:2px;background:linear-gradient(90deg,#006cff 1.5px,#00e7ff,#00ffa4,#00ff3c,#1aff00,#63ff00,#7dff00,#89ff00,#8bff00,#87ff00,#7dff00,#6fff00,#5cff00,#46ff00,#2aff00,#0cff03,#00ff1c,#00ff46,#00ff76,#00ffaf,#00f1ee 1285.5px)"></i><i style="top:1094px;height:2px;background:linear-gradient(90deg,#006bff 1.5px,#00e7ff,#00ffa4,#00ff3d,#1aff00,#62ff00,#7cff00,#88ff00,#8bff00,#86ff00,#7cff00,#6eff00,#5cff00,#45ff00,#29ff00,#0bff03,#00ff1d,#00ff48,#00ff77,#00ffb1,#00f0ef 1285.5px)"></i><i style="top:1096px;height:2px;background:linear-gradient(90deg,#006bff 1.5px,#00e7ff,#00ffa4,#00ff3d,#1aff00,#61ff00,#7bff00,#87ff00,#8aff00,#85ff00,#7cff00,#6dff00,#5bff00,#44ff00,#28ff00,#0bff04,#00ff1e,#00ff49,#00ff78,#00ffb2,#00eff0 1285.5px)"></i><i style="top:1098px;height:2px;background:linear-gradient(90deg,#006aff 1.5px,#00e6ff,#00ffa4,#00ff3d,#1aff00,#61ff00,#7aff00,#86ff00,#89ff00,#85ff00,#7bff00,#6dff00,#5aff00,#43ff00,#27ff00,#0aff04,#00ff1f,#00ff4a,#00ff7a,#00ffb4,#00eef1 1285.5px)"></i><i style="top:1100px;height:2px;background:linear-gradient(90deg,#0069ff 1.5px,#00e6ff,#00ffa5,#00ff3d,#1aff00,#60ff00,#79ff00,#86ff00,#88ff00,#84ff00,#7aff00,#6cff00,#59ff00,#42ff00,#26ff00,#09ff04,#00ff20,#00ff4c,#00ff7b,#00ffb5,#00eef3 1285.5px)"></i><i style="top:1102px;height:2px;background:linear-gradient(90deg,#0069ff 1.5px,#00e6ff,#00ffa5,#00ff3d,#1aff00,#5fff00,#78ff00,#85ff00,#87ff00,#83ff00,#79ff00,#6bff00,#58ff00,#41ff00,#25ff00,#08ff04,#00ff22,#00ff4d,#00ff7c,#00ffb7,#00edf4 1285.5px)"></i><i style="top:1104px;height:2px;background:linear-gradient(90deg,#0068ff 1.5px,#00e6ff,#00ffa5,#00ff3d,#19ff00,#5fff00,#77ff00,#84ff00,#87ff00,#83ff00,#79ff00,#6aff00,#58ff00,#40ff00,#24ff00,#07ff04,#00ff23,#00ff4e,#00ff7e,#00ffb8,#00ecf5 1285.5px)"></i><i style="top:1106px;height:2px;background:linear-gradient(90deg,#0067ff 1.5px,#00e5ff,#00ffa5,#00ff3d,#19ff00,#5eff00,#77ff00,#83ff00,#86ff00,#82ff00,#78ff00,#69ff00,#57ff00,#40ff00,#23ff00,#06ff05,#00ff24,#00ff50,#00ff7f,#00ffba,#00ebf6 1285.5px)"></i><i style="top:1108px;height:2px;background:linear-gradient(90deg,#0067ff 1.5px,#00e5ff,#00ffa5,#00ff3d,#19ff00,#5dff00,#76ff00,#82ff00,#85ff00,#81ff00,#77ff00,#69ff00,#56ff00,#3fff00,#22ff00,#05ff05,#00ff25,#00ff51,#00ff80,#00ffbb,#00eaf7 1285.5px)"></i><i style="top:1110px;height:2px;background:linear-gradient(90deg,#0066ff 1.5px,#00e5ff,#00ffa5,#00ff3d,#19ff00,#5dff00,#75ff00,#81ff00,#84ff00,#80ff00,#76ff00,#68ff00,#55ff00,#3eff00,#21ff00,#05ff05,#00ff26,#00ff52,#00ff82,#00ffbd,#00e9f9 1285.5px)"></i><i style="top:1112px;height:2px;background:linear-gradient(90deg,#0066ff 1.5px,#00e5ff,#00ffa6,#00ff3d,#19ff00,#5cff00,#74ff00,#80ff00,#84ff00,#80ff00,#76ff00,#67ff00,#54ff00,#3dff00,#20ff00,#04ff05,#00ff27,#00ff53,#00ff83,#00ffbf,#00e8fa 1285.5px)"></i><i style="top:1114px;height:2px;background:linear-gradient(90deg,#0065ff 1.5px,#00e5ff,#00ffa6,#00ff3e,#19ff00,#5bff00,#73ff00,#7fff00,#83ff00,#7fff00,#75ff00,#66ff00,#54ff00,#3cff00,#20ff00,#03ff05,#00ff28,#00ff55,#00ff84,#00ffc0,#00e8fb 1285.5px)"></i><i style="top:1116px;height:2px;background:linear-gradient(90deg,#0064ff 1.5px,#00e4ff,#00ffa6,#00ff3e,#19ff00,#5bff00,#72ff00,#7fff00,#82ff00,#7eff00,#74ff00,#66ff00,#53ff00,#3bff00,#1fff00,#02ff06,#00ff29,#00ff56,#00ff86,#00ffc2,#00e7fc 1285.5px)"></i><i style="top:1118px;height:2px;background:linear-gradient(90deg,#0064ff 1.5px,#00e4ff,#00ffa6,#00ff3e,#19ff00,#5aff00,#71ff00,#7eff00,#81ff00,#7dff00,#73ff00,#65ff00,#52ff00,#3aff00,#1eff00,#01ff06,#00ff2b,#00ff57,#00ff87,#00ffc3,#00e6fd 1285.5px)"></i><i style="top:1120px;height:2px;background:linear-gradient(90deg,#0063ff 1.5px,#00e4ff,#00ffa6,#00ff3e,#19ff00,#59ff00,#70ff00,#7dff00,#81ff00,#7dff00,#73ff00,#64ff00,#51ff00,#3aff00,#1dff00,#00ff06,#00ff2c,#00ff59,#00ff88,#00ffc5,#00e5ff 1285.5px)"></i><i style="top:1122px;height:2px;background:linear-gradient(90deg,#0062ff 1.5px,#00e4ff,#00ffa6,#00ff3e,#19ff00,#59ff00,#6fff00,#7cff00,#80ff00,#7cff00,#72ff00,#63ff00,#50ff00,#39ff00,#1cff00,#00ff07,#00ff2d,#00ff5a,#00ff8a,#00ffc6,#00e3ff 1285.5px)"></i><i style="top:1124px;height:2px;background:linear-gradient(90deg,#0061ff 1.5px,#00e3ff,#00ffa7,#00ff3e,#19ff00,#58ff00,#6eff00,#7bff00,#7fff00,#7bff00,#71ff00,#63ff00,#4fff00,#38ff00,#1bff00,#00ff08,#00ff2e,#00ff5b,#00ff8b,#00ffc8,#00dfff 1285.5px)"></i><i style="top:1126px;height:2px;background:linear-gradient(90deg,#0060ff 1.5px,#00e3ff,#00ffa7,#00ff3e,#18ff00,#58ff00,#6eff00,#7bff00,#7eff00,#7bff00,#70ff00,#62ff00,#4fff00,#37ff00,#1aff00,#00ff09,#00ff2f,#00ff5d,#00ff8d,#00ffca,#00dcff 1285.5px)"></i><i style="top:1128px;height:2px;background:linear-gradient(90deg,#005fff 1.5px,#00e3ff,#00ffa7,#00ff3e,#18ff00,#57ff00,#6dff00,#7aff00,#7eff00,#7aff00,#70ff00,#61ff00,#4eff00,#36ff00,#19ff00,#00ff0a,#00ff30,#00ff5e,#00ff8e,#00ffcc,#00d9ff 1285.5px)"></i><i style="top:1130px;height:2px;background:linear-gradient(90deg,#005eff 1.5px,#00e2ff,#00ffa7,#00ff3f,#18ff00,#57ff00,#6cff00,#79ff00,#7dff00,#79ff00,#6fff00,#60ff00,#4dff00,#35ff00,#18ff00,#00ff0b,#00ff32,#00ff5f,#00ff90,#00ffce,#00d6ff 1285.5px)"></i><i style="top:1132px;height:2px;background:linear-gradient(90deg,#005dff 1.5px,#00e2ff,#00ffa7,#00ff3f,#18ff00,#56ff00,#6cff00,#79ff00,#7cff00,#78ff00,#6eff00,#5fff00,#4cff00,#34ff00,#17ff01,#00ff0c,#00ff33,#00ff61,#00ff92,#00ffd0,#00d2ff 1285.5px)"></i><i style="top:1134px;height:2px;background:linear-gradient(90deg,#005cff 1.5px,#00e2ff,#00ffa8,#00ff3f,#18ff00,#56ff00,#6bff00,#78ff00,#7bff00,#78ff00,#6dff00,#5fff00,#4bff00,#33ff00,#16ff01,#00ff0d,#00ff34,#00ff62,#00ff93,#00fed2,#00cfff 1285.5px)"></i><i style="top:1136px;height:2px;background:linear-gradient(90deg,#005bff 1.5px,#00e1ff,#00ffa8,#00ff3f,#18ff00,#55ff00,#6aff00,#77ff00,#7bff00,#77ff00,#6dff00,#5eff00,#4aff00,#32ff00,#15ff01,#00ff0e,#00ff35,#00ff63,#00ff95,#00fed3,#00ccff 1285.5px)"></i><i style="top:1138px;height:2px;background:linear-gradient(90deg,#005aff 1.5px,#00e1ff,#00ffa8,#00ff3f,#18ff00,#55ff00,#6aff00,#76ff00,#7aff00,#76ff00,#6cff00,#5dff00,#4aff00,#31ff00,#14ff01,#00ff0f,#00ff36,#00ff65,#00ff96,#00fed5,#00c8ff 1285.5px)"></i><i style="top:1140px;height:2px;background:linear-gradient(90deg,#0058ff 1.5px,#00e1ff,#00ffa8,#00ff3f,#18ff00,#54ff00,#69ff00,#76ff00,#79ff00,#75ff00,#6bff00,#5cff00,#49ff00,#31ff00,#14ff01,#00ff10,#00ff38,#00ff66,#00ff98,#00fed7,#00c5ff 1285.5px)"></i><i style="top:1142px;height:2px;background:linear-gradient(90deg,#0057ff 1.5px,#00e1ff,#00ffa8,#00ff40,#18ff00,#53ff00,#68ff00,#75ff00,#78ff00,#75ff00,#6aff00,#5cff00,#48ff00,#30ff00,#13ff01,#00ff11,#00ff39,#00ff67,#00ff99,#00fed9,#00c2ff 1285.5px)"></i><i style="top:1144px;height:2px;background:linear-gradient(90deg,#0056ff 1.5px,#00e0ff,#00ffa8,#00ff40,#18ff00,#53ff00,#68ff00,#74ff00,#78ff00,#74ff00,#6aff00,#5bff00,#47ff00,#2fff00,#12ff01,#00ff12,#00ff3a,#00ff69,#00ff9b,#00fedb,#00bfff 1285.5px)"></i><i style="top:1146px;height:2px;background:linear-gradient(90deg,#0055ff 1.5px,#00e0ff,#00ffa9,#00ff40,#18ff00,#52ff00,#67ff00,#74ff00,#77ff00,#73ff00,#69ff00,#5aff00,#46ff00,#2eff00,#11ff01,#00ff13,#00ff3b,#00ff6a,#00ff9d,#00fedd,#00bbff 1285.5px)"></i><i style="top:1148px;height:2px;background:linear-gradient(90deg,#0054ff 1.5px,#00e0ff,#00ffa9,#00ff40,#18ff00,#52ff00,#66ff00,#73ff00,#76ff00,#72ff00,#68ff00,#59ff00,#45ff00,#2dff00,#10ff01,#00ff14,#00ff3c,#00ff6b,#00ff9e,#00fedf,#00b8ff 1285.5px)"></i><i style="top:1150px;height:2px;background:linear-gradient(90deg,#0053ff 1.5px,#00dfff,#00ffa9,#00ff40,#18ff00,#51ff00,#66ff00,#72ff00,#75ff00,#72ff00,#67ff00,#58ff00,#45ff00,#2cff00,#0fff01,#00ff16,#00ff3e,#00ff6d,#00ffa0,#00fee0,#00b5ff 1285.5px)"></i><i style="top:1152px;height:2px;background:linear-gradient(90deg,#0052ff 1.5px,#00dfff,#00ffa9,#00ff40,#17ff00,#51ff00,#65ff00,#71ff00,#75ff00,#71ff00,#67ff00,#58ff00,#44ff00,#2bff00,#0eff02,#00ff17,#00ff3f,#00ff6e,#00ffa1,#00fee2,#00b2ff 1285.5px)"></i><i style="top:1154px;height:2px;background:linear-gradient(90deg,#0051ff 1.5px,#00dfff,#00ffa9,#00ff40,#17ff00,#50ff00,#64ff00,#71ff00,#74ff00,#70ff00,#66ff00,#57ff00,#43ff00,#2aff00,#0dff02,#00ff18,#00ff40,#00ff6f,#00ffa3,#00fee4,#00aeff 1285.5px)"></i><i style="top:1156px;height:2px;background:linear-gradient(90deg,#0050ff 1.5px,#00deff,#00ffa9,#00ff41,#17ff00,#50ff00,#64ff00,#70ff00,#73ff00,#6fff00,#65ff00,#56ff00,#42ff00,#29ff00,#0cff02,#00ff19,#00ff41,#00ff70,#00ffa4,#00fee6,#00abff 1285.5px)"></i><i style="top:1158px;height:2px;background:linear-gradient(90deg,#004fff 1.5px,#00deff,#00ffaa,#00ff41,#17ff00,#4fff00,#63ff00,#6fff00,#72ff00,#6fff00,#64ff00,#55ff00,#41ff00,#28ff00,#0bff02,#00ff1a,#00ff42,#00ff72,#00ffa6,#00fee8,#00a8ff 1285.5px)"></i><i style="top:1160px;height:2px;background:linear-gradient(90deg,#004eff 1.5px,#00deff,#00ffaa,#00ff41,#17ff00,#4fff00,#62ff00,#6fff00,#72ff00,#6eff00,#64ff00,#55ff00,#40ff00,#27ff00,#0aff02,#00ff1b,#00ff44,#00ff73,#00ffa8,#00fdea,#00a5ff 1285.5px)"></i><i style="top:1162px;height:2px;background:linear-gradient(90deg,#004dff 1.5px,#00deff,#00ffaa,#00ff41,#17ff00,#4eff00,#62ff00,#6eff00,#71ff00,#6dff00,#63ff00,#54ff00,#40ff00,#27ff00,#0aff02,#00ff1c,#00ff45,#00ff74,#00ffa9,#00fdec,#00a1ff 1285.5px)"></i><i style="top:1164px;height:2px;background:linear-gradient(90deg,#004bff 1.5px,#00ddff,#00ffaa,#00ff41,#17ff00,#4dff00,#61ff00,#6dff00,#70ff00,#6dff00,#62ff00,#53ff00,#3fff00,#26ff00,#09ff02,#00ff1d,#00ff46,#00ff76,#00ffab,#00fded,#009eff 1285.5px)"></i><i style="top:1166px;height:2px;background:linear-gradient(90deg,#004aff 1.5px,#00ddff,#00ffaa,#00ff41,#17ff00,#4dff00,#60ff00,#6cff00,#6fff00,#6cff00,#61ff00,#52ff00,#3eff00,#25ff00,#08ff02,#00ff1e,#00ff47,#00ff77,#00ffac,#00fdef,#009bff 1285.5px)"></i><i style="top:1168px;height:2px;background:linear-gradient(90deg,#0049ff 1.5px,#00ddff,#00ffaa,#00ff42,#17ff00,#4cff00,#60ff00,#6cff00,#6fff00,#6bff00,#60ff00,#51ff00,#3dff00,#24ff00,#07ff02,#00ff1f,#00ff48,#00ff78,#00ffae,#00fdf1,#0098ff 1285.5px)"></i><i style="top:1170px;height:2px;background:linear-gradient(90deg,#0048ff 1.5px,#00dcff,#00ffab,#00ff42,#17ff00,#4cff00,#5fff00,#6bff00,#6eff00,#6aff00,#60ff00,#51ff00,#3cff00,#23ff00,#06ff02,#00ff20,#00ff4a,#00ff7a,#00ffaf,#00fdf3,#0094ff 1285.5px)"></i><i style="top:1172px;height:2px;background:linear-gradient(90deg,#0047ff 1.5px,#00dcff,#00ffab,#00ff42,#17ff00,#4bff00,#5eff00,#6aff00,#6dff00,#6aff00,#5fff00,#50ff00,#3bff00,#22ff00,#05ff03,#00ff21,#00ff4b,#00ff7b,#00ffb1,#00fdf5,#0091ff 1285.5px)"></i><i style="top:1174px;height:2px;background:linear-gradient(90deg,#0046ff 1.5px,#00dcff,#00ffab,#00ff42,#17ff00,#4bff00,#5eff00,#6aff00,#6cff00,#69ff00,#5eff00,#4fff00,#3bff00,#21ff00,#04ff03,#00ff22,#00ff4c,#00ff7c,#00ffb3,#00fdf7,#008eff 1285.5px)"></i><i style="top:1176px;height:2px;background:linear-gradient(90deg,#0045ff 1.5px,#00dcff,#00ffab,#00ff42,#17ff00,#4aff00,#5dff00,#69ff00,#6cff00,#68ff00,#5dff00,#4eff00,#3aff00,#20ff00,#03ff03,#00ff23,#00ff4d,#00ff7e,#00ffb4,#00fdf9,#008bff 1285.5px)"></i><i style="top:1178px;height:2px;background:linear-gradient(90deg,#0044ff 1.5px,#00dbff,#00ffab,#00ff42,#16ff00,#4aff00,#5cff00,#68ff00,#6bff00,#67ff00,#5dff00,#4dff00,#39ff00,#1fff00,#02ff03,#00ff24,#00ff4e,#00ff7f,#00ffb6,#00fdfb,#0087ff 1285.5px)"></i><i style="top:1180px;height:2px;background:linear-gradient(90deg,#0043ff 1.5px,#00dbff,#00ffab,#00ff43,#16ff00,#49ff00,#5cff00,#67ff00,#6aff00,#67ff00,#5cff00,#4dff00,#38ff00,#1eff00,#01ff03,#00ff25,#00ff50,#00ff80,#00ffb7,#00fdfc,#0084ff 1285.5px)"></i><i style="top:1182px;height:2px;background:linear-gradient(90deg,#0042ff 1.5px,#00dbff,#00ffac,#00ff43,#16ff00,#49ff00,#5bff00,#67ff00,#69ff00,#66ff00,#5bff00,#4cff00,#37ff00,#1eff00,#00ff03,#00ff26,#00ff51,#00ff82,#00ffb9,#00fdfe,#0081ff 1285.5px)"></i><i style="top:1184px;height:2px;background:linear-gradient(90deg,#0040ff 1.5px,#00daff,#00ffac,#00ff43,#16ff00,#48ff00,#5bff00,#66ff00,#69ff00,#65ff00,#5aff00,#4bff00,#36ff00,#1dff00,#00ff04,#00ff27,#00ff52,#00ff83,#00ffbb,#00fbff,#007dff 1285.5px)"></i><i style="top:1186px;height:2px;background:linear-gradient(90deg,#003fff 1.5px,#00daff,#00ffac,#00ff43,#16ff00,#48ff00,#5aff00,#66ff00,#68ff00,#64ff00,#5aff00,#4aff00,#36ff00,#1cff00,#00ff05,#00ff29,#00ff53,#00ff85,#00ffbd,#00f8ff,#0079ff 1285.5px)"></i><i style="top:1188px;height:2px;background:linear-gradient(90deg,#003dff 1.5px,#00daff,#00ffac,#00ff43,#16ff00,#48ff00,#5aff00,#65ff00,#67ff00,#64ff00,#59ff00,#4aff00,#35ff00,#1bff00,#00ff06,#00ff2a,#00ff55,#00ff86,#00ffbf,#00f5ff,#0075ff 1285.5px)"></i><i style="top:1190px;height:2px;background:linear-gradient(90deg,#003bff 1.5px,#00d9ff,#00ffac,#00ff43,#16ff00,#47ff00,#5aff00,#64ff00,#67ff00,#63ff00,#58ff00,#49ff00,#34ff00,#1aff00,#00ff07,#00ff2b,#00ff56,#00ff88,#00ffc0,#00f3ff,#0071ff 1285.5px)"></i><i style="top:1192px;height:2px;background:linear-gradient(90deg,#003aff 1.5px,#00d9ff,#00ffad,#00ff44,#16ff00,#47ff00,#59ff00,#64ff00,#66ff00,#62ff00,#57ff00,#48ff00,#33ff00,#19ff00,#00ff08,#00ff2c,#00ff57,#00ff89,#00ffc2,#00f0ff,#006dff 1285.5px)"></i><i style="top:1194px;height:2px;background:linear-gradient(90deg,#0038ff 1.5px,#00d8ff,#00ffad,#00ff44,#16ff00,#47ff00,#59ff00,#63ff00,#65ff00,#61ff00,#57ff00,#47ff00,#32ff00,#18ff00,#00ff09,#00ff2d,#00ff59,#00ff8b,#00ffc4,#00edff,#0069ff 1285.5px)"></i><i style="top:1196px;height:2px;background:linear-gradient(90deg,#0037ff 1.5px,#00d8ff,#00ffad,#00ff44,#16ff00,#46ff00,#58ff00,#63ff00,#65ff00,#61ff00,#56ff00,#46ff00,#31ff00,#17ff00,#00ff09,#00ff2e,#00ff5a,#00ff8c,#00ffc6,#00ebff,#0064ff 1285.5px)"></i><i style="top:1198px;height:2px;background:linear-gradient(90deg,#0035ff 1.5px,#00d8ff,#00ffad,#00ff44,#15ff00,#46ff00,#58ff00,#62ff00,#64ff00,#60ff00,#55ff00,#45ff00,#30ff00,#16ff00,#00ff0a,#00ff2f,#00ff5b,#00ff8e,#00ffc8,#00e8ff,#0060ff 1285.5px)"></i><i style="top:1200px;height:2px;background:linear-gradient(90deg,#0033ff 1.5px,#00d7ff,#00ffad,#00ff44,#15ff00,#46ff00,#58ff00,#62ff00,#63ff00,#5fff00,#54ff00,#45ff00,#30ff00,#15ff00,#00ff0b,#00ff30,#00ff5d,#00ff90,#00ffca,#00e5ff,#005cff 1285.5px)"></i><i style="top:1202px;height:2px;background:linear-gradient(90deg,#0032ff 1.5px,#00d7ff,#00ffad,#00ff44,#15ff00,#45ff00,#57ff00,#61ff00,#63ff00,#5fff00,#54ff00,#44ff00,#2fff00,#14ff00,#00ff0c,#00ff32,#00ff5e,#00ff91,#00ffcc,#00e2ff,#0058ff 1285.5px)"></i><i style="top:1204px;height:2px;background:linear-gradient(90deg,#0030ff 1.5px,#00d6ff,#00ffae,#00ff45,#15ff00,#45ff00,#57ff00,#60ff00,#62ff00,#5eff00,#53ff00,#43ff00,#2eff00,#13ff00,#00ff0d,#00ff33,#00ff5f,#00ff93,#00ffce,#00e0ff,#0054ff 1285.5px)"></i><i style="top:1206px;height:2px;background:linear-gradient(90deg,#002fff 1.5px,#00d6ff,#00ffae,#00ff45,#15ff00,#45ff00,#56ff00,#60ff00,#61ff00,#5dff00,#52ff00,#42ff00,#2dff00,#12ff00,#00ff0e,#00ff34,#00ff61,#00ff94,#00ffd0,#00ddff,#0050ff 1285.5px)"></i><i style="top:1208px;height:2px;background:linear-gradient(90deg,#002dff 1.5px,#00d6ff,#00ffae,#00ff45,#15ff00,#44ff00,#56ff00,#5fff00,#61ff00,#5cff00,#51ff00,#41ff00,#2cff00,#11ff00,#00ff0f,#00ff35,#00ff62,#00ff96,#00ffd2,#00daff,#004cff 1285.5px)"></i><i style="top:1210px;height:2px;background:linear-gradient(90deg,#002bff 1.5px,#00d5ff,#00ffae,#00ff45,#15ff00,#44ff00,#56ff00,#5fff00,#60ff00,#5cff00,#51ff00,#41ff00,#2bff00,#10ff00,#00ff10,#00ff36,#00ff63,#00ff97,#00ffd4,#00d8ff,#0048ff 1285.5px)"></i><i style="top:1212px;height:2px;background:linear-gradient(90deg,#002aff 1.5px,#00d5ff,#00ffae,#00ff45,#15ff00,#44ff00,#55ff00,#5eff00,#5fff00,#5bff00,#50ff00,#40ff00,#2aff00,#10ff00,#00ff11,#00ff37,#00ff64,#00ff99,#00ffd6,#00d5ff,#0044ff 1285.5px)"></i><i style="top:1214px;height:2px;background:linear-gradient(90deg,#0028ff 1.5px,#00d4ff,#00ffae,#00ff45,#15ff00,#44ff00,#55ff00,#5eff00,#5fff00,#5aff00,#4fff00,#3fff00,#29ff00,#0fff00,#00ff12,#00ff38,#00ff66,#00ff9a,#00ffd8,#00d2ff,#0040ff 1285.5px)"></i><i style="top:1216px;height:2px;background:linear-gradient(90deg,#0026ff 1.5px,#00d4ff,#00ffaf,#00ff46,#15ff00,#43ff00,#55ff00,#5dff00,#5eff00,#59ff00,#4eff00,#3eff00,#29ff00,#0eff00,#00ff13,#00ff39,#00ff67,#00ff9c,#00ffda,#00cfff,#003bff 1285.5px)"></i><i style="top:1218px;height:2px;background:linear-gradient(90deg,#0025ff 1.5px,#00d4ff,#00ffaf,#00ff46,#14ff00,#43ff00,#54ff00,#5cff00,#5dff00,#59ff00,#4eff00,#3dff00,#28ff00,#0dff00,#00ff14,#00ff3a,#00ff68,#00ff9e,#00ffdc,#00cdff,#0037ff 1285.5px)"></i><i style="top:1220px;height:2px;background:linear-gradient(90deg,#0023ff 1.5px,#00d3ff,#00ffaf,#00ff46,#14ff00,#43ff00,#54ff00,#5cff00,#5dff00,#58ff00,#4dff00,#3dff00,#27ff00,#0cff00,#00ff15,#00ff3c,#00ff6a,#00ff9f,#00ffde,#00caff,#0033ff 1285.5px)"></i><i style="top:1222px;height:2px;background:linear-gradient(90deg,#0022ff 1.5px,#00d3ff,#00ffaf,#00ff46,#14ff00,#42ff00,#53ff00,#5bff00,#5cff00,#57ff00,#4cff00,#3cff00,#26ff00,#0bff00,#00ff16,#00ff3d,#00ff6b,#00ffa1,#00ffe0,#00c7ff,#002fff 1285.5px)"></i><i style="top:1224px;height:2px;background:linear-gradient(90deg,#0020ff 1.5px,#00d2ff,#00ffaf,#00ff46,#14ff00,#42ff00,#53ff00,#5bff00,#5bff00,#56ff00,#4bff00,#3bff00,#25ff00,#0aff00,#00ff17,#00ff3e,#00ff6c,#00ffa2,#00ffe1,#00c5ff,#002bff 1285.5px)"></i><i style="top:1226px;height:2px;background:linear-gradient(90deg,#001eff 1.5px,#00d2ff,#00ffaf,#00ff46,#14ff00,#42ff00,#53ff00,#5aff00,#5bff00,#56ff00,#4bff00,#3aff00,#24ff00,#09ff00,#00ff18,#00ff3f,#00ff6e,#00ffa4,#00ffe3,#00c2ff,#0027ff 1285.5px)"></i><i style="top:1228px;height:2px;background:linear-gradient(90deg,#001dff 1.5px,#00d2ff,#00ffb0,#00ff47,#14ff00,#41ff00,#52ff00,#5aff00,#5aff00,#55ff00,#4aff00,#39ff00,#23ff00,#08ff00,#00ff19,#00ff40,#00ff6f,#00ffa5,#00ffe5,#00bfff,#0023ff 1285.5px)"></i><i style="top:1230px;height:2px;background:linear-gradient(90deg,#001bff 1.5px,#00d1ff,#00ffb0,#00ff47,#14ff00,#41ff00,#52ff00,#59ff00,#59ff00,#54ff00,#49ff00,#39ff00,#22ff00,#07ff00,#00ff1a,#00ff41,#00ff70,#00ffa7,#00ffe7,#00bcff,#001fff 1285.5px)"></i><i style="top:1232px;height:2px;background:linear-gradient(90deg,#001aff 1.5px,#00d1ff,#00ffb0,#00ff47,#14ff00,#41ff00,#52ff00,#58ff00,#59ff00,#54ff00,#48ff00,#38ff00,#22ff00,#06ff00,#00ff1b,#00ff42,#00ff72,#00ffa8,#00ffe9,#00baff,#001bff 1285.5px)"></i><i style="top:1234px;height:2px;background:linear-gradient(90deg,#0018ff 1.5px,#00d1ff,#00ffb0,#00ff47,#14ff00,#40ff00,#51ff00,#58ff00,#58ff00,#53ff00,#47ff00,#37ff00,#21ff00,#05ff00,#00ff1c,#00ff43,#00ff73,#00ffaa,#00ffeb,#00b7ff,#0017ff 1285.5px)"></i><i style="top:1236px;height:2px;background:linear-gradient(90deg,#0016ff 1.5px,#00d0ff,#00ffb0,#00ff47,#14ff00,#40ff00,#51ff00,#57ff00,#57ff00,#52ff00,#47ff00,#36ff00,#20ff00,#04ff00,#00ff1d,#00ff44,#00ff74,#00ffab,#00ffed,#00b4ff,#0012ff 1285.5px)"></i><i style="top:1238px;height:2px;background:linear-gradient(90deg,#0015ff 1.5px,#00d0ff,#00ffb0,#00ff47,#13ff00,#40ff00,#50ff00,#57ff00,#57ff00,#51ff00,#46ff00,#35ff00,#1fff00,#03ff00,#00ff1e,#00ff46,#00ff76,#00ffad,#00ffef,#00b2ff,#000eff 1285.5px)"></i><i style="top:1240px;height:2px;background:linear-gradient(90deg,#0013ff 1.5px,#00cfff,#00ffb1,#00ff48,#13ff00,#40ff00,#50ff00,#56ff00,#56ff00,#51ff00,#45ff00,#35ff00,#1eff00,#02ff00,#00ff1f,#00ff47,#00ff77,#00ffaf,#00fff1,#00afff,#000aff 1285.5px)"></i><i style="top:1242px;height:2px;background:linear-gradient(90deg,#0012ff 1.5px,#00cfff,#00ffb1,#00ff48,#13ff00,#3fff00,#50ff00,#56ff00,#55ff00,#50ff00,#44ff00,#34ff00,#1dff00,#01ff00,#00ff20,#00ff48,#00ff78,#00ffb0,#00fff3,#00acff,#0006ff 1285.5px)"></i><i style="top:1244px;height:2px;background:linear-gradient(90deg,#0010ff 1.5px,#00cfff,#00ffb1,#00ff48,#13ff00,#3fff00,#4fff00,#55ff00,#55ff00,#4fff00,#44ff00,#33ff00,#1cff00,#00ff00,#00ff21,#00ff49,#00ff79,#00ffb2,#00fff5,#00a9ff,#0002ff 1285.5px)"></i><i style="top:1246px;height:2px;background:linear-gradient(90deg,#000fff 1.5px,#00ceff,#00ffb1,#00ff48,#13ff00,#3fff00,#4fff00,#55ff00,#54ff00,#4fff00,#43ff00,#33ff00,#1cff00,#00ff00,#00ff21,#00ff49,#00ff7a,#00ffb2,#00fff6,#00a8ff,#0000ff 1285.5px)"></i></div>
<svg width="1684" height="1692" viewBox="0 0 1684 1692">
<defs><clipPath id="pc"><rect x="285.2" y="124" width="1285.8" height="1247.7"/></clipPath></defs><g clip-path="url(#pc)" fill="none" stroke="rgba(0,0,0,.7)" stroke-width="2.1" stroke-linejoin="round" stroke-linecap="round"><path d="M347.2 126.0L344.2 188.2M1479.7 126.0L1506.3 171.1M1517.1 188.2L1506.3 171.1M344.2 188.2L341.5 250.4M1517.1 188.2L1554.5 250.4M341.5 250.4L337.8 312.6M1554.5 250.4L1570.5 275.8M337.8 312.6L334.7 374.8M334.7 374.8L331.5 437.0M331.5 437.0L328.3 499.2M328.3 499.2L325.5 561.4M325.5 561.4L325.3 623.6M325.3 623.6L324.8 685.8M324.8 685.8L324.1 748.0M324.1 748.0L323.4 810.2M323.4 810.2L322.7 872.4M322.7 872.4L321.9 934.6M321.9 934.6L323.5 996.8M323.5 996.8L325.9 1059.0M325.9 1059.0L330.5 1121.2M330.5 1121.2L333.6 1183.4M333.6 1183.4L338.9 1245.6M338.9 1245.6L344.6 1307.8M1570.5 1260.8L1531.2 1307.8M344.6 1307.8L349.9 1370.0M1506.3 1343.5L1482.3 1370.0M1531.2 1307.8L1506.3 1343.5"/><path d="M403.3 126.0L401.2 188.2M1426.7 126.0L1442.1 157.3M1457.4 188.2L1442.1 157.3M401.2 188.2L398.9 250.4M1457.4 188.2L1488.3 250.4M398.9 250.4L395.5 312.6M1488.3 250.4L1506.3 288.7M1519.1 312.6L1506.3 288.7M395.5 312.6L393.7 374.8M1519.1 312.6L1550.3 374.8M393.7 374.8L392.1 437.0M1550.3 374.8L1570.5 415.1M392.1 437.0L390.5 499.2M390.5 499.2L388.6 561.4M388.6 561.4L387.4 623.6M387.4 623.6L386.7 685.8M386.7 685.8L386.2 748.0M386.2 748.0L385.9 810.2M385.9 810.2L385.3 872.4M385.3 872.4L384.6 934.6M384.6 934.6L385.3 996.8M385.3 996.8L386.4 1059.0M386.4 1059.0L388.5 1121.2M388.5 1121.2L390.7 1183.4M1570.5 1160.8L1557.6 1183.4M390.7 1183.4L394.0 1245.6M1557.6 1183.4L1511.6 1245.6M394.0 1245.6L397.6 1307.8M1506.3 1252.7L1458.6 1307.8M1511.6 1245.6L1506.3 1252.7M397.6 1307.8L401.2 1370.0M1442.1 1326.9L1402.2 1370.0M1458.6 1307.8L1442.1 1326.9"/><path d="M464.0 126.0L462.8 188.2M1364.6 126.0L1377.9 160.0M1389.2 188.2L1377.9 160.0M462.8 188.2L461.5 250.4M1389.2 188.2L1414.0 250.4M461.5 250.4L460.2 312.6M1414.0 250.4L1436.9 312.6M460.2 312.6L458.9 374.8M1436.9 312.6L1442.1 326.7M1459.9 374.8L1442.1 326.7M458.9 374.8L457.7 437.0M1459.9 374.8L1483.2 437.0M457.7 437.0L456.4 499.2M1483.2 437.0L1503.6 499.2M456.4 499.2L455.0 561.4M1503.6 499.2L1506.3 509.6M1521.1 561.4L1506.3 509.6M455.0 561.4L453.9 623.6M1521.1 561.4L1536.8 623.6M453.9 623.6L453.1 685.8M1536.8 623.6L1551.0 685.8M453.1 685.8L452.3 748.0M1551.0 685.8L1557.4 748.0M452.3 748.0L451.5 810.2M1557.4 748.0L1559.3 810.2M451.5 810.2L450.8 872.4M1559.3 810.2L1556.3 872.4M450.8 872.4L450.1 934.6M1556.3 872.4L1544.5 934.6M450.1 934.6L450.9 996.8M1544.5 934.6L1526.9 996.8M450.9 996.8L450.7 1059.0M1526.9 996.8L1507.9 1059.0M450.7 1059.0L451.0 1121.2M1506.3 1064.0L1488.0 1121.2M1507.9 1059.0L1506.3 1064.0M451.0 1121.2L451.9 1183.4M1488.0 1121.2L1450.2 1183.4M451.9 1183.4L454.4 1245.6M1442.1 1193.7L1395.3 1245.6M1450.2 1183.4L1442.1 1193.7M454.4 1245.6L457.5 1307.8M1377.9 1265.2L1340.9 1307.8M1395.3 1245.6L1377.9 1265.2M457.5 1307.8L460.7 1370.0M1313.7 1339.4L1287.1 1370.0M1340.9 1307.8L1313.7 1339.4"/><path d="M529.4 126.0L528.5 188.2M1295.1 126.0L1312.9 188.2M528.5 188.2L527.5 250.4M1312.9 188.2L1313.7 191.3M1330.7 250.4L1313.7 191.3M527.5 250.4L526.6 312.6M1330.7 250.4L1348.1 312.6M526.6 312.6L525.6 374.8M1348.1 312.6L1365.9 374.8M525.6 374.8L524.6 437.0M1365.9 374.8L1377.9 419.3M1383.6 437.0L1377.9 419.3M524.6 437.0L523.7 499.2M1383.6 437.0L1401.2 499.2M523.7 499.2L522.8 561.4M1401.2 499.2L1414.5 561.4M522.8 561.4L522.1 623.6M1414.5 561.4L1423.5 623.6M522.1 623.6L521.4 685.8M1423.5 623.6L1432.4 685.8M521.4 685.8L520.6 748.0M1432.4 685.8L1438.3 748.0M520.6 748.0L519.9 810.2M1438.3 748.0L1438.0 810.2M519.9 810.2L519.1 872.4M1438.0 810.2L1435.7 872.4M519.1 872.4L518.4 934.6M1435.7 872.4L1430.5 934.6M518.4 934.6L517.7 996.8M1430.5 934.6L1417.6 996.8M517.7 996.8L517.3 1059.0M1417.6 996.8L1401.9 1059.0M517.3 1059.0L520.3 1121.2M1377.9 1098.6L1356.8 1121.2M1401.9 1059.0L1377.9 1098.6M520.3 1121.2L522.8 1183.4M1313.7 1166.5L1297.4 1183.4M1356.8 1121.2L1313.7 1166.5M522.8 1183.4L525.0 1245.6M1249.5 1234.2L1238.3 1245.6M1297.4 1183.4L1249.5 1234.2M525.0 1245.6L527.3 1307.8M1185.3 1301.8L1179.2 1307.8M1238.3 1245.6L1185.3 1301.8M527.3 1307.8L529.8 1370.0M1121.1 1369.5L1120.6 1370.0M1179.2 1307.8L1121.1 1369.5"/><path d="M600.0 126.0L598.9 188.2M1223.9 126.0L1239.7 188.2M598.9 188.2L597.9 250.4M1239.7 188.2L1249.5 224.2M1256.2 250.4L1249.5 224.2M597.9 250.4L596.8 312.6M1256.2 250.4L1270.6 312.6M596.8 312.6L595.7 374.8M1270.6 312.6L1282.7 374.8M595.7 374.8L594.6 437.0M1282.7 374.8L1295.0 437.0M594.6 437.0L593.5 499.2M1295.0 437.0L1307.6 499.2M593.5 499.2L592.6 561.4M1307.6 499.2L1313.7 537.2M1317.6 561.4L1313.7 537.2M592.6 561.4L591.7 623.6M1317.6 561.4L1325.1 623.6M591.7 623.6L590.8 685.8M1325.1 623.6L1332.3 685.8M590.8 685.8L590.0 748.0M1332.3 685.8L1334.4 748.0M590.0 748.0L589.1 810.2M1334.4 748.0L1334.0 810.2M589.1 810.2L588.2 872.4M1334.0 810.2L1333.4 872.4M588.2 872.4L587.3 934.6M1333.4 872.4L1326.6 934.6M587.3 934.6L587.2 996.8M1313.7 960.8L1274.7 996.8M1326.6 934.6L1313.7 960.8M587.2 996.8L587.5 1059.0M1249.5 1020.7L1207.6 1059.0M1274.7 996.8L1249.5 1020.7M587.5 1059.0L589.1 1121.2M1185.3 1080.2L1140.7 1121.2M1207.6 1059.0L1185.3 1080.2M589.1 1121.2L601.6 1183.4M1121.1 1139.7L1068.2 1183.4M1140.7 1121.2L1121.1 1139.7M601.6 1183.4L607.5 1206.6M644.0 1245.6L607.5 1206.6M992.7 1240.1L983.4 1245.6M1056.9 1193.0L992.7 1240.1M1068.2 1183.4L1056.9 1193.0M644.0 1245.6L671.7 1274.5M733.4 1307.8L671.7 1274.5M864.3 1306.7L857.0 1307.8M928.5 1278.4L864.3 1306.7M983.4 1245.6L928.5 1278.4M733.4 1307.8L735.9 1309.4M800.1 1317.1L735.9 1309.4M857.0 1307.8L800.1 1317.1"/><path d="M673.4 126.0L672.3 188.2M1152.9 126.0L1164.5 188.2M671.7 222.9L671.3 250.4M672.3 188.2L671.7 222.9M1164.5 188.2L1175.5 250.4M671.3 250.4L670.2 312.6M1175.5 250.4L1185.3 306.8M1186.6 312.6L1185.3 306.8M670.2 312.6L669.2 374.8M1186.6 312.6L1197.4 374.8M669.2 374.8L668.1 437.0M1197.4 374.8L1208.4 437.0M668.1 437.0L667.1 499.2M1208.4 437.0L1219.6 499.2M667.1 499.2L666.3 561.4M1219.6 499.2L1228.1 561.4M666.3 561.4L665.8 623.6M1228.1 561.4L1233.6 623.6M665.8 623.6L665.5 685.8M1233.6 623.6L1237.0 685.8M665.5 685.8L665.0 748.0M1237.0 685.8L1234.7 748.0M665.0 748.0L664.6 810.2M1234.7 748.0L1210.9 810.2M664.6 810.2L664.0 872.4M1185.3 832.5L1132.9 872.4M1210.9 810.2L1185.3 832.5M664.0 872.4L669.2 934.6M1056.9 923.2L1038.0 934.6M1121.1 882.4L1056.9 923.2M1132.9 872.4L1121.1 882.4M669.2 934.6L671.7 943.2M735.9 988.9L671.7 943.2M765.1 996.8L735.9 988.9M928.5 992.5L909.2 996.8M992.7 963.3L928.5 992.5M1038.0 934.6L992.7 963.3M765.1 996.8L800.1 1009.1M864.3 1007.9L800.1 1009.1M909.2 996.8L864.3 1007.9"/><path d="M749.7 126.0L749.0 188.2M1084.8 126.0L1094.7 188.2M749.0 188.2L748.1 250.4M1094.7 188.2L1105.6 250.4M748.1 250.4L747.4 312.6M1105.6 250.4L1116.3 312.6M747.4 312.6L748.2 374.8M1116.3 312.6L1121.1 342.6M1125.0 374.8L1121.1 342.6M748.2 374.8L748.9 437.0M1125.0 374.8L1132.8 437.0M748.9 437.0L749.5 499.2M1132.8 437.0L1139.6 499.2M749.5 499.2L752.0 561.4M1139.6 499.2L1132.0 561.4M752.0 561.4L762.0 623.6M1121.1 590.3L1068.0 623.6M1132.0 561.4L1121.1 590.3M762.0 623.6L800.1 667.4M864.3 679.8L800.1 667.4M928.5 674.9L864.3 679.8M992.7 656.5L928.5 674.9M1056.9 630.8L992.7 656.5M1068.0 623.6L1056.9 630.8"/><path d="M830.9 126.0L834.0 188.2M1016.1 126.0L1019.0 188.2M834.0 188.2L846.2 250.4M1019.0 188.2L1013.4 250.4M846.2 250.4L864.3 287.3M918.1 312.6L864.3 287.3M992.7 290.1L939.2 312.6M1013.4 250.4L992.7 290.1M918.1 312.6L928.5 321.4M939.2 312.6L928.5 321.4"/></g>
<g fill="rgba(0,0,10,.45)"><rect x="285.2" y="124" width="1285.8" height="4.8"/><rect x="285.2" y="1366.9" width="1285.8" height="4.8"/></g><g fill="rgba(0,0,18,.64)"><rect x="285.2" y="128.8" width="2.9" height="1238.1"/><rect x="1568.1" y="128.8" width="2.9" height="1238.1"/></g>
<g fill="#a2a2a2"><rect x="249.8" y="124.4" width="35.4" height="4.6"/><rect x="249.8" y="1366.4" width="35.4" height="4.8"/></g>
<g fill="#454545"><rect x="250" y="435.1" width="35.2" height="2.7"/><rect x="250" y="746.4" width="35.2" height="2.7"/><rect x="250" y="1058" width="35.2" height="2.7"/></g>
<g fill="#666"><rect x="285.3" y="1371.7" width="2.8" height="33.9"/><rect x="606.8" y="1371.7" width="2.8" height="33.9"/><rect x="927.8" y="1371.7" width="2.8" height="33.9"/><rect x="1248.1" y="1371.7" width="2.8" height="33.9"/><rect x="1568.2" y="1371.7" width="2.8" height="33.9"/></g>
</svg>
<div class="lb" style="left:285.5px;top:229.5px;width:148.5px;height:84.3px"></div><div class="t" style="left:286.5px;top:235.7px;font-size:73px">0.20</div><div class="lb" style="left:322.4px;top:540.5px;width:148.5px;height:84.3px"></div><div class="t" style="left:332.8px;top:546.7px;font-size:73px">0.30</div><div class="lb" style="left:367.6px;top:767.8px;width:148.5px;height:84.3px"></div><div class="t" style="left:378.0px;top:774.0px;font-size:73px">0.40</div><div class="lb" style="left:449.2px;top:1021.9px;width:148.5px;height:84.3px"></div><div class="t" style="left:459.6px;top:1028.1px;font-size:73px">0.50</div><div class="lb" style="left:854.0px;top:234.8px;width:148.5px;height:84.3px"></div><div class="t" style="left:864.4px;top:241.1px;font-size:73px">0.90</div><div class="lb" style="left:918.9px;top:573.5px;width:148.5px;height:84.3px"></div><div class="t" style="left:929.3px;top:579.7px;font-size:73px">0.80</div><div class="lb" style="left:836.9px;top:912.3px;width:148.5px;height:84.3px"></div><div class="t" style="left:847.2px;top:918.5px;font-size:73px">0.70</div><div class="lb" style="left:909.8px;top:1161.1px;width:148.5px;height:84.3px"></div><div class="t" style="left:920.2px;top:1167.3px;font-size:73px">0.60</div><div class="lb" style="left:1413.7px;top:167.2px;width:148.5px;height:84.3px"></div><div class="t" style="left:1424.1px;top:173.5px;font-size:73px">0.30</div><div class="lb" style="left:1422.5px;top:424.9px;width:148.5px;height:84.3px"></div><div class="t" style="left:1442.3px;top:431.1px;font-size:73px">0.40</div><div class="lb" style="left:1364.7px;top:726.4px;width:148.5px;height:84.3px"></div><div class="t" style="left:1375.1px;top:732.6px;font-size:73px">0.50</div><div class="lb" style="left:1422.5px;top:1110.3px;width:148.5px;height:84.3px"></div><div class="t" style="left:1442.3px;top:1116.6px;font-size:73px">0.30</div><div class="lb" style="left:1422.5px;top:1260.1px;width:148.5px;height:84.3px"></div><div class="t" style="left:1442.3px;top:1266.3px;font-size:73px">0.20</div>
<div class="t" style="left:722px;top:24.6px;font-size:85.5px">Desirability</div>
<div class="t" style="right:1445px;top:83.0px;font-size:77px">0.70</div>
<div class="t" style="right:1445px;top:393.6px;font-size:77px">0.60</div>
<div class="t" style="right:1445px;top:704.3px;font-size:77px">0.50</div>
<div class="t" style="right:1445px;top:1015.0px;font-size:77px">0.40</div>
<div class="t" style="right:1445px;top:1325.6px;font-size:77px">0.30</div>
<div class="t" style="left:288px;top:1417.9px;font-size:76px;transform:translateX(-50%)">500</div>
<div class="t" style="left:609.5px;top:1417.9px;font-size:76px;transform:translateX(-50%)">1000</div>
<div class="t" style="left:930px;top:1417.9px;font-size:76px;transform:translateX(-50%)">1500</div>
<div class="t" style="left:1249.5px;top:1417.9px;font-size:76px;transform:translateX(-50%)">2000</div>
<div class="t" style="left:1570px;top:1417.9px;font-size:76px;transform:translateX(-50%)">2500</div>
<div class="t" style="left:589.8px;top:1577.7px;font-size:82px">Shear modulus/MPa</div>
<div class="t" style="left:19.8px;top:1124.7px;font-size:80px;transform-origin:0 0;transform:rotate(-90deg)">Coefficient of restitution</div>
</body></html>
